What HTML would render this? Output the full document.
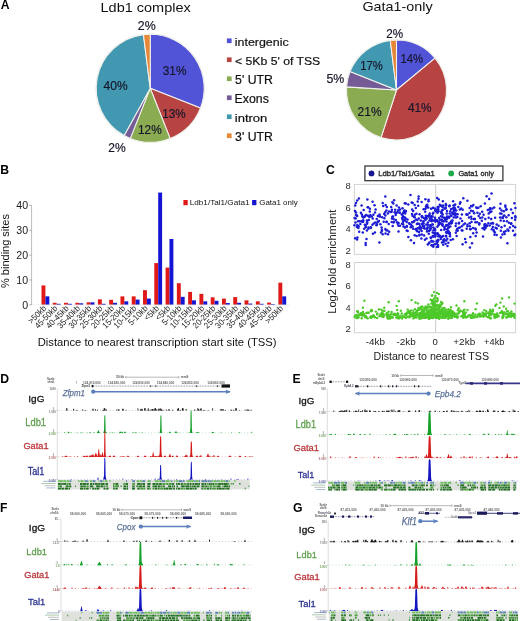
<!DOCTYPE html>
<html><head><meta charset="utf-8"><style>
html,body{margin:0;padding:0;background:#fff;}
body{width:520px;height:621px;overflow:hidden;}
svg{display:block;filter:blur(0.3px);}
svg text{font-family:"Liberation Sans", sans-serif;}
</style></head><body>
<svg width="520" height="621" viewBox="0 0 520 621">
<rect width="520" height="621" fill="#fff"/>
<text x="0.84" y="9.20" font-size="12.2" font-weight="bold" fill="#000">A</text>
<circle cx="150.2" cy="88.2" r="54.7" fill="#e9ebe4"/>
<path d="M150.20,88.20 L150.20,34.20 A54,54 0 0 1 200.41,108.08 Z" fill="#5254d8" stroke="#f2f2ee" stroke-width="1.05" stroke-linejoin="round"/>
<path d="M150.20,88.20 L200.41,108.08 A54,54 0 0 1 170.08,138.41 Z" fill="#b74443" stroke="#f2f2ee" stroke-width="1.05" stroke-linejoin="round"/>
<path d="M150.20,88.20 L170.08,138.41 A54,54 0 0 1 130.32,138.41 Z" fill="#8aab52" stroke="#f2f2ee" stroke-width="1.05" stroke-linejoin="round"/>
<path d="M150.20,88.20 L130.32,138.41 A54,54 0 0 1 124.19,135.52 Z" fill="#765c96" stroke="#f2f2ee" stroke-width="1.05" stroke-linejoin="round"/>
<path d="M150.20,88.20 L124.19,135.52 A54,54 0 0 1 143.43,34.63 Z" fill="#4298b0" stroke="#f2f2ee" stroke-width="1.05" stroke-linejoin="round"/>
<path d="M150.20,88.20 L143.43,34.63 A54,54 0 0 1 150.20,34.20 Z" fill="#e48838" stroke="#f2f2ee" stroke-width="1.05" stroke-linejoin="round"/>
<circle cx="396.5" cy="90.0" r="50.7" fill="#e9ebe4"/>
<path d="M396.50,90.00 L396.50,40.00 A50,50 0 0 1 435.03,58.13 Z" fill="#5254d8" stroke="#f2f2ee" stroke-width="1.05" stroke-linejoin="round"/>
<path d="M396.50,90.00 L435.03,58.13 A50,50 0 0 1 381.05,137.55 Z" fill="#b74443" stroke="#f2f2ee" stroke-width="1.05" stroke-linejoin="round"/>
<path d="M396.50,90.00 L381.05,137.55 A50,50 0 0 1 346.60,86.86 Z" fill="#8aab52" stroke="#f2f2ee" stroke-width="1.05" stroke-linejoin="round"/>
<path d="M396.50,90.00 L346.60,86.86 A50,50 0 0 1 350.01,71.59 Z" fill="#765c96" stroke="#f2f2ee" stroke-width="1.05" stroke-linejoin="round"/>
<path d="M396.50,90.00 L350.01,71.59 A50,50 0 0 1 390.23,40.39 Z" fill="#4298b0" stroke="#f2f2ee" stroke-width="1.05" stroke-linejoin="round"/>
<path d="M396.50,90.00 L390.23,40.39 A50,50 0 0 1 396.50,40.00 Z" fill="#e48838" stroke="#f2f2ee" stroke-width="1.05" stroke-linejoin="round"/>
<text x="100.54" y="11.90" font-size="13.38" fill="#111" textLength="90.22" lengthAdjust="spacingAndGlyphs">Ldb1 complex</text>
<text x="362.48" y="11.40" font-size="12.55" fill="#111" textLength="70.14" lengthAdjust="spacingAndGlyphs">Gata1-only</text>
<text x="137.78" y="29.50" font-size="11.86" fill="#16162a" stroke="#16162a" stroke-width="0.18" textLength="17.85" lengthAdjust="spacingAndGlyphs">2%</text>
<text x="162.73" y="75.20" font-size="11.86" fill="#16162a" stroke="#16162a" stroke-width="0.18" textLength="23.71" lengthAdjust="spacingAndGlyphs">31%</text>
<text x="103.56" y="89.80" font-size="12.00" fill="#16162a" stroke="#16162a" stroke-width="0.18" textLength="24.08" lengthAdjust="spacingAndGlyphs">40%</text>
<text x="162.33" y="118.30" font-size="11.86" fill="#16162a" stroke="#16162a" stroke-width="0.18" textLength="23.30" lengthAdjust="spacingAndGlyphs">13%</text>
<text x="138.01" y="133.60" font-size="11.86" fill="#16162a" stroke="#16162a" stroke-width="0.18" textLength="23.83" lengthAdjust="spacingAndGlyphs">12%</text>
<text x="108.30" y="151.50" font-size="11.86" fill="#16162a" stroke="#16162a" stroke-width="0.18" textLength="17.43" lengthAdjust="spacingAndGlyphs">2%</text>
<text x="386.32" y="37.50" font-size="11.86" fill="#16162a" stroke="#16162a" stroke-width="0.18" textLength="16.90" lengthAdjust="spacingAndGlyphs">2%</text>
<text x="400.55" y="63.10" font-size="11.94" fill="#16162a" stroke="#16162a" stroke-width="0.18" textLength="22.56" lengthAdjust="spacingAndGlyphs">14%</text>
<text x="360.35" y="70.30" font-size="11.94" fill="#16162a" stroke="#16162a" stroke-width="0.18" textLength="22.56" lengthAdjust="spacingAndGlyphs">17%</text>
<text x="326.41" y="83.20" font-size="11.94" fill="#16162a" stroke="#16162a" stroke-width="0.18" textLength="17.83" lengthAdjust="spacingAndGlyphs">5%</text>
<text x="357.50" y="116.10" font-size="11.86" fill="#16162a" stroke="#16162a" stroke-width="0.18" textLength="24.14" lengthAdjust="spacingAndGlyphs">21%</text>
<text x="407.96" y="111.50" font-size="11.94" fill="#16162a" stroke="#16162a" stroke-width="0.18" textLength="23.67" lengthAdjust="spacingAndGlyphs">41%</text>
<rect x="226.90" y="38.40" width="4.70" height="4.70" fill="#5254d8"/>
<text x="234.79" y="45.60" font-size="11.72" fill="#111" stroke="#111" stroke-width="0.2" textLength="53.83" lengthAdjust="spacingAndGlyphs">intergenic</text>
<rect x="226.90" y="57.40" width="4.70" height="4.70" fill="#b74443"/>
<text x="234.99" y="64.60" font-size="11.72" fill="#111" stroke="#111" stroke-width="0.2" textLength="85.29" lengthAdjust="spacingAndGlyphs">&lt; 5Kb 5' of TSS</text>
<rect x="226.90" y="76.40" width="4.70" height="4.70" fill="#8aab52"/>
<text x="235.11" y="83.60" font-size="12.32" fill="#111" stroke="#111" stroke-width="0.2" textLength="37.85" lengthAdjust="spacingAndGlyphs">5' UTR</text>
<rect x="226.90" y="95.40" width="4.70" height="4.70" fill="#765c96"/>
<text x="234.61" y="102.60" font-size="12.32" fill="#111" stroke="#111" stroke-width="0.2" textLength="34.31" lengthAdjust="spacingAndGlyphs">Exons</text>
<rect x="226.90" y="114.40" width="4.70" height="4.70" fill="#4298b0"/>
<text x="234.75" y="121.60" font-size="11.72" fill="#111" stroke="#111" stroke-width="0.2" textLength="32.62" lengthAdjust="spacingAndGlyphs">intron</text>
<rect x="226.90" y="133.40" width="4.70" height="4.70" fill="#e48838"/>
<text x="235.11" y="140.60" font-size="12.14" fill="#111" stroke="#111" stroke-width="0.2" textLength="37.85" lengthAdjust="spacingAndGlyphs">3' UTR</text>
<text x="0.17" y="173.65" font-size="12.2" font-weight="bold" fill="#000">B</text>
<line x1="31.60" y1="205.40" x2="31.60" y2="305.00" stroke="#bdbdbd" stroke-width="1.0"/>
<line x1="29.30" y1="304.80" x2="31.60" y2="304.80" stroke="#9a9a9a" stroke-width="0.8"/>
<text x="22.19" y="308.50" font-size="10.57" fill="#1a1a1a" textLength="5.90" lengthAdjust="spacingAndGlyphs">0</text>
<line x1="29.30" y1="279.97" x2="31.60" y2="279.97" stroke="#9a9a9a" stroke-width="0.8"/>
<text x="16.31" y="283.67" font-size="10.57" fill="#1a1a1a" textLength="11.79" lengthAdjust="spacingAndGlyphs">10</text>
<line x1="29.30" y1="255.14" x2="31.60" y2="255.14" stroke="#9a9a9a" stroke-width="0.8"/>
<text x="16.30" y="258.84" font-size="10.57" fill="#1a1a1a" textLength="11.79" lengthAdjust="spacingAndGlyphs">20</text>
<line x1="29.30" y1="230.31" x2="31.60" y2="230.31" stroke="#9a9a9a" stroke-width="0.8"/>
<text x="16.30" y="234.01" font-size="10.57" fill="#1a1a1a" textLength="11.79" lengthAdjust="spacingAndGlyphs">30</text>
<line x1="29.30" y1="205.48" x2="31.60" y2="205.48" stroke="#9a9a9a" stroke-width="0.8"/>
<text x="16.30" y="209.18" font-size="10.57" fill="#1a1a1a" textLength="11.79" lengthAdjust="spacingAndGlyphs">40</text>
<rect x="41.50" y="285.43" width="3.90" height="19.37" fill="#e01818"/>
<rect x="45.40" y="296.36" width="3.90" height="8.44" fill="#1414d4"/>
<text x="46.80" y="309.00" font-size="8.6" fill="#1a1a1a" text-anchor="end" textLength="21.47" lengthAdjust="spacingAndGlyphs" transform="rotate(-45 46.80 309.00)">&gt;50kb</text>
<rect x="52.78" y="302.81" width="3.90" height="1.99" fill="#e01818"/>
<rect x="56.68" y="303.81" width="3.90" height="0.99" fill="#1414d4"/>
<text x="58.08" y="309.00" font-size="8.6" fill="#1a1a1a" text-anchor="end" textLength="28.19" lengthAdjust="spacingAndGlyphs" transform="rotate(-45 58.08 309.00)">45-50kb</text>
<rect x="64.06" y="302.81" width="3.90" height="1.99" fill="#e01818"/>
<rect x="67.96" y="303.81" width="3.90" height="0.99" fill="#1414d4"/>
<text x="69.36" y="309.00" font-size="8.6" fill="#1a1a1a" text-anchor="end" textLength="28.19" lengthAdjust="spacingAndGlyphs" transform="rotate(-45 69.36 309.00)">40-45kb</text>
<rect x="75.34" y="302.81" width="3.90" height="1.99" fill="#e01818"/>
<rect x="79.24" y="303.31" width="3.90" height="1.49" fill="#1414d4"/>
<text x="80.64" y="309.00" font-size="8.6" fill="#1a1a1a" text-anchor="end" textLength="28.19" lengthAdjust="spacingAndGlyphs" transform="rotate(-45 80.64 309.00)">35-40kb</text>
<rect x="86.62" y="302.32" width="3.90" height="2.48" fill="#e01818"/>
<rect x="90.52" y="302.32" width="3.90" height="2.48" fill="#1414d4"/>
<text x="91.92" y="309.00" font-size="8.6" fill="#1a1a1a" text-anchor="end" textLength="28.19" lengthAdjust="spacingAndGlyphs" transform="rotate(-45 91.92 309.00)">30-35kb</text>
<rect x="97.90" y="299.34" width="3.90" height="5.46" fill="#e01818"/>
<rect x="101.80" y="303.81" width="3.90" height="0.99" fill="#1414d4"/>
<text x="103.20" y="309.00" font-size="8.6" fill="#1a1a1a" text-anchor="end" textLength="28.19" lengthAdjust="spacingAndGlyphs" transform="rotate(-45 103.20 309.00)">25-30kb</text>
<rect x="109.18" y="299.83" width="3.90" height="4.97" fill="#e01818"/>
<rect x="113.08" y="302.81" width="3.90" height="1.99" fill="#1414d4"/>
<text x="114.48" y="309.00" font-size="8.6" fill="#1a1a1a" text-anchor="end" textLength="28.19" lengthAdjust="spacingAndGlyphs" transform="rotate(-45 114.48 309.00)">20-25kb</text>
<rect x="120.46" y="296.36" width="3.90" height="8.44" fill="#e01818"/>
<rect x="124.36" y="301.32" width="3.90" height="3.48" fill="#1414d4"/>
<text x="125.76" y="309.00" font-size="8.6" fill="#1a1a1a" text-anchor="end" textLength="28.19" lengthAdjust="spacingAndGlyphs" transform="rotate(-45 125.76 309.00)">15-20kb</text>
<rect x="131.74" y="296.36" width="3.90" height="8.44" fill="#e01818"/>
<rect x="135.64" y="299.59" width="3.90" height="5.21" fill="#1414d4"/>
<text x="137.04" y="309.00" font-size="8.6" fill="#1a1a1a" text-anchor="end" textLength="28.19" lengthAdjust="spacingAndGlyphs" transform="rotate(-45 137.04 309.00)">10-15kb</text>
<rect x="143.02" y="290.15" width="3.90" height="14.65" fill="#e01818"/>
<rect x="146.92" y="298.59" width="3.90" height="6.21" fill="#1414d4"/>
<text x="148.32" y="309.00" font-size="8.6" fill="#1a1a1a" text-anchor="end" textLength="23.85" lengthAdjust="spacingAndGlyphs" transform="rotate(-45 148.32 309.00)">5-10kb</text>
<rect x="154.30" y="263.09" width="3.90" height="41.71" fill="#e01818"/>
<rect x="158.20" y="192.57" width="3.90" height="112.23" fill="#1414d4"/>
<text x="159.60" y="309.00" font-size="8.6" fill="#1a1a1a" text-anchor="end" textLength="17.13" lengthAdjust="spacingAndGlyphs" transform="rotate(-45 159.60 309.00)">&lt;5kb</text>
<rect x="165.58" y="267.56" width="3.90" height="37.25" fill="#e01818"/>
<rect x="169.48" y="239.00" width="3.90" height="65.80" fill="#1414d4"/>
<text x="170.88" y="309.00" font-size="8.6" fill="#1a1a1a" text-anchor="end" textLength="17.13" lengthAdjust="spacingAndGlyphs" transform="rotate(-45 170.88 309.00)">&lt;5kb</text>
<rect x="176.86" y="283.20" width="3.90" height="21.60" fill="#e01818"/>
<rect x="180.76" y="296.85" width="3.90" height="7.95" fill="#1414d4"/>
<text x="182.16" y="309.00" font-size="8.6" fill="#1a1a1a" text-anchor="end" textLength="23.85" lengthAdjust="spacingAndGlyphs" transform="rotate(-45 182.16 309.00)">5-10kb</text>
<rect x="188.14" y="291.89" width="3.90" height="12.91" fill="#e01818"/>
<rect x="192.04" y="300.33" width="3.90" height="4.47" fill="#1414d4"/>
<text x="193.44" y="309.00" font-size="8.6" fill="#1a1a1a" text-anchor="end" textLength="28.19" lengthAdjust="spacingAndGlyphs" transform="rotate(-45 193.44 309.00)">10-15kb</text>
<rect x="199.42" y="293.87" width="3.90" height="10.93" fill="#e01818"/>
<rect x="203.32" y="301.32" width="3.90" height="3.48" fill="#1414d4"/>
<text x="204.72" y="309.00" font-size="8.6" fill="#1a1a1a" text-anchor="end" textLength="28.19" lengthAdjust="spacingAndGlyphs" transform="rotate(-45 204.72 309.00)">15-20kb</text>
<rect x="210.70" y="297.35" width="3.90" height="7.45" fill="#e01818"/>
<rect x="214.60" y="300.83" width="3.90" height="3.97" fill="#1414d4"/>
<text x="216.00" y="309.00" font-size="8.6" fill="#1a1a1a" text-anchor="end" textLength="28.19" lengthAdjust="spacingAndGlyphs" transform="rotate(-45 216.00 309.00)">20-25kb</text>
<rect x="221.98" y="298.59" width="3.90" height="6.21" fill="#e01818"/>
<rect x="225.88" y="303.06" width="3.90" height="1.74" fill="#1414d4"/>
<text x="227.28" y="309.00" font-size="8.6" fill="#1a1a1a" text-anchor="end" textLength="28.19" lengthAdjust="spacingAndGlyphs" transform="rotate(-45 227.28 309.00)">25-30kb</text>
<rect x="233.26" y="297.10" width="3.90" height="7.70" fill="#e01818"/>
<rect x="237.16" y="302.81" width="3.90" height="1.99" fill="#1414d4"/>
<text x="238.56" y="309.00" font-size="8.6" fill="#1a1a1a" text-anchor="end" textLength="28.19" lengthAdjust="spacingAndGlyphs" transform="rotate(-45 238.56 309.00)">30-35kb</text>
<rect x="244.54" y="300.33" width="3.90" height="4.47" fill="#e01818"/>
<rect x="248.44" y="303.56" width="3.90" height="1.24" fill="#1414d4"/>
<text x="249.84" y="309.00" font-size="8.6" fill="#1a1a1a" text-anchor="end" textLength="28.19" lengthAdjust="spacingAndGlyphs" transform="rotate(-45 249.84 309.00)">35-40kb</text>
<rect x="255.82" y="301.32" width="3.90" height="3.48" fill="#e01818"/>
<rect x="259.72" y="303.81" width="3.90" height="0.99" fill="#1414d4"/>
<text x="261.12" y="309.00" font-size="8.6" fill="#1a1a1a" text-anchor="end" textLength="28.19" lengthAdjust="spacingAndGlyphs" transform="rotate(-45 261.12 309.00)">40-45kb</text>
<rect x="267.10" y="302.57" width="3.90" height="2.23" fill="#e01818"/>
<rect x="271.00" y="304.06" width="3.90" height="0.74" fill="#1414d4"/>
<text x="272.40" y="309.00" font-size="8.6" fill="#1a1a1a" text-anchor="end" textLength="28.19" lengthAdjust="spacingAndGlyphs" transform="rotate(-45 272.40 309.00)">45-50kb</text>
<rect x="278.38" y="282.70" width="3.90" height="22.10" fill="#e01818"/>
<rect x="282.28" y="296.36" width="3.90" height="8.44" fill="#1414d4"/>
<text x="283.68" y="309.00" font-size="8.6" fill="#1a1a1a" text-anchor="end" textLength="21.47" lengthAdjust="spacingAndGlyphs" transform="rotate(-45 283.68 309.00)">&gt;50kb</text>
<line x1="31.60" y1="304.90" x2="290.00" y2="304.90" stroke="#e0e0e0" stroke-width="0.5"/>
<rect x="183.40" y="200.00" width="4.30" height="5.20" fill="#e01818"/>
<text x="189.75" y="204.80" font-size="7.59" fill="#111" textLength="59.81" lengthAdjust="spacingAndGlyphs">Ldb1/Tal1/Gata1</text>
<rect x="252.10" y="200.00" width="4.30" height="5.20" fill="#1414d4"/>
<text x="259.20" y="204.80" font-size="7.59" fill="#111" textLength="38.51" lengthAdjust="spacingAndGlyphs">Gata1 only</text>
<text x="8.90" y="287.98" font-size="10.62" fill="#111" textLength="73.98" lengthAdjust="spacingAndGlyphs" transform="rotate(-90 8.90 287.98)">% binding sites</text>
<text x="37.70" y="345.70" font-size="10.76" fill="#111" textLength="238.78" lengthAdjust="spacingAndGlyphs">Distance to nearest transcription start site (TSS)</text>
<text x="326.01" y="173.65" font-size="12.2" font-weight="bold" fill="#000">C</text>
<rect x="364.9" y="166.0" width="138.0" height="14.7" fill="#fff" stroke="#333" stroke-width="1.25"/>
<circle cx="371.5" cy="173.4" r="2.9" fill="#161690"/>
<text x="378.18" y="176.20" font-size="7.86" fill="#222" stroke="#222" stroke-width="0.3" textLength="56.76" lengthAdjust="spacingAndGlyphs">Ldb1/Tal1/Gata1</text>
<circle cx="451.2" cy="173.4" r="2.9" fill="#1eaa48"/>
<text x="458.43" y="176.10" font-size="7.59" fill="#222" stroke="#222" stroke-width="0.3" textLength="35.38" lengthAdjust="spacingAndGlyphs">Gata1 only</text>
<rect x="354.4" y="184.4" width="161.20000000000005" height="70.0" fill="#fff" stroke="#d2d2d2" stroke-width="1"/>
<line x1="435.70" y1="184.40" x2="435.70" y2="254.40" stroke="#c4c4c4" stroke-width="0.9"/>
<text x="345.48" y="189.30" font-size="8.29" fill="#2a2a2a" textLength="5.21" lengthAdjust="spacingAndGlyphs">8</text>
<text x="345.43" y="210.70" font-size="8.29" fill="#2a2a2a" textLength="5.26" lengthAdjust="spacingAndGlyphs">6</text>
<text x="345.73" y="232.10" font-size="8.41" fill="#2a2a2a" textLength="4.85" lengthAdjust="spacingAndGlyphs">4</text>
<text x="345.42" y="253.50" font-size="8.29" fill="#2a2a2a" textLength="5.38" lengthAdjust="spacingAndGlyphs">2</text>
<rect x="354.4" y="262.5" width="161.20000000000005" height="70.19999999999999" fill="#fff" stroke="#d2d2d2" stroke-width="1"/>
<line x1="435.70" y1="262.50" x2="435.70" y2="332.70" stroke="#c4c4c4" stroke-width="0.9"/>
<text x="345.48" y="267.70" font-size="8.29" fill="#2a2a2a" textLength="5.21" lengthAdjust="spacingAndGlyphs">8</text>
<text x="345.43" y="289.23" font-size="8.29" fill="#2a2a2a" textLength="5.26" lengthAdjust="spacingAndGlyphs">6</text>
<text x="345.73" y="310.77" font-size="8.41" fill="#2a2a2a" textLength="4.85" lengthAdjust="spacingAndGlyphs">4</text>
<text x="345.42" y="332.30" font-size="8.29" fill="#2a2a2a" textLength="5.38" lengthAdjust="spacingAndGlyphs">2</text>
<g fill="#1c1cd4"><circle cx="444.6" cy="208.4" r="1.25"/><circle cx="449.1" cy="223.7" r="1.25"/><circle cx="416.9" cy="224.0" r="1.25"/><circle cx="368.8" cy="220.0" r="1.25"/><circle cx="466.4" cy="214.3" r="1.25"/><circle cx="469.8" cy="226.2" r="1.25"/><circle cx="453.7" cy="217.5" r="1.25"/><circle cx="363.2" cy="217.0" r="1.25"/><circle cx="435.8" cy="219.9" r="1.25"/><circle cx="425.2" cy="211.8" r="1.25"/><circle cx="434.8" cy="228.8" r="1.25"/><circle cx="427.9" cy="224.7" r="1.25"/><circle cx="404.8" cy="217.4" r="1.25"/><circle cx="446.5" cy="221.6" r="1.25"/><circle cx="416.4" cy="228.7" r="1.25"/><circle cx="491.4" cy="211.5" r="1.25"/><circle cx="430.0" cy="218.5" r="1.25"/><circle cx="418.2" cy="205.7" r="1.25"/><circle cx="397.4" cy="212.2" r="1.25"/><circle cx="418.6" cy="196.4" r="1.25"/><circle cx="372.7" cy="218.4" r="1.25"/><circle cx="441.7" cy="220.6" r="1.25"/><circle cx="426.3" cy="224.6" r="1.25"/><circle cx="434.8" cy="229.0" r="1.25"/><circle cx="372.4" cy="224.7" r="1.25"/><circle cx="438.0" cy="233.9" r="1.25"/><circle cx="403.0" cy="213.3" r="1.25"/><circle cx="492.6" cy="223.1" r="1.25"/><circle cx="369.8" cy="211.5" r="1.25"/><circle cx="435.3" cy="236.6" r="1.25"/><circle cx="401.7" cy="214.5" r="1.25"/><circle cx="393.0" cy="216.5" r="1.25"/><circle cx="414.0" cy="243.1" r="1.25"/><circle cx="447.0" cy="211.1" r="1.25"/><circle cx="383.2" cy="205.9" r="1.25"/><circle cx="394.1" cy="200.2" r="1.25"/><circle cx="461.8" cy="230.3" r="1.25"/><circle cx="422.1" cy="216.2" r="1.25"/><circle cx="392.3" cy="216.8" r="1.25"/><circle cx="395.3" cy="212.4" r="1.25"/><circle cx="382.0" cy="230.8" r="1.25"/><circle cx="364.7" cy="216.7" r="1.25"/><circle cx="453.5" cy="205.6" r="1.25"/><circle cx="502.8" cy="218.0" r="1.25"/><circle cx="436.9" cy="241.2" r="1.25"/><circle cx="441.3" cy="212.7" r="1.25"/><circle cx="374.9" cy="232.4" r="1.25"/><circle cx="460.4" cy="202.2" r="1.25"/><circle cx="448.6" cy="216.8" r="1.25"/><circle cx="438.3" cy="207.3" r="1.25"/><circle cx="356.9" cy="226.9" r="1.25"/><circle cx="432.0" cy="219.6" r="1.25"/><circle cx="365.7" cy="227.3" r="1.25"/><circle cx="473.4" cy="205.0" r="1.25"/><circle cx="482.6" cy="228.2" r="1.25"/><circle cx="410.7" cy="227.2" r="1.25"/><circle cx="421.4" cy="238.6" r="1.25"/><circle cx="494.0" cy="231.3" r="1.25"/><circle cx="448.3" cy="224.8" r="1.25"/><circle cx="366.5" cy="239.1" r="1.25"/><circle cx="472.0" cy="243.2" r="1.25"/><circle cx="473.1" cy="228.1" r="1.25"/><circle cx="367.1" cy="223.8" r="1.25"/><circle cx="358.3" cy="227.9" r="1.25"/><circle cx="430.6" cy="237.7" r="1.25"/><circle cx="453.5" cy="211.6" r="1.25"/><circle cx="430.7" cy="228.4" r="1.25"/><circle cx="454.6" cy="210.4" r="1.25"/><circle cx="425.4" cy="199.2" r="1.25"/><circle cx="406.7" cy="221.9" r="1.25"/><circle cx="484.7" cy="224.3" r="1.25"/><circle cx="496.8" cy="228.6" r="1.25"/><circle cx="375.6" cy="209.6" r="1.25"/><circle cx="489.7" cy="209.2" r="1.25"/><circle cx="398.5" cy="231.5" r="1.25"/><circle cx="425.4" cy="219.9" r="1.25"/><circle cx="419.6" cy="214.3" r="1.25"/><circle cx="404.8" cy="203.2" r="1.25"/><circle cx="365.6" cy="242.9" r="1.25"/><circle cx="438.3" cy="225.2" r="1.25"/><circle cx="446.4" cy="225.0" r="1.25"/><circle cx="457.6" cy="214.3" r="1.25"/><circle cx="446.7" cy="218.6" r="1.25"/><circle cx="427.0" cy="206.9" r="1.25"/><circle cx="456.0" cy="214.3" r="1.25"/><circle cx="484.9" cy="203.6" r="1.25"/><circle cx="430.4" cy="230.1" r="1.25"/><circle cx="436.9" cy="241.1" r="1.25"/><circle cx="439.3" cy="224.3" r="1.25"/><circle cx="438.2" cy="209.2" r="1.25"/><circle cx="476.6" cy="232.6" r="1.25"/><circle cx="367.7" cy="207.3" r="1.25"/><circle cx="471.1" cy="210.8" r="1.25"/><circle cx="501.6" cy="210.4" r="1.25"/><circle cx="446.1" cy="205.3" r="1.25"/><circle cx="429.0" cy="231.0" r="1.25"/><circle cx="386.8" cy="221.8" r="1.25"/><circle cx="470.3" cy="237.0" r="1.25"/><circle cx="465.8" cy="242.2" r="1.25"/><circle cx="440.9" cy="216.2" r="1.25"/><circle cx="492.8" cy="227.1" r="1.25"/><circle cx="366.9" cy="230.5" r="1.25"/><circle cx="432.8" cy="213.8" r="1.25"/><circle cx="437.4" cy="226.8" r="1.25"/><circle cx="381.6" cy="227.6" r="1.25"/><circle cx="455.8" cy="214.3" r="1.25"/><circle cx="490.2" cy="208.6" r="1.25"/><circle cx="507.4" cy="243.3" r="1.25"/><circle cx="437.1" cy="220.2" r="1.25"/><circle cx="472.1" cy="206.3" r="1.25"/><circle cx="438.6" cy="211.3" r="1.25"/><circle cx="415.5" cy="229.3" r="1.25"/><circle cx="500.1" cy="213.4" r="1.25"/><circle cx="438.8" cy="199.4" r="1.25"/><circle cx="386.2" cy="230.2" r="1.25"/><circle cx="358.0" cy="221.2" r="1.25"/><circle cx="437.5" cy="233.3" r="1.25"/><circle cx="433.4" cy="207.8" r="1.25"/><circle cx="364.2" cy="228.7" r="1.25"/><circle cx="503.8" cy="221.0" r="1.25"/><circle cx="431.8" cy="241.4" r="1.25"/><circle cx="500.1" cy="217.6" r="1.25"/><circle cx="405.1" cy="213.4" r="1.25"/><circle cx="374.5" cy="205.3" r="1.25"/><circle cx="357.2" cy="216.0" r="1.25"/><circle cx="405.9" cy="211.6" r="1.25"/><circle cx="454.4" cy="205.5" r="1.25"/><circle cx="448.8" cy="231.7" r="1.25"/><circle cx="434.9" cy="235.2" r="1.25"/><circle cx="420.8" cy="220.6" r="1.25"/><circle cx="379.5" cy="214.4" r="1.25"/><circle cx="439.7" cy="204.7" r="1.25"/><circle cx="453.0" cy="213.9" r="1.25"/><circle cx="485.4" cy="224.3" r="1.25"/><circle cx="404.9" cy="227.6" r="1.25"/><circle cx="463.3" cy="198.2" r="1.25"/><circle cx="435.3" cy="221.5" r="1.25"/><circle cx="447.5" cy="246.0" r="1.25"/><circle cx="422.1" cy="217.2" r="1.25"/><circle cx="465.0" cy="223.6" r="1.25"/><circle cx="441.7" cy="205.8" r="1.25"/><circle cx="511.1" cy="209.5" r="1.25"/><circle cx="435.3" cy="210.5" r="1.25"/><circle cx="384.2" cy="214.1" r="1.25"/><circle cx="438.3" cy="236.2" r="1.25"/><circle cx="377.3" cy="222.4" r="1.25"/><circle cx="442.9" cy="201.2" r="1.25"/><circle cx="504.4" cy="215.5" r="1.25"/><circle cx="428.7" cy="216.5" r="1.25"/><circle cx="406.7" cy="230.5" r="1.25"/><circle cx="451.3" cy="216.0" r="1.25"/><circle cx="427.8" cy="244.4" r="1.25"/><circle cx="414.7" cy="217.3" r="1.25"/><circle cx="385.2" cy="212.3" r="1.25"/><circle cx="449.3" cy="206.2" r="1.25"/><circle cx="493.6" cy="229.9" r="1.25"/><circle cx="419.3" cy="228.3" r="1.25"/><circle cx="484.5" cy="225.6" r="1.25"/><circle cx="446.0" cy="236.6" r="1.25"/><circle cx="419.5" cy="227.4" r="1.25"/><circle cx="496.7" cy="224.4" r="1.25"/><circle cx="419.5" cy="234.8" r="1.25"/><circle cx="364.9" cy="224.7" r="1.25"/><circle cx="448.2" cy="233.1" r="1.25"/><circle cx="391.2" cy="207.1" r="1.25"/><circle cx="461.9" cy="226.3" r="1.25"/><circle cx="440.2" cy="205.8" r="1.25"/><circle cx="513.0" cy="230.8" r="1.25"/><circle cx="419.3" cy="235.6" r="1.25"/><circle cx="433.7" cy="244.7" r="1.25"/><circle cx="369.5" cy="216.6" r="1.25"/><circle cx="443.4" cy="240.3" r="1.25"/><circle cx="445.9" cy="225.7" r="1.25"/><circle cx="457.3" cy="217.0" r="1.25"/><circle cx="477.1" cy="222.3" r="1.25"/><circle cx="442.7" cy="225.7" r="1.25"/><circle cx="381.0" cy="232.5" r="1.25"/><circle cx="436.1" cy="211.2" r="1.25"/><circle cx="450.8" cy="222.1" r="1.25"/><circle cx="400.0" cy="225.8" r="1.25"/><circle cx="470.1" cy="229.3" r="1.25"/><circle cx="355.7" cy="218.4" r="1.25"/><circle cx="439.5" cy="222.4" r="1.25"/><circle cx="475.3" cy="228.6" r="1.25"/><circle cx="467.5" cy="224.8" r="1.25"/><circle cx="447.3" cy="229.8" r="1.25"/><circle cx="511.9" cy="218.0" r="1.25"/><circle cx="471.1" cy="206.1" r="1.25"/><circle cx="512.8" cy="212.9" r="1.25"/><circle cx="419.0" cy="232.0" r="1.25"/><circle cx="425.3" cy="209.1" r="1.25"/><circle cx="440.8" cy="239.1" r="1.25"/><circle cx="396.1" cy="213.2" r="1.25"/><circle cx="421.8" cy="216.3" r="1.25"/><circle cx="508.5" cy="230.8" r="1.25"/><circle cx="392.3" cy="202.3" r="1.25"/><circle cx="455.2" cy="204.4" r="1.25"/><circle cx="397.7" cy="223.7" r="1.25"/><circle cx="456.5" cy="230.5" r="1.25"/><circle cx="384.4" cy="218.3" r="1.25"/><circle cx="445.4" cy="219.3" r="1.25"/><circle cx="454.9" cy="208.3" r="1.25"/><circle cx="445.6" cy="207.6" r="1.25"/><circle cx="456.2" cy="210.6" r="1.25"/><circle cx="431.4" cy="216.2" r="1.25"/><circle cx="490.0" cy="209.5" r="1.25"/><circle cx="453.3" cy="208.1" r="1.25"/><circle cx="478.6" cy="216.0" r="1.25"/><circle cx="443.2" cy="236.1" r="1.25"/><circle cx="459.9" cy="209.5" r="1.25"/><circle cx="474.9" cy="219.1" r="1.25"/><circle cx="423.1" cy="221.6" r="1.25"/><circle cx="366.2" cy="215.1" r="1.25"/><circle cx="421.5" cy="228.1" r="1.25"/><circle cx="402.1" cy="217.9" r="1.25"/><circle cx="430.4" cy="225.3" r="1.25"/><circle cx="471.5" cy="222.1" r="1.25"/><circle cx="399.5" cy="212.5" r="1.25"/><circle cx="413.1" cy="211.0" r="1.25"/><circle cx="431.2" cy="237.6" r="1.25"/><circle cx="506.5" cy="209.2" r="1.25"/><circle cx="403.1" cy="224.2" r="1.25"/><circle cx="418.5" cy="198.7" r="1.25"/><circle cx="429.3" cy="242.4" r="1.25"/><circle cx="412.6" cy="226.5" r="1.25"/><circle cx="443.6" cy="242.1" r="1.25"/><circle cx="489.6" cy="225.6" r="1.25"/><circle cx="382.2" cy="217.3" r="1.25"/><circle cx="357.1" cy="239.4" r="1.25"/><circle cx="442.0" cy="242.6" r="1.25"/><circle cx="484.4" cy="229.4" r="1.25"/><circle cx="413.1" cy="228.8" r="1.25"/><circle cx="454.6" cy="213.3" r="1.25"/><circle cx="367.2" cy="222.3" r="1.25"/><circle cx="459.1" cy="222.7" r="1.25"/><circle cx="437.9" cy="240.1" r="1.25"/><circle cx="417.7" cy="201.5" r="1.25"/><circle cx="511.1" cy="224.1" r="1.25"/><circle cx="470.8" cy="229.0" r="1.25"/><circle cx="502.4" cy="234.6" r="1.25"/><circle cx="492.4" cy="208.4" r="1.25"/><circle cx="489.2" cy="198.9" r="1.25"/><circle cx="438.7" cy="235.0" r="1.25"/><circle cx="484.1" cy="227.9" r="1.25"/><circle cx="442.2" cy="224.8" r="1.25"/><circle cx="425.7" cy="218.3" r="1.25"/><circle cx="363.1" cy="220.3" r="1.25"/><circle cx="479.8" cy="213.8" r="1.25"/><circle cx="449.2" cy="217.8" r="1.25"/><circle cx="501.5" cy="213.8" r="1.25"/><circle cx="437.0" cy="221.0" r="1.25"/><circle cx="450.3" cy="211.2" r="1.25"/><circle cx="438.0" cy="245.0" r="1.25"/><circle cx="404.2" cy="210.9" r="1.25"/><circle cx="486.5" cy="226.3" r="1.25"/><circle cx="502.3" cy="217.5" r="1.25"/><circle cx="442.6" cy="207.3" r="1.25"/><circle cx="433.3" cy="246.7" r="1.25"/><circle cx="483.9" cy="227.8" r="1.25"/><circle cx="398.2" cy="210.3" r="1.25"/><circle cx="460.5" cy="218.4" r="1.25"/><circle cx="414.0" cy="217.0" r="1.25"/><circle cx="469.6" cy="223.2" r="1.25"/><circle cx="430.8" cy="226.8" r="1.25"/><circle cx="437.5" cy="211.4" r="1.25"/><circle cx="515.1" cy="219.8" r="1.25"/><circle cx="452.0" cy="222.7" r="1.25"/><circle cx="491.2" cy="219.0" r="1.25"/><circle cx="366.9" cy="220.5" r="1.25"/><circle cx="456.6" cy="235.9" r="1.25"/><circle cx="449.0" cy="217.1" r="1.25"/><circle cx="402.9" cy="215.9" r="1.25"/><circle cx="368.3" cy="228.7" r="1.25"/><circle cx="387.4" cy="230.5" r="1.25"/><circle cx="431.2" cy="217.8" r="1.25"/><circle cx="365.8" cy="226.1" r="1.25"/><circle cx="429.5" cy="220.6" r="1.25"/><circle cx="370.7" cy="227.9" r="1.25"/><circle cx="428.6" cy="199.8" r="1.25"/><circle cx="355.5" cy="222.4" r="1.25"/><circle cx="469.0" cy="217.5" r="1.25"/><circle cx="355.2" cy="205.4" r="1.25"/><circle cx="483.6" cy="214.7" r="1.25"/><circle cx="414.7" cy="205.0" r="1.25"/><circle cx="402.0" cy="223.8" r="1.25"/><circle cx="395.2" cy="209.8" r="1.25"/><circle cx="434.2" cy="233.2" r="1.25"/><circle cx="445.1" cy="220.0" r="1.25"/><circle cx="368.5" cy="227.5" r="1.25"/><circle cx="452.2" cy="212.9" r="1.25"/><circle cx="382.7" cy="234.3" r="1.25"/><circle cx="368.1" cy="207.3" r="1.25"/><circle cx="437.7" cy="241.7" r="1.25"/><circle cx="441.3" cy="211.9" r="1.25"/><circle cx="458.8" cy="223.6" r="1.25"/><circle cx="487.1" cy="225.4" r="1.25"/><circle cx="356.0" cy="212.5" r="1.25"/><circle cx="467.4" cy="200.7" r="1.25"/><circle cx="452.5" cy="220.5" r="1.25"/><circle cx="429.7" cy="213.4" r="1.25"/><circle cx="370.8" cy="227.2" r="1.25"/><circle cx="487.8" cy="210.1" r="1.25"/><circle cx="379.2" cy="216.2" r="1.25"/><circle cx="410.9" cy="240.3" r="1.25"/><circle cx="376.5" cy="225.3" r="1.25"/><circle cx="469.9" cy="247.6" r="1.25"/><circle cx="385.6" cy="205.1" r="1.25"/><circle cx="429.3" cy="215.1" r="1.25"/><circle cx="466.9" cy="214.7" r="1.25"/><circle cx="504.7" cy="225.8" r="1.25"/><circle cx="447.0" cy="216.5" r="1.25"/><circle cx="441.9" cy="219.4" r="1.25"/><circle cx="444.7" cy="220.5" r="1.25"/><circle cx="486.6" cy="196.3" r="1.25"/><circle cx="373.4" cy="214.7" r="1.25"/><circle cx="392.7" cy="226.0" r="1.25"/><circle cx="488.7" cy="213.5" r="1.25"/><circle cx="451.0" cy="215.5" r="1.25"/><circle cx="506.4" cy="217.2" r="1.25"/><circle cx="403.5" cy="226.4" r="1.25"/><circle cx="449.8" cy="233.1" r="1.25"/><circle cx="356.1" cy="214.9" r="1.25"/><circle cx="449.8" cy="234.3" r="1.25"/><circle cx="446.9" cy="231.9" r="1.25"/><circle cx="407.5" cy="219.5" r="1.25"/><circle cx="359.6" cy="221.2" r="1.25"/><circle cx="451.2" cy="223.5" r="1.25"/><circle cx="420.4" cy="229.6" r="1.25"/><circle cx="475.8" cy="229.4" r="1.25"/><circle cx="515.4" cy="208.0" r="1.25"/><circle cx="424.1" cy="235.5" r="1.25"/><circle cx="500.8" cy="230.7" r="1.25"/><circle cx="500.7" cy="220.5" r="1.25"/><circle cx="362.4" cy="221.8" r="1.25"/><circle cx="450.7" cy="240.1" r="1.25"/><circle cx="403.1" cy="221.7" r="1.25"/><circle cx="432.8" cy="235.9" r="1.25"/><circle cx="361.9" cy="214.6" r="1.25"/><circle cx="439.1" cy="217.9" r="1.25"/><circle cx="391.9" cy="209.8" r="1.25"/><circle cx="465.1" cy="239.0" r="1.25"/><circle cx="494.5" cy="234.7" r="1.25"/><circle cx="441.9" cy="237.0" r="1.25"/><circle cx="500.5" cy="203.8" r="1.25"/><circle cx="427.9" cy="222.4" r="1.25"/><circle cx="363.7" cy="209.9" r="1.25"/><circle cx="486.2" cy="226.1" r="1.25"/><circle cx="360.9" cy="212.8" r="1.25"/><circle cx="444.8" cy="228.8" r="1.25"/><circle cx="505.5" cy="207.1" r="1.25"/><circle cx="433.5" cy="230.3" r="1.25"/><circle cx="385.3" cy="196.4" r="1.25"/><circle cx="411.1" cy="224.7" r="1.25"/><circle cx="515.5" cy="217.4" r="1.25"/><circle cx="429.8" cy="228.5" r="1.25"/><circle cx="361.6" cy="205.6" r="1.25"/><circle cx="500.0" cy="208.4" r="1.25"/><circle cx="469.6" cy="208.1" r="1.25"/><circle cx="425.9" cy="206.7" r="1.25"/><circle cx="437.5" cy="212.8" r="1.25"/><circle cx="385.4" cy="215.4" r="1.25"/><circle cx="482.2" cy="211.7" r="1.25"/><circle cx="461.2" cy="208.4" r="1.25"/><circle cx="429.0" cy="243.2" r="1.25"/><circle cx="462.1" cy="220.9" r="1.25"/><circle cx="454.4" cy="210.2" r="1.25"/><circle cx="439.9" cy="219.7" r="1.25"/><circle cx="426.8" cy="228.4" r="1.25"/><circle cx="436.6" cy="243.4" r="1.25"/><circle cx="393.5" cy="222.6" r="1.25"/><circle cx="442.7" cy="210.1" r="1.25"/><circle cx="358.9" cy="198.5" r="1.25"/><circle cx="475.7" cy="236.0" r="1.25"/><circle cx="382.7" cy="203.0" r="1.25"/><circle cx="458.5" cy="228.0" r="1.25"/><circle cx="437.6" cy="207.0" r="1.25"/><circle cx="491.1" cy="223.4" r="1.25"/><circle cx="381.8" cy="229.8" r="1.25"/><circle cx="380.4" cy="224.3" r="1.25"/><circle cx="479.3" cy="223.2" r="1.25"/><circle cx="482.3" cy="217.5" r="1.25"/><circle cx="444.1" cy="239.3" r="1.25"/><circle cx="359.2" cy="231.7" r="1.25"/><circle cx="495.6" cy="227.7" r="1.25"/><circle cx="437.1" cy="221.0" r="1.25"/><circle cx="424.2" cy="225.9" r="1.25"/><circle cx="365.3" cy="215.7" r="1.25"/><circle cx="446.1" cy="235.8" r="1.25"/><circle cx="432.1" cy="245.4" r="1.25"/><circle cx="360.3" cy="224.1" r="1.25"/><circle cx="396.6" cy="205.5" r="1.25"/><circle cx="367.9" cy="215.8" r="1.25"/><circle cx="431.5" cy="245.2" r="1.25"/><circle cx="488.7" cy="217.7" r="1.25"/><circle cx="412.8" cy="222.0" r="1.25"/><circle cx="439.4" cy="223.4" r="1.25"/><circle cx="477.4" cy="212.8" r="1.25"/><circle cx="474.7" cy="219.0" r="1.25"/><circle cx="437.2" cy="198.1" r="1.25"/><circle cx="426.8" cy="216.6" r="1.25"/><circle cx="473.0" cy="211.3" r="1.25"/><circle cx="435.4" cy="244.0" r="1.25"/><circle cx="505.3" cy="205.6" r="1.25"/><circle cx="408.3" cy="204.6" r="1.25"/><circle cx="433.4" cy="236.8" r="1.25"/><circle cx="446.6" cy="232.8" r="1.25"/><circle cx="449.6" cy="205.5" r="1.25"/><circle cx="428.8" cy="233.8" r="1.25"/><circle cx="480.7" cy="206.3" r="1.25"/><circle cx="430.7" cy="216.6" r="1.25"/><circle cx="380.1" cy="216.5" r="1.25"/><circle cx="403.7" cy="211.7" r="1.25"/><circle cx="515.2" cy="227.2" r="1.25"/><circle cx="411.6" cy="226.2" r="1.25"/><circle cx="412.5" cy="215.8" r="1.25"/><circle cx="356.5" cy="215.2" r="1.25"/><circle cx="503.8" cy="211.3" r="1.25"/><circle cx="397.2" cy="222.3" r="1.25"/><circle cx="412.0" cy="214.0" r="1.25"/><circle cx="471.2" cy="216.8" r="1.25"/><circle cx="416.0" cy="219.6" r="1.25"/><circle cx="444.3" cy="229.8" r="1.25"/><circle cx="438.0" cy="208.9" r="1.25"/><circle cx="438.1" cy="246.8" r="1.25"/><circle cx="432.8" cy="224.5" r="1.25"/><circle cx="422.5" cy="223.8" r="1.25"/><circle cx="395.9" cy="220.0" r="1.25"/><circle cx="461.9" cy="214.4" r="1.25"/><circle cx="469.5" cy="213.0" r="1.25"/><circle cx="416.4" cy="213.7" r="1.25"/><circle cx="409.6" cy="223.9" r="1.25"/><circle cx="438.5" cy="222.1" r="1.25"/><circle cx="445.6" cy="208.5" r="1.25"/><circle cx="462.6" cy="244.3" r="1.25"/><circle cx="388.7" cy="224.1" r="1.25"/><circle cx="494.8" cy="232.5" r="1.25"/><circle cx="433.4" cy="241.4" r="1.25"/><circle cx="363.2" cy="221.8" r="1.25"/><circle cx="406.9" cy="226.7" r="1.25"/><circle cx="435.8" cy="233.7" r="1.25"/><circle cx="444.3" cy="227.2" r="1.25"/><circle cx="427.1" cy="229.5" r="1.25"/><circle cx="447.3" cy="238.7" r="1.25"/><circle cx="467.4" cy="226.3" r="1.25"/><circle cx="425.8" cy="215.7" r="1.25"/><circle cx="431.9" cy="220.5" r="1.25"/><circle cx="448.8" cy="227.4" r="1.25"/><circle cx="436.9" cy="247.1" r="1.25"/><circle cx="498.6" cy="225.8" r="1.25"/><circle cx="383.7" cy="221.7" r="1.25"/><circle cx="453.6" cy="209.2" r="1.25"/><circle cx="506.9" cy="221.2" r="1.25"/><circle cx="455.6" cy="226.1" r="1.25"/><circle cx="398.4" cy="225.7" r="1.25"/><circle cx="496.7" cy="234.9" r="1.25"/><circle cx="455.3" cy="213.6" r="1.25"/><circle cx="412.1" cy="209.4" r="1.25"/><circle cx="377.9" cy="215.9" r="1.25"/><circle cx="391.6" cy="211.7" r="1.25"/><circle cx="422.8" cy="226.0" r="1.25"/><circle cx="424.9" cy="239.8" r="1.25"/><circle cx="444.8" cy="217.9" r="1.25"/><circle cx="511.2" cy="223.2" r="1.25"/><circle cx="404.5" cy="210.4" r="1.25"/><circle cx="466.7" cy="228.7" r="1.25"/><circle cx="379.4" cy="242.6" r="1.25"/><circle cx="433.3" cy="227.5" r="1.25"/><circle cx="475.4" cy="222.3" r="1.25"/><circle cx="392.0" cy="218.5" r="1.25"/><circle cx="447.4" cy="228.9" r="1.25"/><circle cx="435.0" cy="217.8" r="1.25"/><circle cx="371.8" cy="216.5" r="1.25"/><circle cx="479.2" cy="224.5" r="1.25"/><circle cx="495.1" cy="217.8" r="1.25"/><circle cx="435.2" cy="208.8" r="1.25"/><circle cx="417.3" cy="220.1" r="1.25"/><circle cx="406.7" cy="226.1" r="1.25"/><circle cx="477.1" cy="208.0" r="1.25"/><circle cx="421.9" cy="234.4" r="1.25"/><circle cx="454.9" cy="209.6" r="1.25"/><circle cx="414.7" cy="235.3" r="1.25"/><circle cx="443.3" cy="244.8" r="1.25"/><circle cx="408.4" cy="237.1" r="1.25"/><circle cx="375.2" cy="222.6" r="1.25"/><circle cx="418.0" cy="228.3" r="1.25"/><circle cx="514.4" cy="203.2" r="1.25"/><circle cx="441.9" cy="213.5" r="1.25"/><circle cx="515.2" cy="216.3" r="1.25"/><circle cx="434.1" cy="220.4" r="1.25"/><circle cx="432.1" cy="224.6" r="1.25"/><circle cx="490.0" cy="212.3" r="1.25"/><circle cx="417.2" cy="231.3" r="1.25"/><circle cx="416.8" cy="230.2" r="1.25"/><circle cx="442.3" cy="216.7" r="1.25"/><circle cx="428.5" cy="201.3" r="1.25"/><circle cx="446.3" cy="240.6" r="1.25"/><circle cx="434.4" cy="220.7" r="1.25"/><circle cx="376.8" cy="224.2" r="1.25"/><circle cx="431.4" cy="240.7" r="1.25"/><circle cx="395.7" cy="215.0" r="1.25"/><circle cx="403.8" cy="217.3" r="1.25"/><circle cx="441.9" cy="210.5" r="1.25"/><circle cx="386.4" cy="210.6" r="1.25"/><circle cx="484.8" cy="227.2" r="1.25"/><circle cx="362.8" cy="232.6" r="1.25"/><circle cx="398.6" cy="223.1" r="1.25"/><circle cx="494.2" cy="207.5" r="1.25"/><circle cx="471.5" cy="218.9" r="1.25"/><circle cx="443.6" cy="221.6" r="1.25"/><circle cx="446.8" cy="217.8" r="1.25"/><circle cx="403.9" cy="220.0" r="1.25"/><circle cx="435.4" cy="221.1" r="1.25"/><circle cx="485.3" cy="218.9" r="1.25"/><circle cx="473.2" cy="233.3" r="1.25"/><circle cx="478.4" cy="207.7" r="1.25"/><circle cx="369.9" cy="208.7" r="1.25"/><circle cx="394.2" cy="221.7" r="1.25"/><circle cx="357.3" cy="225.0" r="1.25"/><circle cx="413.6" cy="221.9" r="1.25"/><circle cx="485.5" cy="228.1" r="1.25"/><circle cx="398.9" cy="207.6" r="1.25"/><circle cx="405.8" cy="210.9" r="1.25"/><circle cx="387.9" cy="213.4" r="1.25"/><circle cx="442.4" cy="221.2" r="1.25"/><circle cx="428.1" cy="216.0" r="1.25"/><circle cx="355.0" cy="211.1" r="1.25"/><circle cx="419.1" cy="224.0" r="1.25"/><circle cx="386.8" cy="207.1" r="1.25"/><circle cx="405.7" cy="218.4" r="1.25"/><circle cx="423.5" cy="223.4" r="1.25"/><circle cx="389.2" cy="231.8" r="1.25"/><circle cx="447.0" cy="225.4" r="1.25"/><circle cx="405.9" cy="203.4" r="1.25"/><circle cx="410.5" cy="195.0" r="1.25"/><circle cx="427.0" cy="231.4" r="1.25"/><circle cx="388.0" cy="234.3" r="1.25"/><circle cx="455.8" cy="232.7" r="1.25"/><circle cx="445.9" cy="203.9" r="1.25"/><circle cx="427.2" cy="205.8" r="1.25"/><circle cx="421.7" cy="224.0" r="1.25"/><circle cx="446.7" cy="213.6" r="1.25"/><circle cx="358.7" cy="226.2" r="1.25"/><circle cx="450.3" cy="226.4" r="1.25"/><circle cx="404.4" cy="212.3" r="1.25"/><circle cx="514.5" cy="235.2" r="1.25"/><circle cx="451.1" cy="209.1" r="1.25"/><circle cx="435.1" cy="235.7" r="1.25"/><circle cx="506.1" cy="209.8" r="1.25"/><circle cx="515.2" cy="234.5" r="1.25"/><circle cx="450.0" cy="236.3" r="1.25"/><circle cx="438.5" cy="239.9" r="1.25"/><circle cx="385.4" cy="229.0" r="1.25"/><circle cx="458.3" cy="206.9" r="1.25"/><circle cx="433.4" cy="212.7" r="1.25"/><circle cx="440.1" cy="236.7" r="1.25"/><circle cx="500.9" cy="237.5" r="1.25"/><circle cx="378.2" cy="221.6" r="1.25"/><circle cx="440.2" cy="236.1" r="1.25"/><circle cx="372.6" cy="201.7" r="1.25"/><circle cx="415.8" cy="208.0" r="1.25"/><circle cx="452.9" cy="239.3" r="1.25"/><circle cx="385.5" cy="233.6" r="1.25"/><circle cx="423.6" cy="209.3" r="1.25"/><circle cx="456.0" cy="217.6" r="1.25"/><circle cx="451.6" cy="220.7" r="1.25"/><circle cx="427.7" cy="227.3" r="1.25"/><circle cx="421.6" cy="201.9" r="1.25"/><circle cx="411.7" cy="202.4" r="1.25"/><circle cx="456.0" cy="223.4" r="1.25"/><circle cx="412.1" cy="222.3" r="1.25"/><circle cx="448.3" cy="231.2" r="1.25"/><circle cx="420.0" cy="226.3" r="1.25"/><circle cx="435.9" cy="209.7" r="1.25"/><circle cx="391.7" cy="221.9" r="1.25"/><circle cx="399.8" cy="212.7" r="1.25"/><circle cx="463.6" cy="224.5" r="1.25"/><circle cx="505.5" cy="231.3" r="1.25"/><circle cx="426.5" cy="207.6" r="1.25"/><circle cx="426.1" cy="218.1" r="1.25"/><circle cx="508.9" cy="222.7" r="1.25"/><circle cx="393.3" cy="203.4" r="1.25"/><circle cx="375.0" cy="212.4" r="1.25"/><circle cx="409.1" cy="223.2" r="1.25"/><circle cx="491.9" cy="229.3" r="1.25"/><circle cx="426.6" cy="218.7" r="1.25"/><circle cx="414.4" cy="221.1" r="1.25"/><circle cx="462.4" cy="230.6" r="1.25"/><circle cx="357.2" cy="200.5" r="1.25"/><circle cx="429.8" cy="225.8" r="1.25"/><circle cx="462.7" cy="209.8" r="1.25"/><circle cx="488.4" cy="223.2" r="1.25"/><circle cx="467.6" cy="214.7" r="1.25"/><circle cx="418.8" cy="218.6" r="1.25"/><circle cx="389.0" cy="211.5" r="1.25"/><circle cx="376.7" cy="218.9" r="1.25"/><circle cx="474.2" cy="213.2" r="1.25"/><circle cx="454.9" cy="215.4" r="1.25"/><circle cx="394.7" cy="212.3" r="1.25"/><circle cx="372.9" cy="233.8" r="1.25"/><circle cx="356.0" cy="203.0" r="1.25"/><circle cx="357.4" cy="237.4" r="1.25"/><circle cx="440.7" cy="223.3" r="1.25"/><circle cx="402.6" cy="219.5" r="1.25"/><circle cx="373.7" cy="223.4" r="1.25"/><circle cx="432.7" cy="232.6" r="1.25"/><circle cx="393.6" cy="219.1" r="1.25"/><circle cx="362.3" cy="216.2" r="1.25"/><circle cx="428.2" cy="207.6" r="1.25"/><circle cx="370.4" cy="215.0" r="1.25"/><circle cx="438.9" cy="223.3" r="1.25"/><circle cx="453.1" cy="201.3" r="1.25"/><circle cx="355.2" cy="238.3" r="1.25"/><circle cx="444.6" cy="240.2" r="1.25"/><circle cx="378.9" cy="220.9" r="1.25"/><circle cx="435.0" cy="232.4" r="1.25"/><circle cx="491.5" cy="193.4" r="1.25"/><circle cx="430.9" cy="220.4" r="1.25"/><circle cx="448.3" cy="242.8" r="1.25"/><circle cx="459.9" cy="203.8" r="1.25"/><circle cx="507.5" cy="229.4" r="1.25"/><circle cx="417.7" cy="223.5" r="1.25"/><circle cx="473.8" cy="219.0" r="1.25"/><circle cx="431.1" cy="208.8" r="1.25"/><circle cx="423.5" cy="221.6" r="1.25"/><circle cx="363.5" cy="217.5" r="1.25"/><circle cx="442.6" cy="224.3" r="1.25"/><circle cx="441.2" cy="229.9" r="1.25"/><circle cx="391.0" cy="212.1" r="1.25"/><circle cx="432.8" cy="208.1" r="1.25"/><circle cx="354.6" cy="217.9" r="1.25"/><circle cx="509.9" cy="227.6" r="1.25"/><circle cx="402.5" cy="208.2" r="1.25"/><circle cx="449.4" cy="223.2" r="1.25"/><circle cx="476.2" cy="207.6" r="1.25"/><circle cx="444.1" cy="217.8" r="1.25"/><circle cx="483.0" cy="236.5" r="1.25"/><circle cx="400.0" cy="209.4" r="1.25"/><circle cx="367.4" cy="199.4" r="1.25"/><circle cx="405.1" cy="220.4" r="1.25"/><circle cx="481.8" cy="220.7" r="1.25"/><circle cx="361.3" cy="221.2" r="1.25"/><circle cx="443.3" cy="205.5" r="1.25"/><circle cx="427.2" cy="204.8" r="1.25"/><circle cx="354.4" cy="225.3" r="1.25"/><circle cx="421.6" cy="231.0" r="1.25"/><circle cx="365.7" cy="244.9" r="1.25"/><circle cx="425.2" cy="218.4" r="1.25"/><circle cx="424.6" cy="228.4" r="1.25"/><circle cx="426.4" cy="205.4" r="1.25"/><circle cx="454.4" cy="207.9" r="1.25"/><circle cx="442.7" cy="214.6" r="1.25"/><circle cx="508.7" cy="215.2" r="1.25"/><circle cx="503.6" cy="216.0" r="1.25"/><circle cx="490.1" cy="208.3" r="1.25"/><circle cx="446.2" cy="232.3" r="1.25"/><circle cx="423.8" cy="218.0" r="1.25"/><circle cx="504.6" cy="234.0" r="1.25"/><circle cx="480.2" cy="217.9" r="1.25"/><circle cx="435.2" cy="229.9" r="1.25"/><circle cx="386.4" cy="222.0" r="1.25"/><circle cx="449.7" cy="213.5" r="1.25"/><circle cx="416.7" cy="235.9" r="1.25"/><circle cx="448.5" cy="227.3" r="1.25"/><circle cx="513.1" cy="225.9" r="1.25"/><circle cx="445.7" cy="243.8" r="1.25"/><circle cx="447.1" cy="218.7" r="1.25"/><circle cx="414.9" cy="214.8" r="1.25"/><circle cx="423.9" cy="228.1" r="1.25"/><circle cx="501.5" cy="227.3" r="1.25"/><circle cx="432.7" cy="216.5" r="1.25"/><circle cx="457.7" cy="230.7" r="1.25"/><circle cx="459.8" cy="227.6" r="1.25"/><circle cx="407.7" cy="231.0" r="1.25"/><circle cx="457.2" cy="228.9" r="1.25"/><circle cx="369.4" cy="217.0" r="1.25"/><circle cx="426.5" cy="238.5" r="1.25"/><circle cx="431.6" cy="221.3" r="1.25"/><circle cx="503.9" cy="231.9" r="1.25"/><circle cx="412.7" cy="203.1" r="1.25"/><circle cx="493.1" cy="223.4" r="1.25"/></g>
<g fill="#4ec82a"><circle cx="396.6" cy="305.9" r="1.2"/><circle cx="432.6" cy="315.7" r="1.2"/><circle cx="397.8" cy="316.4" r="1.2"/><circle cx="495.7" cy="317.1" r="1.2"/><circle cx="452.7" cy="314.9" r="1.2"/><circle cx="460.9" cy="311.3" r="1.2"/><circle cx="443.0" cy="317.4" r="1.2"/><circle cx="412.5" cy="312.9" r="1.2"/><circle cx="413.8" cy="313.5" r="1.2"/><circle cx="445.6" cy="316.1" r="1.2"/><circle cx="371.4" cy="310.9" r="1.2"/><circle cx="439.1" cy="308.9" r="1.2"/><circle cx="431.9" cy="295.6" r="1.2"/><circle cx="437.6" cy="305.3" r="1.2"/><circle cx="432.0" cy="317.6" r="1.2"/><circle cx="513.5" cy="313.8" r="1.2"/><circle cx="438.3" cy="317.7" r="1.2"/><circle cx="424.6" cy="313.9" r="1.2"/><circle cx="433.1" cy="304.8" r="1.2"/><circle cx="432.6" cy="317.6" r="1.2"/><circle cx="511.8" cy="314.7" r="1.2"/><circle cx="426.0" cy="307.7" r="1.2"/><circle cx="508.1" cy="311.2" r="1.2"/><circle cx="356.7" cy="315.2" r="1.2"/><circle cx="453.2" cy="314.4" r="1.2"/><circle cx="449.7" cy="313.8" r="1.2"/><circle cx="358.6" cy="317.4" r="1.2"/><circle cx="357.4" cy="318.1" r="1.2"/><circle cx="438.1" cy="314.6" r="1.2"/><circle cx="489.1" cy="315.7" r="1.2"/><circle cx="453.8" cy="315.8" r="1.2"/><circle cx="439.1" cy="316.1" r="1.2"/><circle cx="391.6" cy="311.9" r="1.2"/><circle cx="436.6" cy="313.4" r="1.2"/><circle cx="481.0" cy="316.2" r="1.2"/><circle cx="395.8" cy="315.0" r="1.2"/><circle cx="383.5" cy="316.7" r="1.2"/><circle cx="432.4" cy="303.4" r="1.2"/><circle cx="366.3" cy="313.1" r="1.2"/><circle cx="418.4" cy="314.7" r="1.2"/><circle cx="413.8" cy="316.0" r="1.2"/><circle cx="416.5" cy="317.2" r="1.2"/><circle cx="408.5" cy="312.9" r="1.2"/><circle cx="419.6" cy="314.2" r="1.2"/><circle cx="355.7" cy="315.2" r="1.2"/><circle cx="424.8" cy="308.8" r="1.2"/><circle cx="441.1" cy="301.9" r="1.2"/><circle cx="409.1" cy="311.1" r="1.2"/><circle cx="507.4" cy="316.9" r="1.2"/><circle cx="497.1" cy="313.5" r="1.2"/><circle cx="414.1" cy="317.3" r="1.2"/><circle cx="365.1" cy="316.9" r="1.2"/><circle cx="456.8" cy="315.5" r="1.2"/><circle cx="444.6" cy="313.1" r="1.2"/><circle cx="477.6" cy="315.0" r="1.2"/><circle cx="444.3" cy="315.8" r="1.2"/><circle cx="428.0" cy="306.5" r="1.2"/><circle cx="379.6" cy="316.2" r="1.2"/><circle cx="452.3" cy="311.1" r="1.2"/><circle cx="428.3" cy="314.5" r="1.2"/><circle cx="384.5" cy="310.9" r="1.2"/><circle cx="435.8" cy="316.8" r="1.2"/><circle cx="423.7" cy="316.4" r="1.2"/><circle cx="387.9" cy="318.3" r="1.2"/><circle cx="434.7" cy="314.1" r="1.2"/><circle cx="444.3" cy="317.7" r="1.2"/><circle cx="435.8" cy="305.6" r="1.2"/><circle cx="419.6" cy="315.4" r="1.2"/><circle cx="437.5" cy="298.3" r="1.2"/><circle cx="421.3" cy="314.9" r="1.2"/><circle cx="441.8" cy="304.2" r="1.2"/><circle cx="497.0" cy="317.1" r="1.2"/><circle cx="400.5" cy="317.0" r="1.2"/><circle cx="430.7" cy="310.0" r="1.2"/><circle cx="443.4" cy="316.9" r="1.2"/><circle cx="410.0" cy="314.8" r="1.2"/><circle cx="437.2" cy="305.7" r="1.2"/><circle cx="431.9" cy="308.9" r="1.2"/><circle cx="428.7" cy="317.5" r="1.2"/><circle cx="457.9" cy="310.3" r="1.2"/><circle cx="367.2" cy="312.8" r="1.2"/><circle cx="483.4" cy="316.6" r="1.2"/><circle cx="422.8" cy="314.8" r="1.2"/><circle cx="432.0" cy="316.4" r="1.2"/><circle cx="409.2" cy="316.9" r="1.2"/><circle cx="484.3" cy="310.1" r="1.2"/><circle cx="483.3" cy="313.6" r="1.2"/><circle cx="382.1" cy="312.6" r="1.2"/><circle cx="436.9" cy="308.4" r="1.2"/><circle cx="433.7" cy="301.7" r="1.2"/><circle cx="501.8" cy="311.1" r="1.2"/><circle cx="432.2" cy="295.5" r="1.2"/><circle cx="404.0" cy="316.9" r="1.2"/><circle cx="513.8" cy="314.3" r="1.2"/><circle cx="363.0" cy="312.0" r="1.2"/><circle cx="495.7" cy="314.7" r="1.2"/><circle cx="433.5" cy="315.9" r="1.2"/><circle cx="430.2" cy="315.8" r="1.2"/><circle cx="390.7" cy="314.1" r="1.2"/><circle cx="437.4" cy="316.2" r="1.2"/><circle cx="424.7" cy="308.1" r="1.2"/><circle cx="421.3" cy="308.9" r="1.2"/><circle cx="400.8" cy="310.7" r="1.2"/><circle cx="479.5" cy="316.1" r="1.2"/><circle cx="432.9" cy="318.1" r="1.2"/><circle cx="430.5" cy="313.3" r="1.2"/><circle cx="427.7" cy="314.8" r="1.2"/><circle cx="430.9" cy="317.2" r="1.2"/><circle cx="408.2" cy="312.8" r="1.2"/><circle cx="419.7" cy="316.7" r="1.2"/><circle cx="373.3" cy="315.6" r="1.2"/><circle cx="443.8" cy="314.2" r="1.2"/><circle cx="394.4" cy="314.9" r="1.2"/><circle cx="384.3" cy="307.8" r="1.2"/><circle cx="397.8" cy="313.5" r="1.2"/><circle cx="430.3" cy="307.1" r="1.2"/><circle cx="468.4" cy="315.4" r="1.2"/><circle cx="407.6" cy="309.6" r="1.2"/><circle cx="439.2" cy="316.7" r="1.2"/><circle cx="430.8" cy="316.1" r="1.2"/><circle cx="446.8" cy="313.3" r="1.2"/><circle cx="464.4" cy="301.2" r="1.2"/><circle cx="423.7" cy="317.6" r="1.2"/><circle cx="356.2" cy="317.7" r="1.2"/><circle cx="370.7" cy="310.7" r="1.2"/><circle cx="449.2" cy="316.2" r="1.2"/><circle cx="432.2" cy="301.3" r="1.2"/><circle cx="420.3" cy="315.8" r="1.2"/><circle cx="442.3" cy="308.4" r="1.2"/><circle cx="426.5" cy="316.0" r="1.2"/><circle cx="404.8" cy="314.3" r="1.2"/><circle cx="436.6" cy="309.1" r="1.2"/><circle cx="427.5" cy="315.9" r="1.2"/><circle cx="481.4" cy="315.8" r="1.2"/><circle cx="401.7" cy="313.5" r="1.2"/><circle cx="462.3" cy="315.6" r="1.2"/><circle cx="422.8" cy="311.3" r="1.2"/><circle cx="513.0" cy="316.1" r="1.2"/><circle cx="418.5" cy="315.8" r="1.2"/><circle cx="389.4" cy="315.8" r="1.2"/><circle cx="444.4" cy="307.9" r="1.2"/><circle cx="417.0" cy="310.4" r="1.2"/><circle cx="449.6" cy="313.6" r="1.2"/><circle cx="447.7" cy="316.6" r="1.2"/><circle cx="442.1" cy="309.8" r="1.2"/><circle cx="406.3" cy="313.5" r="1.2"/><circle cx="424.6" cy="313.3" r="1.2"/><circle cx="434.1" cy="317.0" r="1.2"/><circle cx="461.4" cy="316.4" r="1.2"/><circle cx="377.1" cy="314.4" r="1.2"/><circle cx="514.8" cy="314.7" r="1.2"/><circle cx="435.1" cy="312.4" r="1.2"/><circle cx="465.8" cy="312.5" r="1.2"/><circle cx="430.5" cy="313.4" r="1.2"/><circle cx="357.4" cy="315.9" r="1.2"/><circle cx="426.4" cy="307.6" r="1.2"/><circle cx="455.8" cy="316.4" r="1.2"/><circle cx="451.8" cy="311.7" r="1.2"/><circle cx="445.0" cy="313.7" r="1.2"/><circle cx="358.0" cy="312.6" r="1.2"/><circle cx="429.9" cy="314.0" r="1.2"/><circle cx="389.0" cy="315.3" r="1.2"/><circle cx="485.7" cy="314.7" r="1.2"/><circle cx="389.8" cy="316.7" r="1.2"/><circle cx="418.4" cy="307.9" r="1.2"/><circle cx="423.9" cy="310.4" r="1.2"/><circle cx="463.7" cy="317.0" r="1.2"/><circle cx="388.6" cy="311.8" r="1.2"/><circle cx="439.2" cy="312.5" r="1.2"/><circle cx="434.2" cy="304.0" r="1.2"/><circle cx="431.5" cy="303.5" r="1.2"/><circle cx="448.4" cy="309.3" r="1.2"/><circle cx="451.2" cy="312.1" r="1.2"/><circle cx="451.9" cy="316.4" r="1.2"/><circle cx="437.1" cy="304.9" r="1.2"/><circle cx="405.9" cy="315.4" r="1.2"/><circle cx="411.4" cy="316.0" r="1.2"/><circle cx="434.7" cy="312.3" r="1.2"/><circle cx="397.2" cy="317.4" r="1.2"/><circle cx="436.8" cy="316.3" r="1.2"/><circle cx="454.8" cy="314.0" r="1.2"/><circle cx="420.7" cy="315.8" r="1.2"/><circle cx="439.6" cy="314.9" r="1.2"/><circle cx="389.9" cy="318.3" r="1.2"/><circle cx="436.9" cy="300.9" r="1.2"/><circle cx="399.9" cy="316.9" r="1.2"/><circle cx="464.8" cy="313.8" r="1.2"/><circle cx="418.2" cy="314.8" r="1.2"/><circle cx="502.7" cy="312.4" r="1.2"/><circle cx="448.5" cy="313.9" r="1.2"/><circle cx="432.3" cy="301.3" r="1.2"/><circle cx="514.7" cy="317.7" r="1.2"/><circle cx="441.4" cy="310.0" r="1.2"/><circle cx="443.7" cy="312.6" r="1.2"/><circle cx="424.4" cy="313.2" r="1.2"/><circle cx="381.7" cy="315.4" r="1.2"/><circle cx="388.8" cy="315.5" r="1.2"/><circle cx="421.0" cy="318.3" r="1.2"/><circle cx="427.5" cy="311.5" r="1.2"/><circle cx="451.7" cy="315.3" r="1.2"/><circle cx="444.4" cy="317.5" r="1.2"/><circle cx="443.2" cy="308.8" r="1.2"/><circle cx="476.9" cy="303.4" r="1.2"/><circle cx="435.7" cy="314.9" r="1.2"/><circle cx="509.4" cy="316.2" r="1.2"/><circle cx="383.5" cy="314.2" r="1.2"/><circle cx="360.6" cy="314.7" r="1.2"/><circle cx="394.5" cy="313.6" r="1.2"/><circle cx="511.1" cy="316.7" r="1.2"/><circle cx="463.3" cy="317.8" r="1.2"/><circle cx="437.5" cy="312.9" r="1.2"/><circle cx="467.5" cy="310.0" r="1.2"/><circle cx="415.8" cy="313.6" r="1.2"/><circle cx="423.9" cy="313.7" r="1.2"/><circle cx="435.4" cy="317.5" r="1.2"/><circle cx="413.9" cy="316.2" r="1.2"/><circle cx="502.4" cy="317.0" r="1.2"/><circle cx="478.1" cy="314.7" r="1.2"/><circle cx="434.1" cy="298.6" r="1.2"/><circle cx="430.4" cy="315.5" r="1.2"/><circle cx="490.9" cy="314.3" r="1.2"/><circle cx="471.1" cy="317.9" r="1.2"/><circle cx="436.5" cy="317.4" r="1.2"/><circle cx="415.5" cy="302.5" r="1.2"/><circle cx="502.6" cy="318.0" r="1.2"/><circle cx="437.5" cy="314.6" r="1.2"/><circle cx="439.7" cy="315.4" r="1.2"/><circle cx="450.0" cy="313.7" r="1.2"/><circle cx="443.3" cy="313.0" r="1.2"/><circle cx="430.7" cy="318.0" r="1.2"/><circle cx="446.5" cy="315.2" r="1.2"/><circle cx="446.1" cy="314.7" r="1.2"/><circle cx="506.5" cy="317.3" r="1.2"/><circle cx="414.0" cy="313.6" r="1.2"/><circle cx="425.3" cy="315.5" r="1.2"/><circle cx="434.9" cy="303.6" r="1.2"/><circle cx="383.7" cy="315.8" r="1.2"/><circle cx="371.8" cy="310.0" r="1.2"/><circle cx="412.4" cy="314.4" r="1.2"/><circle cx="447.4" cy="311.7" r="1.2"/><circle cx="460.2" cy="310.5" r="1.2"/><circle cx="445.3" cy="317.3" r="1.2"/><circle cx="415.4" cy="312.9" r="1.2"/><circle cx="428.2" cy="315.9" r="1.2"/><circle cx="493.0" cy="309.8" r="1.2"/><circle cx="448.5" cy="312.2" r="1.2"/><circle cx="439.2" cy="309.2" r="1.2"/><circle cx="428.9" cy="318.9" r="1.2"/><circle cx="444.8" cy="315.5" r="1.2"/><circle cx="457.3" cy="317.8" r="1.2"/><circle cx="435.0" cy="308.8" r="1.2"/><circle cx="492.9" cy="311.0" r="1.2"/><circle cx="427.2" cy="310.6" r="1.2"/><circle cx="465.1" cy="317.1" r="1.2"/><circle cx="386.5" cy="314.4" r="1.2"/><circle cx="440.6" cy="312.6" r="1.2"/><circle cx="433.1" cy="305.6" r="1.2"/><circle cx="362.9" cy="307.8" r="1.2"/><circle cx="464.8" cy="314.8" r="1.2"/><circle cx="420.5" cy="317.0" r="1.2"/><circle cx="357.6" cy="311.2" r="1.2"/><circle cx="429.2" cy="311.1" r="1.2"/><circle cx="409.5" cy="317.3" r="1.2"/><circle cx="497.4" cy="314.8" r="1.2"/><circle cx="463.7" cy="310.2" r="1.2"/><circle cx="456.5" cy="305.5" r="1.2"/><circle cx="433.7" cy="306.7" r="1.2"/><circle cx="436.6" cy="317.8" r="1.2"/><circle cx="464.5" cy="309.6" r="1.2"/><circle cx="422.2" cy="310.9" r="1.2"/><circle cx="503.3" cy="315.3" r="1.2"/><circle cx="411.6" cy="300.1" r="1.2"/><circle cx="438.5" cy="305.9" r="1.2"/><circle cx="441.8" cy="310.9" r="1.2"/><circle cx="425.8" cy="316.4" r="1.2"/><circle cx="388.2" cy="318.5" r="1.2"/><circle cx="375.0" cy="317.2" r="1.2"/><circle cx="363.9" cy="313.9" r="1.2"/><circle cx="452.0" cy="317.9" r="1.2"/><circle cx="444.2" cy="316.5" r="1.2"/><circle cx="371.2" cy="318.1" r="1.2"/><circle cx="500.1" cy="312.9" r="1.2"/><circle cx="424.9" cy="315.4" r="1.2"/><circle cx="387.4" cy="314.2" r="1.2"/><circle cx="507.9" cy="314.3" r="1.2"/><circle cx="500.5" cy="302.6" r="1.2"/><circle cx="427.3" cy="312.9" r="1.2"/><circle cx="494.3" cy="316.6" r="1.2"/><circle cx="443.8" cy="310.2" r="1.2"/><circle cx="450.8" cy="314.6" r="1.2"/><circle cx="471.9" cy="315.4" r="1.2"/><circle cx="444.9" cy="313.6" r="1.2"/><circle cx="412.8" cy="315.9" r="1.2"/><circle cx="452.0" cy="317.3" r="1.2"/><circle cx="453.3" cy="313.1" r="1.2"/><circle cx="511.3" cy="315.7" r="1.2"/><circle cx="453.0" cy="314.7" r="1.2"/><circle cx="428.6" cy="314.3" r="1.2"/><circle cx="483.7" cy="313.9" r="1.2"/><circle cx="458.1" cy="316.6" r="1.2"/><circle cx="426.6" cy="310.1" r="1.2"/><circle cx="402.7" cy="315.9" r="1.2"/><circle cx="419.7" cy="317.3" r="1.2"/><circle cx="417.0" cy="311.5" r="1.2"/><circle cx="442.3" cy="312.9" r="1.2"/><circle cx="427.7" cy="315.2" r="1.2"/><circle cx="398.8" cy="301.3" r="1.2"/><circle cx="406.6" cy="316.9" r="1.2"/><circle cx="438.8" cy="318.0" r="1.2"/><circle cx="450.9" cy="307.1" r="1.2"/><circle cx="420.3" cy="307.7" r="1.2"/><circle cx="454.6" cy="313.4" r="1.2"/><circle cx="424.4" cy="310.6" r="1.2"/><circle cx="430.2" cy="316.6" r="1.2"/><circle cx="378.9" cy="309.5" r="1.2"/><circle cx="509.2" cy="313.2" r="1.2"/><circle cx="480.1" cy="314.0" r="1.2"/><circle cx="420.8" cy="315.1" r="1.2"/><circle cx="446.2" cy="312.9" r="1.2"/><circle cx="433.1" cy="315.4" r="1.2"/><circle cx="449.8" cy="315.5" r="1.2"/><circle cx="429.2" cy="314.7" r="1.2"/><circle cx="407.5" cy="312.3" r="1.2"/><circle cx="458.6" cy="313.6" r="1.2"/><circle cx="438.0" cy="313.5" r="1.2"/><circle cx="449.7" cy="314.0" r="1.2"/><circle cx="386.6" cy="315.4" r="1.2"/><circle cx="370.8" cy="317.2" r="1.2"/><circle cx="448.2" cy="318.7" r="1.2"/><circle cx="415.3" cy="317.1" r="1.2"/><circle cx="382.5" cy="313.2" r="1.2"/><circle cx="387.4" cy="317.3" r="1.2"/><circle cx="432.1" cy="300.4" r="1.2"/><circle cx="430.6" cy="317.3" r="1.2"/><circle cx="424.3" cy="311.1" r="1.2"/><circle cx="427.8" cy="315.4" r="1.2"/><circle cx="465.0" cy="313.6" r="1.2"/><circle cx="377.1" cy="318.0" r="1.2"/><circle cx="420.6" cy="318.0" r="1.2"/><circle cx="411.2" cy="310.4" r="1.2"/><circle cx="446.8" cy="315.3" r="1.2"/><circle cx="432.6" cy="308.0" r="1.2"/><circle cx="415.6" cy="317.0" r="1.2"/><circle cx="440.4" cy="306.5" r="1.2"/><circle cx="431.7" cy="316.5" r="1.2"/><circle cx="415.5" cy="315.4" r="1.2"/><circle cx="473.4" cy="316.3" r="1.2"/><circle cx="415.5" cy="315.8" r="1.2"/><circle cx="503.2" cy="314.5" r="1.2"/><circle cx="381.3" cy="309.6" r="1.2"/><circle cx="373.2" cy="316.3" r="1.2"/><circle cx="464.3" cy="316.8" r="1.2"/><circle cx="436.5" cy="317.9" r="1.2"/><circle cx="438.3" cy="311.0" r="1.2"/><circle cx="450.3" cy="312.6" r="1.2"/><circle cx="433.7" cy="314.0" r="1.2"/><circle cx="424.8" cy="317.7" r="1.2"/><circle cx="442.4" cy="315.8" r="1.2"/><circle cx="451.4" cy="315.3" r="1.2"/><circle cx="415.0" cy="309.1" r="1.2"/><circle cx="436.6" cy="315.7" r="1.2"/><circle cx="432.7" cy="300.1" r="1.2"/><circle cx="435.1" cy="309.6" r="1.2"/><circle cx="357.4" cy="317.5" r="1.2"/><circle cx="433.8" cy="316.1" r="1.2"/><circle cx="482.5" cy="312.4" r="1.2"/><circle cx="463.2" cy="315.4" r="1.2"/><circle cx="439.0" cy="312.6" r="1.2"/><circle cx="435.1" cy="306.2" r="1.2"/><circle cx="361.5" cy="315.3" r="1.2"/><circle cx="380.3" cy="314.7" r="1.2"/><circle cx="433.1" cy="313.4" r="1.2"/><circle cx="354.6" cy="316.7" r="1.2"/><circle cx="480.0" cy="316.5" r="1.2"/><circle cx="472.5" cy="317.8" r="1.2"/><circle cx="358.9" cy="315.3" r="1.2"/><circle cx="419.5" cy="309.7" r="1.2"/><circle cx="373.7" cy="315.5" r="1.2"/><circle cx="371.3" cy="316.1" r="1.2"/><circle cx="424.3" cy="314.5" r="1.2"/><circle cx="501.2" cy="312.5" r="1.2"/><circle cx="419.4" cy="313.1" r="1.2"/><circle cx="438.8" cy="294.0" r="1.2"/><circle cx="439.7" cy="314.9" r="1.2"/><circle cx="490.3" cy="318.0" r="1.2"/><circle cx="435.4" cy="300.7" r="1.2"/><circle cx="396.3" cy="317.5" r="1.2"/><circle cx="470.1" cy="315.3" r="1.2"/><circle cx="436.4" cy="316.5" r="1.2"/><circle cx="406.3" cy="314.2" r="1.2"/><circle cx="387.9" cy="316.7" r="1.2"/><circle cx="504.1" cy="312.4" r="1.2"/><circle cx="445.7" cy="317.7" r="1.2"/><circle cx="489.9" cy="318.0" r="1.2"/><circle cx="432.9" cy="311.7" r="1.2"/><circle cx="463.4" cy="314.0" r="1.2"/><circle cx="432.2" cy="300.1" r="1.2"/><circle cx="484.1" cy="315.4" r="1.2"/><circle cx="464.3" cy="314.8" r="1.2"/><circle cx="431.7" cy="312.2" r="1.2"/><circle cx="436.0" cy="310.2" r="1.2"/><circle cx="502.1" cy="298.5" r="1.2"/><circle cx="472.6" cy="314.4" r="1.2"/><circle cx="442.6" cy="317.1" r="1.2"/><circle cx="362.3" cy="313.9" r="1.2"/><circle cx="452.2" cy="312.7" r="1.2"/><circle cx="514.6" cy="303.6" r="1.2"/><circle cx="494.0" cy="314.4" r="1.2"/><circle cx="442.4" cy="303.0" r="1.2"/><circle cx="492.3" cy="313.1" r="1.2"/><circle cx="499.5" cy="308.0" r="1.2"/><circle cx="421.3" cy="306.7" r="1.2"/><circle cx="398.2" cy="313.8" r="1.2"/><circle cx="430.3" cy="310.1" r="1.2"/><circle cx="484.0" cy="316.1" r="1.2"/><circle cx="438.4" cy="309.0" r="1.2"/><circle cx="444.2" cy="308.1" r="1.2"/><circle cx="435.7" cy="308.6" r="1.2"/><circle cx="396.8" cy="314.9" r="1.2"/><circle cx="430.5" cy="306.8" r="1.2"/><circle cx="450.3" cy="312.0" r="1.2"/><circle cx="454.8" cy="316.8" r="1.2"/><circle cx="490.2" cy="309.7" r="1.2"/><circle cx="420.7" cy="313.1" r="1.2"/><circle cx="428.5" cy="304.4" r="1.2"/><circle cx="397.2" cy="310.0" r="1.2"/><circle cx="430.7" cy="315.1" r="1.2"/><circle cx="427.3" cy="312.2" r="1.2"/><circle cx="422.5" cy="306.7" r="1.2"/><circle cx="503.5" cy="316.6" r="1.2"/><circle cx="414.1" cy="313.3" r="1.2"/><circle cx="456.8" cy="316.8" r="1.2"/><circle cx="439.3" cy="318.8" r="1.2"/><circle cx="450.6" cy="309.7" r="1.2"/><circle cx="434.3" cy="302.5" r="1.2"/><circle cx="409.9" cy="312.4" r="1.2"/><circle cx="430.7" cy="307.5" r="1.2"/><circle cx="407.1" cy="313.1" r="1.2"/><circle cx="439.1" cy="316.5" r="1.2"/><circle cx="410.4" cy="313.1" r="1.2"/><circle cx="463.4" cy="311.6" r="1.2"/><circle cx="449.4" cy="317.8" r="1.2"/><circle cx="435.1" cy="305.8" r="1.2"/><circle cx="509.0" cy="316.4" r="1.2"/><circle cx="436.5" cy="308.6" r="1.2"/><circle cx="413.4" cy="310.7" r="1.2"/><circle cx="440.1" cy="305.7" r="1.2"/><circle cx="361.7" cy="313.7" r="1.2"/><circle cx="489.1" cy="313.5" r="1.2"/><circle cx="437.0" cy="292.9" r="1.2"/><circle cx="503.8" cy="306.5" r="1.2"/><circle cx="364.4" cy="300.8" r="1.2"/><circle cx="443.9" cy="315.9" r="1.2"/><circle cx="453.8" cy="314.0" r="1.2"/><circle cx="362.6" cy="315.5" r="1.2"/><circle cx="440.0" cy="304.5" r="1.2"/><circle cx="419.4" cy="318.8" r="1.2"/><circle cx="440.8" cy="313.6" r="1.2"/><circle cx="389.9" cy="316.9" r="1.2"/><circle cx="447.1" cy="313.4" r="1.2"/><circle cx="430.9" cy="317.2" r="1.2"/><circle cx="424.0" cy="308.5" r="1.2"/><circle cx="496.9" cy="315.8" r="1.2"/><circle cx="430.9" cy="315.1" r="1.2"/><circle cx="408.7" cy="316.8" r="1.2"/><circle cx="439.9" cy="311.2" r="1.2"/><circle cx="420.6" cy="312.7" r="1.2"/><circle cx="444.8" cy="312.1" r="1.2"/><circle cx="488.1" cy="317.2" r="1.2"/><circle cx="446.0" cy="313.9" r="1.2"/><circle cx="446.2" cy="310.5" r="1.2"/><circle cx="502.0" cy="312.4" r="1.2"/><circle cx="388.6" cy="302.2" r="1.2"/><circle cx="514.0" cy="316.4" r="1.2"/><circle cx="511.2" cy="313.2" r="1.2"/><circle cx="397.7" cy="314.4" r="1.2"/><circle cx="508.5" cy="315.1" r="1.2"/><circle cx="364.1" cy="315.4" r="1.2"/><circle cx="486.6" cy="313.4" r="1.2"/><circle cx="425.3" cy="317.9" r="1.2"/><circle cx="419.9" cy="317.2" r="1.2"/><circle cx="422.4" cy="316.9" r="1.2"/><circle cx="429.5" cy="307.0" r="1.2"/><circle cx="494.6" cy="314.8" r="1.2"/><circle cx="437.6" cy="300.2" r="1.2"/><circle cx="458.7" cy="308.2" r="1.2"/><circle cx="490.9" cy="310.9" r="1.2"/><circle cx="448.5" cy="314.7" r="1.2"/><circle cx="387.1" cy="313.2" r="1.2"/><circle cx="495.3" cy="305.8" r="1.2"/><circle cx="439.0" cy="307.8" r="1.2"/><circle cx="475.1" cy="316.4" r="1.2"/><circle cx="435.4" cy="297.6" r="1.2"/><circle cx="498.7" cy="316.1" r="1.2"/><circle cx="395.3" cy="314.1" r="1.2"/><circle cx="426.3" cy="317.8" r="1.2"/><circle cx="392.8" cy="317.5" r="1.2"/><circle cx="435.1" cy="311.2" r="1.2"/><circle cx="488.4" cy="312.4" r="1.2"/><circle cx="505.7" cy="314.3" r="1.2"/><circle cx="426.0" cy="314.7" r="1.2"/><circle cx="393.7" cy="314.2" r="1.2"/><circle cx="390.1" cy="318.2" r="1.2"/><circle cx="491.3" cy="314.8" r="1.2"/><circle cx="443.5" cy="313.9" r="1.2"/><circle cx="391.9" cy="317.3" r="1.2"/><circle cx="507.6" cy="316.4" r="1.2"/><circle cx="427.4" cy="317.0" r="1.2"/><circle cx="436.1" cy="314.2" r="1.2"/><circle cx="443.7" cy="317.1" r="1.2"/><circle cx="381.5" cy="314.2" r="1.2"/><circle cx="431.7" cy="314.4" r="1.2"/><circle cx="465.6" cy="316.8" r="1.2"/><circle cx="512.1" cy="314.4" r="1.2"/><circle cx="400.4" cy="315.9" r="1.2"/><circle cx="470.5" cy="316.9" r="1.2"/><circle cx="434.1" cy="309.3" r="1.2"/><circle cx="367.6" cy="318.3" r="1.2"/><circle cx="453.7" cy="313.0" r="1.2"/><circle cx="451.8" cy="314.2" r="1.2"/><circle cx="444.6" cy="317.5" r="1.2"/><circle cx="423.1" cy="310.3" r="1.2"/><circle cx="424.4" cy="316.4" r="1.2"/><circle cx="382.3" cy="313.6" r="1.2"/><circle cx="434.1" cy="292.1" r="1.2"/><circle cx="426.5" cy="314.2" r="1.2"/><circle cx="427.5" cy="308.3" r="1.2"/><circle cx="444.3" cy="313.1" r="1.2"/><circle cx="443.5" cy="312.9" r="1.2"/><circle cx="449.3" cy="315.7" r="1.2"/><circle cx="494.7" cy="317.9" r="1.2"/><circle cx="400.3" cy="317.1" r="1.2"/><circle cx="422.2" cy="314.5" r="1.2"/><circle cx="430.5" cy="312.8" r="1.2"/><circle cx="430.6" cy="299.7" r="1.2"/><circle cx="408.0" cy="316.6" r="1.2"/><circle cx="464.8" cy="316.6" r="1.2"/><circle cx="443.0" cy="314.0" r="1.2"/><circle cx="438.6" cy="314.8" r="1.2"/><circle cx="474.4" cy="317.5" r="1.2"/><circle cx="426.2" cy="317.6" r="1.2"/><circle cx="398.3" cy="318.2" r="1.2"/><circle cx="490.8" cy="318.3" r="1.2"/><circle cx="444.0" cy="313.4" r="1.2"/><circle cx="459.0" cy="312.2" r="1.2"/><circle cx="463.1" cy="316.7" r="1.2"/><circle cx="371.4" cy="311.2" r="1.2"/><circle cx="438.0" cy="309.5" r="1.2"/><circle cx="398.0" cy="314.6" r="1.2"/><circle cx="439.9" cy="307.4" r="1.2"/><circle cx="447.0" cy="312.1" r="1.2"/><circle cx="475.7" cy="309.3" r="1.2"/><circle cx="427.6" cy="315.1" r="1.2"/><circle cx="431.7" cy="317.5" r="1.2"/><circle cx="430.8" cy="310.6" r="1.2"/><circle cx="433.3" cy="310.3" r="1.2"/><circle cx="453.7" cy="312.4" r="1.2"/><circle cx="454.7" cy="315.5" r="1.2"/><circle cx="489.9" cy="312.9" r="1.2"/><circle cx="370.3" cy="317.3" r="1.2"/><circle cx="426.5" cy="307.4" r="1.2"/><circle cx="486.2" cy="310.9" r="1.2"/><circle cx="433.6" cy="315.8" r="1.2"/><circle cx="503.5" cy="313.8" r="1.2"/><circle cx="411.5" cy="315.8" r="1.2"/><circle cx="431.5" cy="311.0" r="1.2"/><circle cx="377.4" cy="313.4" r="1.2"/><circle cx="393.8" cy="314.5" r="1.2"/><circle cx="422.7" cy="313.0" r="1.2"/><circle cx="426.4" cy="315.3" r="1.2"/><circle cx="431.6" cy="313.4" r="1.2"/><circle cx="372.7" cy="316.7" r="1.2"/><circle cx="435.3" cy="295.9" r="1.2"/><circle cx="413.4" cy="318.4" r="1.2"/><circle cx="360.9" cy="313.1" r="1.2"/><circle cx="438.3" cy="314.1" r="1.2"/><circle cx="483.8" cy="314.4" r="1.2"/><circle cx="416.2" cy="317.5" r="1.2"/><circle cx="420.1" cy="314.3" r="1.2"/><circle cx="445.3" cy="314.1" r="1.2"/><circle cx="440.0" cy="311.9" r="1.2"/><circle cx="479.2" cy="313.8" r="1.2"/><circle cx="432.6" cy="316.1" r="1.2"/><circle cx="393.9" cy="314.4" r="1.2"/><circle cx="423.3" cy="316.7" r="1.2"/><circle cx="497.7" cy="316.2" r="1.2"/><circle cx="423.3" cy="314.2" r="1.2"/><circle cx="485.2" cy="313.5" r="1.2"/><circle cx="426.2" cy="314.1" r="1.2"/><circle cx="421.5" cy="314.8" r="1.2"/><circle cx="443.8" cy="313.5" r="1.2"/><circle cx="375.8" cy="311.6" r="1.2"/><circle cx="399.0" cy="318.3" r="1.2"/><circle cx="435.5" cy="312.5" r="1.2"/><circle cx="463.1" cy="312.5" r="1.2"/><circle cx="429.9" cy="313.5" r="1.2"/><circle cx="486.5" cy="316.4" r="1.2"/><circle cx="434.7" cy="313.3" r="1.2"/><circle cx="422.0" cy="312.0" r="1.2"/><circle cx="506.0" cy="313.5" r="1.2"/><circle cx="382.7" cy="316.4" r="1.2"/><circle cx="509.0" cy="297.4" r="1.2"/><circle cx="386.9" cy="313.2" r="1.2"/><circle cx="443.2" cy="316.6" r="1.2"/><circle cx="410.8" cy="314.6" r="1.2"/><circle cx="427.7" cy="316.7" r="1.2"/><circle cx="416.9" cy="314.8" r="1.2"/><circle cx="452.5" cy="314.0" r="1.2"/><circle cx="410.1" cy="312.3" r="1.2"/><circle cx="464.7" cy="317.0" r="1.2"/><circle cx="432.0" cy="312.1" r="1.2"/><circle cx="429.5" cy="316.0" r="1.2"/><circle cx="368.7" cy="312.8" r="1.2"/><circle cx="423.1" cy="310.2" r="1.2"/><circle cx="490.4" cy="311.4" r="1.2"/><circle cx="450.0" cy="317.7" r="1.2"/><circle cx="443.9" cy="312.0" r="1.2"/><circle cx="435.0" cy="310.1" r="1.2"/><circle cx="490.5" cy="314.2" r="1.2"/><circle cx="391.7" cy="314.4" r="1.2"/><circle cx="426.6" cy="316.5" r="1.2"/><circle cx="410.2" cy="316.6" r="1.2"/><circle cx="506.6" cy="317.6" r="1.2"/><circle cx="434.1" cy="313.8" r="1.2"/><circle cx="430.5" cy="317.3" r="1.2"/><circle cx="432.5" cy="313.4" r="1.2"/><circle cx="441.5" cy="317.9" r="1.2"/><circle cx="476.8" cy="317.1" r="1.2"/><circle cx="366.4" cy="317.2" r="1.2"/><circle cx="437.7" cy="308.6" r="1.2"/><circle cx="422.0" cy="318.1" r="1.2"/><circle cx="416.9" cy="312.5" r="1.2"/><circle cx="441.3" cy="317.1" r="1.2"/><circle cx="506.2" cy="308.8" r="1.2"/><circle cx="451.4" cy="315.3" r="1.2"/><circle cx="425.6" cy="306.5" r="1.2"/><circle cx="435.9" cy="312.7" r="1.2"/><circle cx="438.2" cy="316.4" r="1.2"/><circle cx="422.2" cy="317.5" r="1.2"/><circle cx="457.0" cy="313.6" r="1.2"/><circle cx="441.3" cy="313.9" r="1.2"/><circle cx="452.9" cy="315.7" r="1.2"/><circle cx="429.4" cy="310.1" r="1.2"/><circle cx="423.2" cy="313.7" r="1.2"/><circle cx="435.6" cy="313.5" r="1.2"/><circle cx="380.5" cy="315.3" r="1.2"/><circle cx="473.0" cy="313.1" r="1.2"/><circle cx="417.9" cy="303.4" r="1.2"/><circle cx="418.0" cy="310.1" r="1.2"/><circle cx="466.1" cy="317.6" r="1.2"/><circle cx="453.6" cy="315.2" r="1.2"/><circle cx="382.6" cy="316.9" r="1.2"/><circle cx="359.7" cy="314.4" r="1.2"/><circle cx="382.8" cy="310.7" r="1.2"/><circle cx="428.3" cy="317.0" r="1.2"/><circle cx="428.6" cy="316.1" r="1.2"/><circle cx="424.8" cy="315.8" r="1.2"/><circle cx="422.4" cy="315.4" r="1.2"/><circle cx="429.3" cy="313.3" r="1.2"/><circle cx="421.8" cy="317.4" r="1.2"/><circle cx="475.2" cy="314.5" r="1.2"/><circle cx="382.0" cy="312.8" r="1.2"/><circle cx="365.7" cy="316.0" r="1.2"/><circle cx="446.0" cy="309.8" r="1.2"/><circle cx="390.9" cy="317.6" r="1.2"/><circle cx="467.6" cy="316.8" r="1.2"/><circle cx="437.6" cy="314.9" r="1.2"/><circle cx="437.7" cy="315.1" r="1.2"/><circle cx="477.6" cy="316.5" r="1.2"/><circle cx="511.4" cy="311.5" r="1.2"/><circle cx="434.1" cy="302.9" r="1.2"/><circle cx="488.8" cy="313.2" r="1.2"/><circle cx="428.6" cy="315.5" r="1.2"/><circle cx="449.1" cy="310.9" r="1.2"/><circle cx="496.4" cy="304.4" r="1.2"/><circle cx="509.7" cy="314.8" r="1.2"/><circle cx="380.9" cy="314.0" r="1.2"/><circle cx="433.2" cy="303.9" r="1.2"/><circle cx="405.7" cy="317.9" r="1.2"/><circle cx="489.6" cy="312.9" r="1.2"/><circle cx="445.3" cy="314.0" r="1.2"/><circle cx="438.2" cy="318.0" r="1.2"/><circle cx="361.7" cy="318.2" r="1.2"/><circle cx="441.7" cy="317.7" r="1.2"/><circle cx="403.0" cy="316.7" r="1.2"/><circle cx="413.2" cy="314.6" r="1.2"/><circle cx="428.1" cy="311.8" r="1.2"/><circle cx="434.7" cy="306.4" r="1.2"/><circle cx="483.6" cy="315.0" r="1.2"/><circle cx="482.5" cy="316.0" r="1.2"/><circle cx="374.4" cy="317.0" r="1.2"/><circle cx="416.5" cy="311.3" r="1.2"/><circle cx="408.9" cy="311.4" r="1.2"/><circle cx="402.0" cy="318.5" r="1.2"/><circle cx="479.6" cy="315.4" r="1.2"/><circle cx="427.4" cy="313.6" r="1.2"/><circle cx="357.4" cy="311.3" r="1.2"/><circle cx="366.3" cy="317.6" r="1.2"/><circle cx="506.8" cy="311.4" r="1.2"/><circle cx="437.1" cy="301.6" r="1.2"/></g>
<text x="365.75" y="345.30" font-size="8.97" fill="#222" textLength="19.24" lengthAdjust="spacingAndGlyphs">-4kb</text>
<text x="396.45" y="345.30" font-size="8.97" fill="#222" textLength="19.35" lengthAdjust="spacingAndGlyphs">-2kb</text>
<text x="432.52" y="345.30" font-size="9.29" fill="#222" textLength="5.33" lengthAdjust="spacingAndGlyphs">0</text>
<text x="453.30" y="345.30" font-size="8.97" fill="#222" textLength="21.91" lengthAdjust="spacingAndGlyphs">+2kb</text>
<text x="484.14" y="345.30" font-size="8.97" fill="#222" textLength="20.24" lengthAdjust="spacingAndGlyphs">+4kb</text>
<text x="373.55" y="359.80" font-size="10.48" fill="#222" textLength="115.54" lengthAdjust="spacingAndGlyphs">Distance to nearest TSS</text>
<text x="335.70" y="313.79" font-size="11.03" fill="#222" textLength="104.20" lengthAdjust="spacingAndGlyphs" transform="rotate(-90 335.70 313.79)">Log2 fold enrichment</text>
<text x="0.17" y="382.50" font-size="12.2" font-weight="bold" fill="#000">D</text>
<line x1="57.30" y1="388.50" x2="57.30" y2="480.10" stroke="#d4d4d4" stroke-width="0.8"/>
<text x="28.30" y="401.50" font-size="9.71" fill="#161616" stroke="#161616" stroke-width="0.3" textLength="16.12" lengthAdjust="spacingAndGlyphs">IgG</text>
<text x="25.25" y="425.80" font-size="10.07" fill="#62a050" stroke="#62a050" stroke-width="0.3" textLength="20.76" lengthAdjust="spacingAndGlyphs">Ldb1</text>
<text x="23.44" y="448.70" font-size="9.14" fill="#bd383e" stroke="#bd383e" stroke-width="0.3" textLength="25.07" lengthAdjust="spacingAndGlyphs">Gata1</text>
<text x="27.72" y="475.30" font-size="10.07" fill="#2c3391" stroke="#2c3391" stroke-width="0.3" textLength="16.69" lengthAdjust="spacingAndGlyphs">Tal1</text>
<text x="55.8" y="412.8" font-size="2.8" fill="#777" font-weight="bold" text-anchor="end">1.000</text>
<line x1="56.10" y1="410.40" x2="57.30" y2="410.40" stroke="#aaa" stroke-width="0.5"/>
<text x="54.3" y="409.6" font-size="2.6" fill="#888" font-weight="bold" text-anchor="end">0</text>
<text x="55.8" y="435.3" font-size="2.8" fill="#6a9a5a" font-weight="bold" text-anchor="end">0.000</text>
<line x1="56.10" y1="432.90" x2="57.30" y2="432.90" stroke="#aaa" stroke-width="0.5"/>
<text x="54.3" y="432.1" font-size="2.6" fill="#888" font-weight="bold" text-anchor="end">0</text>
<text x="55.8" y="459.2" font-size="2.8" fill="#b06060" font-weight="bold" text-anchor="end">2.000</text>
<line x1="56.10" y1="456.80" x2="57.30" y2="456.80" stroke="#aaa" stroke-width="0.5"/>
<text x="54.3" y="456.0" font-size="2.6" fill="#888" font-weight="bold" text-anchor="end">0</text>
<text x="55.8" y="481.8" font-size="2.8" fill="#6060a0" font-weight="bold" text-anchor="end">0.000</text>
<line x1="56.10" y1="479.40" x2="57.30" y2="479.40" stroke="#aaa" stroke-width="0.5"/>
<text x="55.8" y="390.0" font-size="2.8" fill="#777" font-weight="bold" text-anchor="end">1400</text>
<g fill="#1a1a1a"><rect x="66.1" y="408.2" width="1.3" height="2.4"/><rect x="73.1" y="408.8" width="1.0" height="1.8"/><rect x="76.2" y="409.9" width="1.3" height="0.7"/><rect x="82.2" y="409.4" width="1.0" height="1.2"/><rect x="84.6" y="410.0" width="1.3" height="0.6"/><rect x="92.3" y="408.7" width="1.3" height="1.9"/><rect x="94.9" y="409.2" width="1.0" height="1.4"/><rect x="97.0" y="409.7" width="1.0" height="0.9"/><rect x="102.3" y="409.9" width="1.6" height="0.7"/><rect x="103.7" y="408.2" width="1.6" height="2.4"/><rect x="105.5" y="409.4" width="1.3" height="1.2"/><rect x="116.5" y="409.4" width="0.8" height="1.2"/><rect x="117.8" y="409.3" width="1.6" height="1.3"/><rect x="122.1" y="408.8" width="1.6" height="1.8"/><rect x="125.7" y="409.8" width="0.8" height="0.8"/><rect x="137.5" y="408.2" width="0.8" height="2.4"/><rect x="139.9" y="409.1" width="1.0" height="1.5"/><rect x="141.2" y="408.8" width="1.3" height="1.8"/><rect x="142.2" y="409.6" width="0.8" height="1.0"/><rect x="144.1" y="408.2" width="1.6" height="2.4"/><rect x="146.6" y="409.9" width="0.8" height="0.7"/><rect x="147.7" y="408.3" width="1.0" height="2.3"/><rect x="148.5" y="409.9" width="0.8" height="0.7"/><rect x="149.8" y="409.6" width="1.0" height="1.0"/><rect x="151.5" y="409.0" width="1.6" height="1.6"/><rect x="153.1" y="409.5" width="1.3" height="1.1"/><rect x="154.4" y="408.2" width="1.6" height="2.4"/><rect x="156.1" y="409.4" width="1.3" height="1.2"/><rect x="158.2" y="408.7" width="1.6" height="1.9"/><rect x="160.1" y="408.5" width="1.3" height="2.1"/><rect x="160.8" y="409.7" width="1.6" height="0.9"/><rect x="162.5" y="409.8" width="1.0" height="0.8"/><rect x="165.9" y="409.3" width="0.8" height="1.3"/><rect x="168.2" y="409.3" width="1.6" height="1.3"/><rect x="172.1" y="409.7" width="1.0" height="0.9"/><rect x="177.0" y="409.1" width="0.8" height="1.5"/><rect x="177.7" y="408.2" width="1.3" height="2.4"/><rect x="179.5" y="409.9" width="1.3" height="0.7"/><rect x="181.9" y="408.2" width="1.3" height="2.4"/><rect x="182.7" y="408.3" width="0.8" height="2.3"/><rect x="185.6" y="409.0" width="1.0" height="1.6"/><rect x="194.0" y="409.6" width="1.3" height="1.0"/><rect x="197.3" y="408.2" width="1.0" height="2.4"/><rect x="198.1" y="409.2" width="1.3" height="1.4"/><rect x="200.2" y="408.5" width="1.6" height="2.1"/><rect x="203.3" y="409.9" width="1.6" height="0.7"/><rect x="207.6" y="410.0" width="1.0" height="0.6"/><rect x="212.3" y="408.2" width="0.8" height="2.4"/><rect x="220.3" y="409.1" width="1.6" height="1.5"/><rect x="222.2" y="409.2" width="1.6" height="1.4"/><rect x="224.8" y="409.9" width="1.0" height="0.7"/><rect x="230.4" y="409.7" width="1.6" height="0.9"/><rect x="232.8" y="409.8" width="1.3" height="0.8"/><rect x="235.2" y="408.2" width="1.6" height="2.4"/><rect x="239.1" y="410.0" width="0.8" height="0.6"/><rect x="244.7" y="409.6" width="0.8" height="1.0"/><rect x="246.3" y="409.6" width="1.6" height="1.0"/><rect x="247.8" y="409.6" width="1.6" height="1.0"/><rect x="250.7" y="409.8" width="1.0" height="0.8"/></g>
<line x1="58.3" y1="410.3" x2="252" y2="410.3" stroke="#1a1a1a" stroke-width="0.6" stroke-dasharray="1 2.2" opacity="0.45"/>
<g fill="#15a02a"><rect x="64.1" y="432.4" width="1.0" height="0.7"/><rect x="67.7" y="431.8" width="1.6" height="1.3"/><rect x="70.5" y="432.3" width="0.8" height="0.8"/><rect x="76.5" y="432.7" width="1.3" height="0.4"/><rect x="80.2" y="432.6" width="1.0" height="0.5"/><rect x="81.7" y="432.3" width="0.8" height="0.8"/><rect x="86.6" y="432.6" width="0.8" height="0.5"/><rect x="89.5" y="432.2" width="1.3" height="0.9"/><rect x="93.7" y="432.1" width="0.8" height="1.0"/><rect x="97.0" y="432.0" width="1.0" height="1.1"/><rect x="105.3" y="432.6" width="0.8" height="0.5"/><rect x="106.0" y="432.4" width="0.8" height="0.7"/><rect x="109.2" y="432.7" width="1.0" height="0.4"/><rect x="111.7" y="432.3" width="1.0" height="0.8"/><rect x="113.9" y="432.7" width="1.0" height="0.4"/><rect x="119.3" y="431.8" width="1.6" height="1.3"/><rect x="121.9" y="431.8" width="1.0" height="1.3"/><rect x="132.7" y="431.8" width="0.8" height="1.3"/><rect x="134.6" y="432.6" width="1.0" height="0.5"/><rect x="135.4" y="432.4" width="1.3" height="0.7"/><rect x="139.0" y="432.7" width="0.8" height="0.4"/><rect x="141.7" y="432.2" width="0.8" height="0.9"/><rect x="178.2" y="432.6" width="1.0" height="0.5"/><rect x="187.8" y="432.6" width="1.0" height="0.5"/><rect x="195.6" y="432.4" width="1.3" height="0.7"/><rect x="211.8" y="431.9" width="1.3" height="1.2"/><rect x="212.9" y="432.7" width="0.8" height="0.4"/><rect x="220.6" y="432.4" width="0.8" height="0.7"/><rect x="231.3" y="432.4" width="0.8" height="0.7"/><rect x="238.9" y="432.0" width="0.8" height="1.1"/><rect x="251.4" y="431.8" width="0.8" height="1.3"/></g>
<line x1="58.3" y1="432.8" x2="252" y2="432.8" stroke="#15a02a" stroke-width="0.6" stroke-dasharray="1 2.2" opacity="0.45"/>
<g fill="#d61a1a"><rect x="62.1" y="456.4" width="1.3" height="0.6"/><rect x="66.0" y="456.6" width="1.0" height="0.4"/><rect x="69.7" y="456.2" width="1.0" height="0.8"/><rect x="73.9" y="456.6" width="1.0" height="0.4"/><rect x="77.1" y="456.3" width="1.0" height="0.7"/><rect x="84.1" y="456.1" width="1.6" height="0.9"/><rect x="85.6" y="456.6" width="0.8" height="0.4"/><rect x="89.8" y="456.4" width="1.6" height="0.6"/><rect x="91.6" y="456.5" width="1.3" height="0.5"/><rect x="93.0" y="455.9" width="1.0" height="1.1"/><rect x="95.1" y="456.5" width="1.6" height="0.5"/><rect x="95.9" y="456.1" width="1.0" height="0.9"/><rect x="96.9" y="456.6" width="1.3" height="0.4"/><rect x="98.5" y="455.9" width="1.6" height="1.1"/><rect x="99.8" y="456.3" width="1.6" height="0.7"/><rect x="102.4" y="456.5" width="1.0" height="0.5"/><rect x="104.6" y="456.5" width="1.3" height="0.5"/><rect x="107.2" y="456.6" width="1.3" height="0.4"/><rect x="109.6" y="456.6" width="1.3" height="0.4"/><rect x="113.0" y="455.8" width="1.6" height="1.2"/><rect x="120.1" y="456.4" width="1.6" height="0.6"/><rect x="122.0" y="456.5" width="1.3" height="0.5"/><rect x="122.7" y="456.6" width="1.3" height="0.4"/><rect x="124.1" y="456.3" width="0.8" height="0.7"/><rect x="145.2" y="456.4" width="1.3" height="0.6"/><rect x="149.9" y="456.1" width="1.6" height="0.9"/><rect x="151.6" y="456.4" width="0.8" height="0.6"/><rect x="153.5" y="456.6" width="1.3" height="0.4"/><rect x="154.7" y="456.0" width="1.6" height="1.0"/><rect x="156.0" y="456.3" width="1.6" height="0.7"/><rect x="157.6" y="456.2" width="1.6" height="0.8"/><rect x="158.7" y="455.3" width="0.8" height="1.7"/><rect x="171.9" y="455.8" width="1.6" height="1.2"/><rect x="182.2" y="456.6" width="1.0" height="0.4"/><rect x="184.2" y="456.3" width="1.6" height="0.7"/><rect x="186.3" y="455.3" width="1.3" height="1.7"/><rect x="189.9" y="456.6" width="0.8" height="0.4"/><rect x="195.8" y="456.4" width="1.6" height="0.6"/><rect x="199.4" y="455.8" width="1.3" height="1.2"/><rect x="200.3" y="455.4" width="1.3" height="1.6"/><rect x="209.5" y="455.7" width="1.0" height="1.3"/><rect x="211.7" y="456.5" width="1.3" height="0.5"/><rect x="213.3" y="455.3" width="1.3" height="1.7"/><rect x="235.2" y="456.6" width="0.8" height="0.4"/><rect x="239.6" y="456.0" width="0.8" height="1.0"/><rect x="244.8" y="456.1" width="1.3" height="0.9"/><rect x="248.7" y="456.6" width="1.3" height="0.4"/><rect x="249.6" y="456.3" width="1.0" height="0.7"/><rect x="251.5" y="456.5" width="1.6" height="0.5"/></g>
<line x1="58.3" y1="456.7" x2="252" y2="456.7" stroke="#d61a1a" stroke-width="0.6" stroke-dasharray="1 2.2" opacity="0.45"/>
<g fill="#1414c0"><rect x="70.6" y="479.1" width="1.0" height="0.5"/><rect x="105.3" y="478.9" width="0.8" height="0.7"/><rect x="122.4" y="478.6" width="0.8" height="1.0"/><rect x="131.3" y="479.2" width="1.3" height="0.4"/><rect x="154.7" y="478.6" width="1.0" height="1.0"/><rect x="157.5" y="478.8" width="1.0" height="0.8"/><rect x="158.5" y="479.0" width="1.0" height="0.6"/><rect x="160.9" y="479.2" width="1.3" height="0.4"/><rect x="167.8" y="479.1" width="1.0" height="0.5"/><rect x="176.0" y="479.1" width="1.0" height="0.5"/><rect x="188.5" y="479.2" width="0.8" height="0.4"/><rect x="189.5" y="478.8" width="1.3" height="0.8"/><rect x="204.9" y="479.1" width="1.3" height="0.5"/><rect x="221.4" y="479.2" width="0.8" height="0.4"/><rect x="230.4" y="478.6" width="1.0" height="1.0"/><rect x="235.9" y="479.2" width="1.3" height="0.4"/><rect x="237.5" y="478.9" width="1.3" height="0.7"/><rect x="247.4" y="478.6" width="1.0" height="1.0"/></g>
<line x1="58.3" y1="479.3" x2="252" y2="479.3" stroke="#1414c0" stroke-width="0.6" stroke-dasharray="1 2.2" opacity="0.45"/>
<polygon points="97.00,433.10 97.75,431.45 98.30,430.10 98.80,430.40 99.25,431.75 100.00,433.10" fill="#15a02a"/>
<polygon points="119.50,433.10 120.25,432.28 120.80,431.60 121.30,431.75 121.75,432.43 122.50,433.10" fill="#15a02a"/>
<polygon points="123.50,433.10 124.25,432.28 124.80,431.60 125.30,431.75 125.75,432.43 126.50,433.10" fill="#15a02a"/>
<polygon points="168.50,433.10 169.25,432.28 169.80,431.60 170.30,431.75 170.75,432.43 171.50,433.10" fill="#15a02a"/>
<polygon points="174.50,433.10 175.25,432.00 175.80,431.10 176.30,431.30 176.75,432.20 177.50,433.10" fill="#15a02a"/>
<polygon points="196.50,433.10 197.25,432.44 197.80,431.90 198.30,432.02 198.75,432.56 199.50,433.10" fill="#15a02a"/>
<polygon points="211.50,433.10 212.25,432.44 212.80,431.90 213.30,432.02 213.75,432.56 214.50,433.10" fill="#15a02a"/>
<polygon points="97.50,457.00 98.15,452.32 98.60,448.50 99.10,449.35 99.45,453.18 100.10,457.00" fill="#d61a1a"/>
<polygon points="95.05,457.00 95.67,455.07 96.10,453.50 96.60,453.85 96.92,455.43 97.55,457.00" fill="#d61a1a"/>
<polygon points="99.75,457.00 100.38,455.35 100.80,454.00 101.30,454.30 101.62,455.65 102.25,457.00" fill="#d61a1a"/>
<polygon points="88.50,457.00 89.25,455.90 89.80,455.00 90.30,455.20 90.75,456.10 91.50,457.00" fill="#d61a1a"/>
<polygon points="91.50,457.00 92.25,455.35 92.80,454.00 93.30,454.30 93.75,455.65 94.50,457.00" fill="#d61a1a"/>
<polygon points="94.25,457.00 94.88,454.80 95.30,453.00 95.80,453.40 96.12,455.20 96.75,457.00" fill="#d61a1a"/>
<polygon points="101.60,457.00 102.10,454.25 102.40,452.00 102.90,452.50 103.10,454.75 103.60,457.00" fill="#d61a1a"/>
<polygon points="85.50,457.00 86.25,456.01 86.80,455.20 87.30,455.38 87.75,456.19 88.50,457.00" fill="#d61a1a"/>
<polygon points="82.50,457.00 83.25,456.18 83.80,455.50 84.30,455.65 84.75,456.32 85.50,457.00" fill="#d61a1a"/>
<polygon points="108.50,457.00 109.25,456.12 109.80,455.40 110.30,455.56 110.75,456.28 111.50,457.00" fill="#d61a1a"/>
<polygon points="112.50,457.00 113.25,456.18 113.80,455.50 114.30,455.65 114.75,456.32 115.50,457.00" fill="#d61a1a"/>
<polygon points="126.50,457.00 127.25,456.18 127.80,455.50 128.30,455.65 128.75,456.32 129.50,457.00" fill="#d61a1a"/>
<polygon points="143.50,457.00 144.25,456.12 144.80,455.40 145.30,455.56 145.75,456.28 146.50,457.00" fill="#d61a1a"/>
<polygon points="163.50,457.00 164.25,456.12 164.80,455.40 165.30,455.56 165.75,456.28 166.50,457.00" fill="#d61a1a"/>
<polygon points="175.50,457.00 176.25,456.01 176.80,455.20 177.30,455.38 177.75,456.19 178.50,457.00" fill="#d61a1a"/>
<polygon points="195.50,457.00 196.25,456.12 196.80,455.40 197.30,455.56 197.75,456.28 198.50,457.00" fill="#d61a1a"/>
<polygon points="228.50,457.00 229.25,456.12 229.80,455.40 230.30,455.56 230.75,456.28 231.50,457.00" fill="#d61a1a"/>
<polygon points="238.50,457.00 239.25,456.18 239.80,455.50 240.30,455.65 240.75,456.32 241.50,457.00" fill="#d61a1a"/>
<polygon points="152.00,457.00 152.60,454.25 153.00,452.00 153.50,452.50 153.80,454.75 154.40,457.00" fill="#d61a1a"/>
<polygon points="168.50,457.00 169.25,455.35 169.80,454.00 170.30,454.30 170.75,455.65 171.50,457.00" fill="#d61a1a"/>
<polygon points="184.50,457.00 185.25,455.62 185.80,454.50 186.30,454.75 186.75,455.88 187.50,457.00" fill="#d61a1a"/>
<polygon points="206.50,457.00 207.25,455.07 207.80,453.50 208.30,453.85 208.75,455.43 209.50,457.00" fill="#d61a1a"/>
<polygon points="64.00,457.00 65.00,456.18 65.80,455.50 66.30,455.65 67.00,456.32 68.00,457.00" fill="#d61a1a"/>
<polygon points="90.00,457.00 91.00,455.79 91.80,454.80 92.30,455.02 93.00,456.01 94.00,457.00" fill="#d61a1a"/>
<polygon points="136.50,457.00 137.25,456.18 137.80,455.50 138.30,455.65 138.75,456.32 139.50,457.00" fill="#d61a1a"/>
<polygon points="216.50,457.00 217.25,456.18 217.80,455.50 218.30,455.65 218.75,456.32 219.50,457.00" fill="#d61a1a"/>
<polygon points="97.00,479.60 97.50,478.39 97.80,477.40 98.30,477.62 98.50,478.61 99.00,479.60" fill="#1414c0"/>
<polygon points="103.20,433.10 103.68,432.03 104.03,429.52 104.17,422.36 104.31,416.63 104.48,415.20 105.15,415.20 105.33,416.99 105.47,423.25 105.61,429.88 105.92,432.21 106.40,433.10" fill="#15a02a"/>
<polygon points="159.30,433.10 159.78,432.03 160.13,429.52 160.27,422.36 160.41,416.63 160.59,415.20 161.25,415.20 161.43,416.99 161.56,423.25 161.71,429.88 162.02,432.21 162.50,433.10" fill="#15a02a"/>
<polygon points="189.50,433.10 189.98,431.73 190.33,428.54 190.47,419.42 190.61,412.12 190.78,410.30 191.45,410.30 191.62,412.58 191.76,420.56 191.91,429.00 192.22,431.96 192.70,433.10" fill="#15a02a"/>
<polygon points="103.30,457.00 103.75,455.44 104.08,451.80 104.22,441.40 104.34,433.08 104.51,431.00 105.12,431.00 105.29,433.60 105.42,442.70 105.55,452.32 105.85,455.70 106.30,457.00" fill="#d61a1a"/>
<polygon points="158.60,457.00 159.20,455.76 159.72,452.86 159.88,444.58 160.04,437.96 160.24,436.30 161.00,436.30 161.20,438.37 161.36,445.62 161.52,453.27 162.00,455.96 162.60,457.00" fill="#d61a1a"/>
<polygon points="189.30,457.00 189.90,456.08 190.42,453.92 190.58,447.76 190.74,442.83 190.94,441.60 191.70,441.60 191.90,443.14 192.06,448.53 192.22,454.23 192.70,456.23 193.30,457.00" fill="#d61a1a"/>
<polygon points="103.00,479.60 103.54,478.27 104.03,475.18 104.17,466.34 104.31,459.27 104.48,457.50 105.15,457.50 105.33,459.71 105.47,467.44 105.61,475.62 106.06,478.50 106.60,479.60" fill="#1414c0"/>
<polygon points="159.00,479.60 159.48,478.72 159.83,476.68 159.97,470.84 160.11,466.17 160.28,465.00 160.95,465.00 161.12,466.46 161.26,471.57 161.41,476.97 161.72,478.87 162.20,479.60" fill="#1414c0"/>
<polygon points="189.70,479.60 190.18,478.53 190.53,476.02 190.67,468.86 190.81,463.13 190.99,461.70 191.65,461.70 191.83,463.49 191.97,469.75 192.11,476.38 192.42,478.71 192.90,479.60" fill="#1414c0"/>
<rect x="57.9" y="479.9" width="191.79999999999998" height="9.5" fill="#dfe1dd"/>
<rect x="78.1" y="480.2" width="1.5" height="1.6" fill="#6cbc5c"/><rect x="98.1" y="480.2" width="0.7" height="1.6" fill="#6cbc5c"/><rect x="109.3" y="480.2" width="1.2" height="1.6" fill="#6cbc5c"/><rect x="154.5" y="480.2" width="1.3" height="1.6" fill="#6cbc5c"/><rect x="174.1" y="480.2" width="1.1" height="1.6" fill="#6cbc5c"/><rect x="189.6" y="480.2" width="1.1" height="1.6" fill="#6cbc5c"/><rect x="191.2" y="480.2" width="0.7" height="1.6" fill="#6cbc5c"/><rect x="234.1" y="480.2" width="1.5" height="1.6" fill="#6cbc5c"/><rect x="57.7" y="480.2" width="1.2" height="1.9" fill="#6cbc5c"/><rect x="59.2" y="480.2" width="3.6" height="1.9" fill="#6cbc5c"/><rect x="63.3" y="480.2" width="2.8" height="1.9" fill="#6cbc5c"/><rect x="66.7" y="480.2" width="2.4" height="1.9" fill="#6cbc5c"/><rect x="69.6" y="480.2" width="1.7" height="1.9" fill="#5a82b0"/><rect x="80.5" y="480.2" width="2.7" height="1.9" fill="#6cbc5c"/><rect x="83.5" y="480.2" width="1.1" height="1.9" fill="#6cbc5c"/><rect x="85.2" y="480.2" width="2.6" height="1.9" fill="#5a82b0"/><rect x="88.3" y="480.2" width="0.4" height="1.9" fill="#6cbc5c"/><rect x="90.0" y="480.2" width="2.3" height="1.9" fill="#6cbc5c"/><rect x="92.7" y="480.2" width="2.8" height="1.9" fill="#5a82b0"/><rect x="99.7" y="480.2" width="2.9" height="1.9" fill="#5a82b0"/><rect x="103.2" y="480.2" width="1.0" height="1.9" fill="#6cbc5c"/><rect x="104.8" y="480.2" width="2.6" height="1.9" fill="#6cbc5c"/><rect x="126.1" y="480.2" width="1.0" height="1.9" fill="#5a82b0"/><rect x="132.3" y="480.2" width="2.7" height="1.9" fill="#5a82b0"/><rect x="136.7" y="480.2" width="2.8" height="1.9" fill="#6cbc5c"/><rect x="140.2" y="480.2" width="2.0" height="1.9" fill="#6cbc5c"/><rect x="142.5" y="480.2" width="2.6" height="1.9" fill="#5a82b0"/><rect x="147.6" y="480.2" width="2.3" height="1.9" fill="#6cbc5c"/><rect x="150.4" y="480.2" width="0.6" height="1.9" fill="#5a82b0"/><rect x="155.5" y="480.2" width="3.1" height="1.9" fill="#6cbc5c"/><rect x="159.2" y="480.2" width="2.2" height="1.9" fill="#6cbc5c"/><rect x="161.6" y="480.2" width="3.4" height="1.9" fill="#5a82b0"/><rect x="165.5" y="480.2" width="3.5" height="1.9" fill="#6cbc5c"/><rect x="169.5" y="480.2" width="1.1" height="1.9" fill="#6cbc5c"/><rect x="171.3" y="480.2" width="1.1" height="1.9" fill="#5a82b0"/><rect x="174.5" y="480.2" width="0.5" height="1.9" fill="#6cbc5c"/><rect x="176.1" y="480.2" width="2.1" height="1.9" fill="#6cbc5c"/><rect x="178.7" y="480.2" width="3.3" height="1.9" fill="#5a82b0"/><rect x="182.5" y="480.2" width="2.1" height="1.9" fill="#5a82b0"/><rect x="186.5" y="480.2" width="1.3" height="1.9" fill="#6cbc5c"/><rect x="188.1" y="480.2" width="2.7" height="1.9" fill="#6cbc5c"/><rect x="191.5" y="480.2" width="2.6" height="1.9" fill="#6cbc5c"/><rect x="194.3" y="480.2" width="1.4" height="1.9" fill="#5a82b0"/><rect x="196.0" y="480.2" width="2.7" height="1.9" fill="#6cbc5c"/><rect x="199.0" y="480.2" width="1.0" height="1.9" fill="#5a82b0"/><rect x="201.5" y="480.2" width="2.4" height="1.9" fill="#5a82b0"/><rect x="204.1" y="480.2" width="3.2" height="1.9" fill="#5a82b0"/><rect x="207.8" y="480.2" width="1.9" height="1.9" fill="#5a82b0"/><rect x="210.1" y="480.2" width="1.5" height="1.9" fill="#5a82b0"/><rect x="211.9" y="480.2" width="1.6" height="1.9" fill="#6cbc5c"/><rect x="214.0" y="480.2" width="2.4" height="1.9" fill="#6cbc5c"/><rect x="216.6" y="480.2" width="1.1" height="1.9" fill="#5a82b0"/><rect x="218.0" y="480.2" width="2.0" height="1.9" fill="#6cbc5c"/><rect x="220.6" y="480.2" width="2.6" height="1.9" fill="#6cbc5c"/><rect x="223.4" y="480.2" width="2.0" height="1.9" fill="#6cbc5c"/><rect x="225.6" y="480.2" width="2.6" height="1.9" fill="#5a82b0"/><rect x="228.6" y="480.2" width="1.2" height="1.9" fill="#6cbc5c"/><rect x="58.4" y="483.0" width="1.1" height="1.6" fill="#3c8c3c"/><rect x="60.2" y="483.0" width="0.7" height="1.6" fill="#3c8c3c"/><rect x="97.5" y="483.0" width="1.2" height="1.6" fill="#3c8c3c"/><rect x="157.4" y="483.0" width="0.7" height="1.6" fill="#3c8c3c"/><rect x="220.1" y="483.0" width="1.3" height="1.6" fill="#3c8c3c"/><rect x="227.1" y="483.0" width="1.1" height="1.6" fill="#3c8c3c"/><rect x="230.8" y="483.0" width="1.0" height="1.6" fill="#3c8c3c"/><rect x="232.5" y="483.0" width="1.4" height="1.6" fill="#3c8c3c"/><rect x="239.1" y="483.0" width="1.5" height="1.6" fill="#3c8c3c"/><rect x="57.9" y="483.0" width="2.8" height="1.9" fill="#237023"/><rect x="61.2" y="483.0" width="1.6" height="1.9" fill="#237023"/><rect x="63.1" y="483.0" width="2.9" height="1.9" fill="#237023"/><rect x="66.3" y="483.0" width="2.4" height="1.9" fill="#4c9c3e"/><rect x="69.0" y="483.0" width="1.6" height="1.9" fill="#237023"/><rect x="80.0" y="483.0" width="2.5" height="1.9" fill="#237023"/><rect x="82.8" y="483.0" width="3.6" height="1.9" fill="#237023"/><rect x="86.6" y="483.0" width="2.1" height="1.9" fill="#237023"/><rect x="90.0" y="483.0" width="2.2" height="1.9" fill="#237023"/><rect x="92.7" y="483.0" width="1.7" height="1.9" fill="#237023"/><rect x="94.9" y="483.0" width="2.7" height="1.9" fill="#237023"/><rect x="98.3" y="483.0" width="2.2" height="1.9" fill="#237023"/><rect x="101.0" y="483.0" width="3.0" height="1.9" fill="#237023"/><rect x="104.4" y="483.0" width="1.1" height="1.9" fill="#237023"/><rect x="105.9" y="483.0" width="2.1" height="1.9" fill="#237023"/><rect x="113.0" y="483.0" width="1.8" height="1.9" fill="#4c9c3e"/><rect x="115.4" y="483.0" width="2.9" height="1.9" fill="#237023"/><rect x="123.3" y="483.0" width="2.0" height="1.9" fill="#4c9c3e"/><rect x="125.6" y="483.0" width="2.4" height="1.9" fill="#237023"/><rect x="132.3" y="483.0" width="2.7" height="1.9" fill="#4c9c3e"/><rect x="137.1" y="483.0" width="3.6" height="1.9" fill="#237023"/><rect x="141.2" y="483.0" width="1.4" height="1.9" fill="#237023"/><rect x="142.9" y="483.0" width="2.1" height="1.9" fill="#237023"/><rect x="147.4" y="483.0" width="3.2" height="1.9" fill="#237023"/><rect x="152.5" y="483.0" width="3.1" height="1.9" fill="#237023"/><rect x="156.1" y="483.0" width="2.4" height="1.9" fill="#237023"/><rect x="159.1" y="483.0" width="2.7" height="1.9" fill="#237023"/><rect x="162.4" y="483.0" width="3.1" height="1.9" fill="#4c9c3e"/><rect x="166.1" y="483.0" width="1.9" height="1.9" fill="#4c9c3e"/><rect x="168.4" y="483.0" width="3.4" height="1.9" fill="#4c9c3e"/><rect x="172.1" y="483.0" width="2.0" height="1.9" fill="#237023"/><rect x="176.1" y="483.0" width="1.2" height="1.9" fill="#237023"/><rect x="177.5" y="483.0" width="2.8" height="1.9" fill="#237023"/><rect x="181.0" y="483.0" width="1.9" height="1.9" fill="#237023"/><rect x="183.5" y="483.0" width="3.1" height="1.9" fill="#4c9c3e"/><rect x="187.2" y="483.0" width="2.2" height="1.9" fill="#237023"/><rect x="189.9" y="483.0" width="1.1" height="1.9" fill="#237023"/><rect x="191.4" y="483.0" width="1.2" height="1.9" fill="#237023"/><rect x="192.9" y="483.0" width="1.4" height="1.9" fill="#237023"/><rect x="194.8" y="483.0" width="3.1" height="1.9" fill="#237023"/><rect x="198.2" y="483.0" width="1.8" height="1.9" fill="#237023"/><rect x="201.4" y="483.0" width="2.5" height="1.9" fill="#237023"/><rect x="204.4" y="483.0" width="1.9" height="1.9" fill="#237023"/><rect x="206.9" y="483.0" width="1.8" height="1.9" fill="#4c9c3e"/><rect x="209.0" y="483.0" width="1.7" height="1.9" fill="#237023"/><rect x="211.0" y="483.0" width="1.7" height="1.9" fill="#237023"/><rect x="213.0" y="483.0" width="1.0" height="1.9" fill="#237023"/><rect x="214.4" y="483.0" width="3.3" height="1.9" fill="#4c9c3e"/><rect x="218.2" y="483.0" width="2.7" height="1.9" fill="#237023"/><rect x="221.3" y="483.0" width="2.4" height="1.9" fill="#237023"/><rect x="224.0" y="483.0" width="3.4" height="1.9" fill="#237023"/><rect x="228.1" y="483.0" width="1.2" height="1.9" fill="#4c9c3e"/><rect x="75.1" y="485.4" width="0.9" height="1.6" fill="#3c8c3c"/><rect x="96.1" y="485.4" width="1.5" height="1.6" fill="#3c8c3c"/><rect x="105.6" y="485.4" width="1.2" height="1.6" fill="#3c8c3c"/><rect x="115.6" y="485.4" width="1.5" height="1.6" fill="#3c8c3c"/><rect x="117.6" y="485.4" width="1.4" height="1.6" fill="#3c8c3c"/><rect x="120.5" y="485.4" width="1.2" height="1.6" fill="#3c8c3c"/><rect x="136.2" y="485.4" width="1.6" height="1.6" fill="#3c8c3c"/><rect x="183.6" y="485.4" width="0.8" height="1.6" fill="#3c8c3c"/><rect x="210.3" y="485.4" width="0.7" height="1.6" fill="#3c8c3c"/><rect x="222.4" y="485.4" width="0.8" height="1.6" fill="#3c8c3c"/><rect x="224.9" y="485.4" width="1.5" height="1.6" fill="#3c8c3c"/><rect x="248.5" y="485.4" width="0.9" height="1.6" fill="#3c8c3c"/><rect x="57.8" y="485.4" width="1.8" height="1.9" fill="#4c9c3e"/><rect x="59.9" y="485.4" width="1.9" height="1.9" fill="#237023"/><rect x="65.7" y="485.4" width="2.9" height="1.9" fill="#237023"/><rect x="69.2" y="485.4" width="2.1" height="1.9" fill="#237023"/><rect x="80.4" y="485.4" width="2.4" height="1.9" fill="#237023"/><rect x="83.3" y="485.4" width="2.4" height="1.9" fill="#237023"/><rect x="86.4" y="485.4" width="2.3" height="1.9" fill="#4c9c3e"/><rect x="89.8" y="485.4" width="3.5" height="1.9" fill="#237023"/><rect x="96.5" y="485.4" width="3.4" height="1.9" fill="#237023"/><rect x="100.4" y="485.4" width="2.8" height="1.9" fill="#237023"/><rect x="103.6" y="485.4" width="1.1" height="1.9" fill="#237023"/><rect x="107.0" y="485.4" width="1.0" height="1.9" fill="#4c9c3e"/><rect x="113.1" y="485.4" width="1.2" height="1.9" fill="#237023"/><rect x="114.6" y="485.4" width="1.2" height="1.9" fill="#4c9c3e"/><rect x="116.1" y="485.4" width="2.4" height="1.9" fill="#4c9c3e"/><rect x="123.5" y="485.4" width="2.6" height="1.9" fill="#237023"/><rect x="126.7" y="485.4" width="1.3" height="1.9" fill="#237023"/><rect x="132.2" y="485.4" width="1.6" height="1.9" fill="#237023"/><rect x="134.3" y="485.4" width="0.7" height="1.9" fill="#237023"/><rect x="137.0" y="485.4" width="1.7" height="1.9" fill="#4c9c3e"/><rect x="139.1" y="485.4" width="2.9" height="1.9" fill="#237023"/><rect x="142.6" y="485.4" width="2.5" height="1.9" fill="#237023"/><rect x="147.3" y="485.4" width="2.8" height="1.9" fill="#237023"/><rect x="152.5" y="485.4" width="1.4" height="1.9" fill="#237023"/><rect x="154.1" y="485.4" width="3.1" height="1.9" fill="#237023"/><rect x="157.8" y="485.4" width="2.8" height="1.9" fill="#237023"/><rect x="160.9" y="485.4" width="1.8" height="1.9" fill="#4c9c3e"/><rect x="163.1" y="485.4" width="1.7" height="1.9" fill="#237023"/><rect x="168.1" y="485.4" width="2.9" height="1.9" fill="#237023"/><rect x="171.7" y="485.4" width="1.7" height="1.9" fill="#237023"/><rect x="173.9" y="485.4" width="1.1" height="1.9" fill="#237023"/><rect x="176.5" y="485.4" width="1.5" height="1.9" fill="#237023"/><rect x="180.9" y="485.4" width="3.2" height="1.9" fill="#237023"/><rect x="184.5" y="485.4" width="1.1" height="1.9" fill="#237023"/><rect x="185.8" y="485.4" width="3.3" height="1.9" fill="#237023"/><rect x="189.6" y="485.4" width="1.4" height="1.9" fill="#237023"/><rect x="191.6" y="485.4" width="1.3" height="1.9" fill="#237023"/><rect x="193.3" y="485.4" width="2.6" height="1.9" fill="#237023"/><rect x="196.5" y="485.4" width="3.0" height="1.9" fill="#237023"/><rect x="201.4" y="485.4" width="2.7" height="1.9" fill="#237023"/><rect x="204.5" y="485.4" width="1.2" height="1.9" fill="#237023"/><rect x="205.9" y="485.4" width="1.6" height="1.9" fill="#237023"/><rect x="208.2" y="485.4" width="1.2" height="1.9" fill="#4c9c3e"/><rect x="209.7" y="485.4" width="2.2" height="1.9" fill="#4c9c3e"/><rect x="212.6" y="485.4" width="2.5" height="1.9" fill="#4c9c3e"/><rect x="215.4" y="485.4" width="1.3" height="1.9" fill="#4c9c3e"/><rect x="217.2" y="485.4" width="3.4" height="1.9" fill="#237023"/><rect x="223.6" y="485.4" width="2.2" height="1.9" fill="#237023"/><rect x="226.1" y="485.4" width="2.2" height="1.9" fill="#237023"/><rect x="228.7" y="485.4" width="1.3" height="1.9" fill="#237023"/><rect x="89.8" y="487.7" width="0.9" height="1.6" fill="#3c8c3c"/><rect x="107.7" y="487.7" width="1.0" height="1.6" fill="#3c8c3c"/><rect x="127.1" y="487.7" width="1.0" height="1.6" fill="#3c8c3c"/><rect x="132.3" y="487.7" width="1.6" height="1.6" fill="#3c8c3c"/><rect x="142.1" y="487.7" width="1.0" height="1.6" fill="#3c8c3c"/><rect x="155.3" y="487.7" width="1.1" height="1.6" fill="#3c8c3c"/><rect x="166.4" y="487.7" width="1.2" height="1.6" fill="#3c8c3c"/><rect x="195.2" y="487.7" width="1.1" height="1.6" fill="#3c8c3c"/><rect x="210.2" y="487.7" width="1.2" height="1.6" fill="#3c8c3c"/><rect x="217.6" y="487.7" width="1.0" height="1.6" fill="#3c8c3c"/><rect x="244.7" y="487.7" width="1.0" height="1.6" fill="#3c8c3c"/><rect x="57.9" y="487.7" width="3.0" height="1.9" fill="#237023"/><rect x="61.4" y="487.7" width="2.9" height="1.9" fill="#237023"/><rect x="64.9" y="487.7" width="3.1" height="1.9" fill="#237023"/><rect x="68.5" y="487.7" width="1.5" height="1.9" fill="#237023"/><rect x="80.0" y="487.7" width="3.2" height="1.9" fill="#237023"/><rect x="83.7" y="487.7" width="1.7" height="1.9" fill="#237023"/><rect x="85.9" y="487.7" width="2.8" height="1.9" fill="#237023"/><rect x="92.2" y="487.7" width="2.1" height="1.9" fill="#237023"/><rect x="94.7" y="487.7" width="1.7" height="1.9" fill="#237023"/><rect x="96.6" y="487.7" width="2.8" height="1.9" fill="#237023"/><rect x="103.5" y="487.7" width="2.0" height="1.9" fill="#237023"/><rect x="106.2" y="487.7" width="1.8" height="1.9" fill="#237023"/><rect x="113.1" y="487.7" width="1.6" height="1.9" fill="#237023"/><rect x="115.3" y="487.7" width="2.4" height="1.9" fill="#237023"/><rect x="123.3" y="487.7" width="3.3" height="1.9" fill="#237023"/><rect x="127.1" y="487.7" width="0.9" height="1.9" fill="#237023"/><rect x="132.2" y="487.7" width="2.8" height="1.9" fill="#237023"/><rect x="137.3" y="487.7" width="2.4" height="1.9" fill="#237023"/><rect x="140.3" y="487.7" width="3.4" height="1.9" fill="#4c9c3e"/><rect x="144.0" y="487.7" width="1.4" height="1.9" fill="#4c9c3e"/><rect x="147.2" y="487.7" width="2.3" height="1.9" fill="#237023"/><rect x="149.9" y="487.7" width="1.1" height="1.9" fill="#4c9c3e"/><rect x="152.4" y="487.7" width="2.0" height="1.9" fill="#4c9c3e"/><rect x="154.8" y="487.7" width="2.2" height="1.9" fill="#237023"/><rect x="157.6" y="487.7" width="2.0" height="1.9" fill="#237023"/><rect x="160.1" y="487.7" width="2.9" height="1.9" fill="#4c9c3e"/><rect x="163.5" y="487.7" width="1.5" height="1.9" fill="#237023"/><rect x="165.2" y="487.7" width="3.4" height="1.9" fill="#237023"/><rect x="169.0" y="487.7" width="3.4" height="1.9" fill="#237023"/><rect x="173.1" y="487.7" width="1.9" height="1.9" fill="#237023"/><rect x="176.1" y="487.7" width="1.2" height="1.9" fill="#237023"/><rect x="177.8" y="487.7" width="2.2" height="1.9" fill="#237023"/><rect x="180.3" y="487.7" width="3.2" height="1.9" fill="#4c9c3e"/><rect x="183.7" y="487.7" width="1.8" height="1.9" fill="#4c9c3e"/><rect x="186.0" y="487.7" width="3.6" height="1.9" fill="#237023"/><rect x="190.0" y="487.7" width="2.4" height="1.9" fill="#237023"/><rect x="192.6" y="487.7" width="1.8" height="1.9" fill="#237023"/><rect x="194.9" y="487.7" width="1.7" height="1.9" fill="#237023"/><rect x="201.3" y="487.7" width="1.5" height="1.9" fill="#237023"/><rect x="203.5" y="487.7" width="2.7" height="1.9" fill="#4c9c3e"/><rect x="206.7" y="487.7" width="2.7" height="1.9" fill="#237023"/><rect x="210.1" y="487.7" width="1.0" height="1.9" fill="#237023"/><rect x="211.8" y="487.7" width="3.3" height="1.9" fill="#4c9c3e"/><rect x="215.4" y="487.7" width="1.0" height="1.9" fill="#237023"/><rect x="217.0" y="487.7" width="1.2" height="1.9" fill="#237023"/><rect x="218.7" y="487.7" width="3.1" height="1.9" fill="#237023"/><rect x="222.1" y="487.7" width="2.6" height="1.9" fill="#237023"/><rect x="225.2" y="487.7" width="1.4" height="1.9" fill="#237023"/><rect x="226.9" y="487.7" width="2.6" height="1.9" fill="#237023"/>
<rect x="43.30" y="480.80" width="12.00" height="1.00" fill="#5a7fa0" opacity="0.55"/>
<rect x="41.30" y="483.00" width="14.00" height="1.00" fill="#6a9a6a" opacity="0.55"/>
<rect x="44.30" y="485.20" width="11.00" height="1.00" fill="#888" opacity="0.55"/>
<rect x="46.30" y="487.40" width="9.00" height="1.00" fill="#5a7fa0" opacity="0.55"/>
<text x="91.8" y="383.6" font-size="3.2" fill="#666" font-weight="bold" text-anchor="middle">124,810,000</text>
<text x="116.5" y="383.6" font-size="3.2" fill="#666" font-weight="bold" text-anchor="middle">124,820,000</text>
<text x="141.0" y="383.6" font-size="3.2" fill="#666" font-weight="bold" text-anchor="middle">124,830,000</text>
<text x="165.5" y="383.6" font-size="3.2" fill="#666" font-weight="bold" text-anchor="middle">124,840,000</text>
<text x="190.0" y="383.6" font-size="3.2" fill="#666" font-weight="bold" text-anchor="middle">124,850,000</text>
<text x="216.0" y="383.6" font-size="3.2" fill="#666" font-weight="bold" text-anchor="middle">124,860,000</text>
<line x1="125.80" y1="377.20" x2="178.80" y2="377.20" stroke="#888" stroke-width="0.6"/>
<line x1="125.80" y1="376.00" x2="125.80" y2="378.40" stroke="#888" stroke-width="0.6"/>
<line x1="178.80" y1="376.00" x2="178.80" y2="378.40" stroke="#888" stroke-width="0.6"/>
<text x="124.3" y="378.2" font-size="3.2" fill="#555" font-weight="bold" text-anchor="end">50 kb</text>
<text x="180.8" y="378.2" font-size="3.2" fill="#555" font-weight="bold">mm9</text>
<text x="54.5" y="379.5" font-size="2.9" fill="#555" font-weight="bold" text-anchor="end">Scale</text>
<text x="54.5" y="383.2" font-size="2.9" fill="#555" font-weight="bold" text-anchor="end">chr4:</text>
<line x1="93.00" y1="386.10" x2="221.00" y2="386.10" stroke="#333" stroke-width="0.6" stroke-dasharray="0.8 0.8"/>
<rect x="91.60" y="384.90" width="1.80" height="2.40" fill="#111"/>
<text x="90.0" y="387.0" font-size="2.8" fill="#333" font-weight="bold" text-anchor="end">Zfpm1</text>
<rect x="221.50" y="384.40" width="8.50" height="3.20" fill="#111"/>
<rect x="150.30" y="385.30" width="0.80" height="1.80" fill="#222"/>
<rect x="155.50" y="385.30" width="0.80" height="1.80" fill="#222"/>
<rect x="196.00" y="385.30" width="0.80" height="1.80" fill="#222"/>
<rect x="217.00" y="385.30" width="0.80" height="1.80" fill="#222"/>
<rect x="76.00" y="381.00" width="1.00" height="2.60" fill="#bbb"/>
<line x1="93.20" y1="391.70" x2="230.00" y2="391.70" stroke="#5a7fbc" stroke-width="1.5"/>
<circle cx="93.2" cy="391.7" r="2.1" fill="#5a7fbc"/>
<polygon points="230.8,391.7 225.5,389.5 226.7,391.7 225.5,393.9" fill="#5a7fbc"/>
<text x="62.66" y="396.00" font-size="8.83" fill="#5b6f96" font-style="italic" stroke="#5b6f96" stroke-width="0.25" textLength="22.20" lengthAdjust="spacingAndGlyphs">Zfpm1</text>
<text x="292.41" y="382.60" font-size="12.2" font-weight="bold" fill="#000">E</text>
<line x1="327.30" y1="388.50" x2="327.30" y2="481.70" stroke="#d4d4d4" stroke-width="0.8"/>
<text x="298.62" y="403.50" font-size="9.14" fill="#161616" stroke="#161616" stroke-width="0.3" textLength="15.78" lengthAdjust="spacingAndGlyphs">IgG</text>
<text x="295.56" y="428.20" font-size="10.21" fill="#62a050" stroke="#62a050" stroke-width="0.3" textLength="20.45" lengthAdjust="spacingAndGlyphs">Ldb1</text>
<text x="293.43" y="451.10" font-size="9.57" fill="#bd383e" stroke="#bd383e" stroke-width="0.3" textLength="25.48" lengthAdjust="spacingAndGlyphs">Gata1</text>
<text x="297.72" y="477.70" font-size="9.93" fill="#2c3391" stroke="#2c3391" stroke-width="0.3" textLength="16.69" lengthAdjust="spacingAndGlyphs">Tal1</text>
<text x="325.8" y="414.1" font-size="2.8" fill="#777" font-weight="bold" text-anchor="end">7.000</text>
<line x1="326.10" y1="411.70" x2="327.30" y2="411.70" stroke="#aaa" stroke-width="0.5"/>
<text x="324.3" y="410.9" font-size="2.6" fill="#888" font-weight="bold" text-anchor="end">0</text>
<text x="325.8" y="437.2" font-size="2.8" fill="#6a9a5a" font-weight="bold" text-anchor="end">0.000</text>
<line x1="326.10" y1="434.80" x2="327.30" y2="434.80" stroke="#aaa" stroke-width="0.5"/>
<text x="324.3" y="434.0" font-size="2.6" fill="#888" font-weight="bold" text-anchor="end">0</text>
<text x="325.8" y="460.3" font-size="2.8" fill="#b06060" font-weight="bold" text-anchor="end">5.000</text>
<line x1="326.10" y1="457.90" x2="327.30" y2="457.90" stroke="#aaa" stroke-width="0.5"/>
<text x="324.3" y="457.1" font-size="2.6" fill="#888" font-weight="bold" text-anchor="end">0</text>
<text x="325.8" y="483.4" font-size="2.8" fill="#6060a0" font-weight="bold" text-anchor="end">0.000</text>
<line x1="326.10" y1="481.00" x2="327.30" y2="481.00" stroke="#aaa" stroke-width="0.5"/>
<text x="325.8" y="390.0" font-size="2.8" fill="#777" font-weight="bold" text-anchor="end">500</text>
<g fill="#1a1a1a"><rect x="333.4" y="410.5" width="0.8" height="1.4"/><rect x="339.0" y="411.0" width="1.6" height="0.9"/><rect x="340.4" y="410.5" width="1.3" height="1.4"/><rect x="341.6" y="410.7" width="1.6" height="1.2"/><rect x="343.0" y="411.1" width="1.0" height="0.8"/><rect x="343.9" y="410.4" width="1.3" height="1.5"/><rect x="345.1" y="410.5" width="0.8" height="1.4"/><rect x="346.2" y="409.8" width="1.0" height="2.1"/><rect x="348.8" y="410.4" width="1.3" height="1.5"/><rect x="353.1" y="411.2" width="0.8" height="0.7"/><rect x="356.7" y="411.2" width="0.8" height="0.7"/><rect x="358.3" y="409.5" width="0.8" height="2.4"/><rect x="359.9" y="411.0" width="1.6" height="0.9"/><rect x="362.2" y="410.1" width="0.8" height="1.8"/><rect x="364.3" y="409.5" width="1.3" height="2.4"/><rect x="365.0" y="411.2" width="1.3" height="0.7"/><rect x="366.2" y="410.4" width="1.3" height="1.5"/><rect x="369.0" y="410.3" width="1.0" height="1.6"/><rect x="369.8" y="410.7" width="1.0" height="1.2"/><rect x="373.4" y="411.2" width="1.0" height="0.7"/><rect x="374.4" y="411.0" width="1.6" height="0.9"/><rect x="378.1" y="411.1" width="1.3" height="0.8"/><rect x="381.7" y="410.9" width="1.3" height="1.0"/><rect x="383.4" y="410.9" width="1.3" height="1.0"/><rect x="386.2" y="410.6" width="1.0" height="1.3"/><rect x="388.6" y="410.2" width="0.8" height="1.7"/><rect x="390.8" y="409.5" width="0.8" height="2.4"/><rect x="391.8" y="409.8" width="0.8" height="2.1"/><rect x="393.6" y="409.5" width="0.8" height="2.4"/><rect x="395.3" y="411.0" width="0.8" height="0.9"/><rect x="397.4" y="410.5" width="1.6" height="1.4"/><rect x="398.7" y="410.1" width="1.6" height="1.8"/><rect x="403.3" y="411.3" width="1.0" height="0.6"/><rect x="408.5" y="411.0" width="0.8" height="0.9"/><rect x="409.4" y="410.7" width="0.8" height="1.2"/><rect x="414.9" y="410.5" width="1.3" height="1.4"/><rect x="418.5" y="410.2" width="1.6" height="1.7"/><rect x="434.6" y="410.7" width="1.3" height="1.2"/><rect x="439.0" y="411.0" width="0.8" height="0.9"/><rect x="442.8" y="411.0" width="1.3" height="0.9"/><rect x="443.7" y="411.2" width="1.3" height="0.7"/><rect x="446.1" y="410.7" width="1.6" height="1.2"/><rect x="450.9" y="410.3" width="1.6" height="1.6"/><rect x="453.2" y="410.8" width="1.6" height="1.1"/><rect x="455.4" y="411.1" width="0.8" height="0.8"/><rect x="456.4" y="411.2" width="1.3" height="0.7"/><rect x="458.2" y="411.1" width="1.0" height="0.8"/><rect x="461.1" y="410.8" width="1.6" height="1.1"/><rect x="465.6" y="411.0" width="0.8" height="0.9"/><rect x="466.9" y="411.0" width="1.0" height="0.9"/><rect x="468.5" y="409.9" width="0.8" height="2.0"/><rect x="469.4" y="410.9" width="0.8" height="1.0"/><rect x="476.5" y="411.1" width="0.8" height="0.8"/><rect x="480.0" y="411.1" width="1.3" height="0.8"/><rect x="482.4" y="410.7" width="1.6" height="1.2"/><rect x="485.4" y="411.3" width="0.8" height="0.6"/><rect x="487.0" y="409.5" width="1.3" height="2.4"/><rect x="488.1" y="410.7" width="0.8" height="1.2"/><rect x="492.9" y="410.5" width="1.6" height="1.4"/><rect x="494.3" y="410.6" width="1.0" height="1.3"/><rect x="497.4" y="411.0" width="1.6" height="0.9"/><rect x="501.6" y="411.0" width="1.6" height="0.9"/><rect x="503.5" y="411.0" width="1.0" height="0.9"/><rect x="504.5" y="411.2" width="1.0" height="0.7"/><rect x="508.6" y="411.0" width="1.3" height="0.9"/><rect x="512.7" y="409.5" width="0.8" height="2.4"/><rect x="513.4" y="410.7" width="1.6" height="1.2"/><rect x="514.4" y="410.7" width="1.3" height="1.2"/><rect x="517.7" y="411.2" width="1.3" height="0.7"/></g>
<line x1="328.3" y1="411.6" x2="518.5" y2="411.6" stroke="#1a1a1a" stroke-width="0.6" stroke-dasharray="1 2.2" opacity="0.45"/>
<g fill="#15a02a"><rect x="329.3" y="434.0" width="1.3" height="1.0"/><rect x="330.8" y="433.8" width="1.0" height="1.2"/><rect x="334.8" y="433.8" width="1.0" height="1.2"/><rect x="347.7" y="433.9" width="1.6" height="1.1"/><rect x="349.2" y="434.6" width="1.0" height="0.4"/><rect x="350.0" y="434.0" width="0.8" height="1.0"/><rect x="353.1" y="433.7" width="1.6" height="1.3"/><rect x="359.4" y="434.0" width="1.6" height="1.0"/><rect x="360.1" y="434.1" width="1.0" height="0.9"/><rect x="364.2" y="434.0" width="1.3" height="1.0"/><rect x="369.4" y="433.7" width="1.0" height="1.3"/><rect x="385.0" y="434.6" width="1.6" height="0.4"/><rect x="389.1" y="434.5" width="1.3" height="0.5"/><rect x="393.0" y="434.6" width="1.6" height="0.4"/><rect x="393.8" y="434.1" width="1.6" height="0.9"/><rect x="394.6" y="433.7" width="1.0" height="1.3"/><rect x="404.0" y="434.0" width="0.8" height="1.0"/><rect x="410.6" y="434.4" width="1.0" height="0.6"/><rect x="414.1" y="434.2" width="1.3" height="0.8"/><rect x="417.2" y="433.7" width="1.0" height="1.3"/><rect x="424.1" y="434.3" width="0.8" height="0.7"/><rect x="444.3" y="434.1" width="1.3" height="0.9"/><rect x="448.8" y="434.6" width="1.6" height="0.4"/><rect x="455.9" y="434.6" width="1.6" height="0.4"/><rect x="464.0" y="434.5" width="1.3" height="0.5"/><rect x="487.8" y="433.7" width="1.6" height="1.3"/><rect x="495.2" y="434.0" width="1.0" height="1.0"/><rect x="498.2" y="434.4" width="1.6" height="0.6"/><rect x="500.9" y="434.4" width="1.3" height="0.6"/><rect x="505.9" y="434.2" width="1.6" height="0.8"/><rect x="508.7" y="434.2" width="0.8" height="0.8"/><rect x="511.1" y="434.4" width="0.8" height="0.6"/><rect x="512.4" y="433.8" width="1.6" height="1.2"/><rect x="514.0" y="434.5" width="1.6" height="0.5"/></g>
<line x1="328.3" y1="434.7" x2="518.5" y2="434.7" stroke="#15a02a" stroke-width="0.6" stroke-dasharray="1 2.2" opacity="0.45"/>
<g fill="#d61a1a"><rect x="330.2" y="456.4" width="1.0" height="1.7"/><rect x="335.2" y="457.7" width="1.0" height="0.4"/><rect x="342.2" y="457.6" width="0.8" height="0.5"/><rect x="349.3" y="456.4" width="1.3" height="1.7"/><rect x="355.0" y="457.1" width="1.6" height="1.0"/><rect x="361.8" y="457.5" width="0.8" height="0.6"/><rect x="373.7" y="456.5" width="1.0" height="1.6"/><rect x="378.0" y="456.9" width="1.0" height="1.2"/><rect x="379.9" y="457.6" width="0.8" height="0.5"/><rect x="396.3" y="457.4" width="0.8" height="0.7"/><rect x="397.6" y="457.1" width="1.6" height="1.0"/><rect x="399.5" y="457.7" width="1.0" height="0.4"/><rect x="400.8" y="457.6" width="1.3" height="0.5"/><rect x="402.3" y="457.7" width="0.8" height="0.4"/><rect x="405.4" y="456.4" width="1.0" height="1.7"/><rect x="408.3" y="457.6" width="1.6" height="0.5"/><rect x="410.0" y="457.1" width="1.6" height="1.0"/><rect x="411.5" y="457.6" width="1.3" height="0.5"/><rect x="415.5" y="456.4" width="1.3" height="1.7"/><rect x="418.0" y="457.4" width="0.8" height="0.7"/><rect x="424.4" y="456.4" width="0.8" height="1.7"/><rect x="431.3" y="456.7" width="1.3" height="1.4"/><rect x="432.4" y="457.7" width="1.6" height="0.4"/><rect x="436.6" y="457.5" width="0.8" height="0.6"/><rect x="439.0" y="457.7" width="1.6" height="0.4"/><rect x="440.3" y="457.3" width="1.0" height="0.8"/><rect x="443.6" y="457.5" width="0.8" height="0.6"/><rect x="448.4" y="457.6" width="1.3" height="0.5"/><rect x="460.0" y="457.6" width="1.0" height="0.5"/><rect x="461.1" y="457.5" width="0.8" height="0.6"/><rect x="463.4" y="456.4" width="1.3" height="1.7"/><rect x="465.7" y="457.6" width="1.6" height="0.5"/><rect x="471.7" y="456.4" width="1.0" height="1.7"/><rect x="476.0" y="457.6" width="1.0" height="0.5"/><rect x="479.8" y="457.5" width="1.6" height="0.6"/><rect x="488.1" y="456.7" width="0.8" height="1.4"/><rect x="493.4" y="457.6" width="1.0" height="0.5"/><rect x="495.6" y="457.5" width="1.0" height="0.6"/><rect x="501.6" y="457.2" width="1.3" height="0.9"/><rect x="505.2" y="457.3" width="1.3" height="0.8"/><rect x="509.0" y="457.0" width="1.3" height="1.1"/><rect x="510.5" y="457.0" width="0.8" height="1.1"/><rect x="513.9" y="456.8" width="1.0" height="1.3"/><rect x="515.3" y="457.4" width="1.3" height="0.7"/><rect x="516.0" y="456.4" width="1.3" height="1.7"/></g>
<line x1="328.3" y1="457.8" x2="518.5" y2="457.8" stroke="#d61a1a" stroke-width="0.6" stroke-dasharray="1 2.2" opacity="0.45"/>
<g fill="#1414c0"><rect x="337.7" y="480.8" width="1.6" height="0.4"/><rect x="358.2" y="480.7" width="1.3" height="0.5"/><rect x="375.3" y="480.6" width="0.8" height="0.6"/><rect x="378.9" y="480.2" width="1.6" height="1.0"/><rect x="384.3" y="480.5" width="1.0" height="0.7"/><rect x="387.5" y="480.4" width="1.0" height="0.8"/><rect x="391.4" y="480.2" width="1.6" height="1.0"/><rect x="410.5" y="480.4" width="0.8" height="0.8"/><rect x="415.0" y="480.6" width="1.0" height="0.6"/><rect x="419.0" y="480.3" width="1.6" height="0.9"/><rect x="428.2" y="480.2" width="1.6" height="1.0"/><rect x="459.4" y="480.2" width="1.0" height="1.0"/><rect x="469.6" y="480.8" width="0.8" height="0.4"/><rect x="489.2" y="480.6" width="1.0" height="0.6"/><rect x="511.9" y="480.6" width="1.3" height="0.6"/></g>
<line x1="328.3" y1="480.9" x2="518.5" y2="480.9" stroke="#1414c0" stroke-width="0.6" stroke-dasharray="1 2.2" opacity="0.45"/>
<polygon points="405.50,435.00 406.25,434.34 406.80,433.80 407.30,433.92 407.75,434.46 408.50,435.00" fill="#15a02a"/>
<polygon points="482.50,435.00 483.25,434.18 483.80,433.50 484.30,433.65 484.75,434.32 485.50,435.00" fill="#15a02a"/>
<polygon points="506.30,435.00 506.80,432.25 507.10,430.00 507.60,430.50 507.80,432.75 508.30,435.00" fill="#15a02a"/>
<polygon points="511.00,435.00 511.50,434.18 511.80,433.50 512.30,433.65 512.50,434.32 513.00,435.00" fill="#15a02a"/>
<polygon points="393.50,435.00 394.25,434.34 394.80,433.80 395.30,433.92 395.75,434.46 396.50,435.00" fill="#15a02a"/>
<polygon points="468.50,435.00 469.25,434.34 469.80,433.80 470.30,433.92 470.75,434.46 471.50,435.00" fill="#15a02a"/>
<polygon points="425.00,458.10 425.75,455.90 426.30,454.10 426.80,454.50 427.25,456.30 428.00,458.10" fill="#d61a1a"/>
<polygon points="447.00,458.10 447.75,455.90 448.30,454.10 448.80,454.50 449.25,456.30 450.00,458.10" fill="#d61a1a"/>
<polygon points="449.50,458.10 450.25,456.73 450.80,455.60 451.30,455.85 451.75,456.98 452.50,458.10" fill="#d61a1a"/>
<polygon points="468.50,458.10 469.25,457.11 469.80,456.30 470.30,456.48 470.75,457.29 471.50,458.10" fill="#d61a1a"/>
<polygon points="495.50,458.10 496.25,456.89 496.80,455.90 497.30,456.12 497.75,457.11 498.50,458.10" fill="#d61a1a"/>
<polygon points="506.05,458.10 506.68,455.62 507.10,453.60 507.60,454.05 507.93,456.08 508.55,458.10" fill="#d61a1a"/>
<polygon points="398.50,458.10 399.25,457.28 399.80,456.60 400.30,456.75 400.75,457.43 401.50,458.10" fill="#d61a1a"/>
<polygon points="411.50,458.10 412.25,457.28 412.80,456.60 413.30,456.75 413.75,457.43 414.50,458.10" fill="#d61a1a"/>
<polygon points="435.50,458.10 436.25,457.22 436.80,456.50 437.30,456.66 437.75,457.38 438.50,458.10" fill="#d61a1a"/>
<polygon points="486.50,458.10 487.25,457.22 487.80,456.50 488.30,456.66 488.75,457.38 489.50,458.10" fill="#d61a1a"/>
<polygon points="354.50,411.90 355.25,411.07 355.80,410.40 356.30,410.55 356.75,411.22 357.50,411.90" fill="#1a1a1a"/>
<polygon points="386.50,411.90 387.25,411.07 387.80,410.40 388.30,410.55 388.75,411.22 389.50,411.90" fill="#1a1a1a"/>
<polygon points="407.50,411.90 408.25,411.02 408.80,410.30 409.30,410.46 409.75,411.18 410.50,411.90" fill="#1a1a1a"/>
<polygon points="475.50,411.90 476.25,411.07 476.80,410.40 477.30,410.55 477.75,411.22 478.50,411.90" fill="#1a1a1a"/>
<polygon points="501.50,411.90 502.25,410.91 502.80,410.10 503.30,410.28 503.75,411.09 504.50,411.90" fill="#1a1a1a"/>
<polygon points="478.50,411.90 479.25,410.80 479.80,409.90 480.30,410.10 480.75,411.00 481.50,411.90" fill="#1a1a1a"/>
<polygon points="429.00,411.90 429.50,411.07 429.80,410.40 430.30,410.55 430.50,411.22 431.00,411.90" fill="#1a1a1a"/>
<polygon points="426.70,435.00 427.54,433.61 427.96,430.38 428.24,421.14 428.52,413.75 428.87,411.90 430.20,411.90 430.55,414.21 430.83,422.29 431.11,430.84 431.46,433.85 432.30,435.00" fill="#15a02a"/>
<polygon points="427.00,458.10 427.78,456.79 428.17,453.72 428.43,444.96 428.69,437.95 429.02,436.20 430.25,436.20 430.58,438.39 430.84,446.06 431.10,454.16 431.42,457.00 432.20,458.10" fill="#d61a1a"/>
<polygon points="427.00,481.20 427.78,479.88 428.17,476.80 428.43,468.00 428.69,460.96 429.02,459.20 430.25,459.20 430.58,461.40 430.84,469.10 431.10,477.24 431.42,480.10 432.20,481.20" fill="#1414c0"/>
<rect x="327.90000000000003" y="481.5" width="189.09999999999997" height="8.8" fill="#dfe1dd"/>
<rect x="339.9" y="481.8" width="0.6" height="1.6" fill="#6cbc5c"/><rect x="354.7" y="481.8" width="1.4" height="1.6" fill="#6cbc5c"/><rect x="431.4" y="481.8" width="1.2" height="1.6" fill="#6cbc5c"/><rect x="444.8" y="481.8" width="0.8" height="1.6" fill="#6cbc5c"/><rect x="455.4" y="481.8" width="1.5" height="1.6" fill="#6cbc5c"/><rect x="463.3" y="481.8" width="0.7" height="1.6" fill="#6cbc5c"/><rect x="490.5" y="481.8" width="1.3" height="1.6" fill="#6cbc5c"/><rect x="328.5" y="481.8" width="2.2" height="1.9" fill="#6cbc5c"/><rect x="331.1" y="481.8" width="2.2" height="1.9" fill="#6cbc5c"/><rect x="334.0" y="481.8" width="3.1" height="1.9" fill="#5a82b0"/><rect x="337.5" y="481.8" width="1.7" height="1.9" fill="#5a82b0"/><rect x="339.4" y="481.8" width="0.6" height="1.9" fill="#5a82b0"/><rect x="341.1" y="481.8" width="3.4" height="1.9" fill="#6cbc5c"/><rect x="344.9" y="481.8" width="2.1" height="1.9" fill="#5a82b0"/><rect x="355.5" y="481.8" width="2.1" height="1.9" fill="#6cbc5c"/><rect x="357.9" y="481.8" width="2.4" height="1.9" fill="#6cbc5c"/><rect x="364.3" y="481.8" width="1.0" height="1.9" fill="#6cbc5c"/><rect x="365.9" y="481.8" width="3.2" height="1.9" fill="#5a82b0"/><rect x="369.4" y="481.8" width="1.8" height="1.9" fill="#6cbc5c"/><rect x="371.5" y="481.8" width="2.3" height="1.9" fill="#6cbc5c"/><rect x="374.2" y="481.8" width="2.8" height="1.9" fill="#6cbc5c"/><rect x="379.5" y="481.8" width="1.4" height="1.9" fill="#6cbc5c"/><rect x="381.3" y="481.8" width="1.7" height="1.9" fill="#5a82b0"/><rect x="384.3" y="481.8" width="1.4" height="1.9" fill="#6cbc5c"/><rect x="390.1" y="481.8" width="2.6" height="1.9" fill="#5a82b0"/><rect x="393.3" y="481.8" width="1.8" height="1.9" fill="#5a82b0"/><rect x="395.7" y="481.8" width="1.8" height="1.9" fill="#6cbc5c"/><rect x="397.7" y="481.8" width="1.0" height="1.9" fill="#6cbc5c"/><rect x="399.2" y="481.8" width="0.8" height="1.9" fill="#6cbc5c"/><rect x="400.0" y="481.8" width="1.9" height="1.9" fill="#6cbc5c"/><rect x="402.6" y="481.8" width="2.9" height="1.9" fill="#5a82b0"/><rect x="408.3" y="481.8" width="1.4" height="1.9" fill="#5a82b0"/><rect x="410.3" y="481.8" width="2.7" height="1.9" fill="#5a82b0"/><rect x="413.3" y="481.8" width="1.6" height="1.9" fill="#5a82b0"/><rect x="415.3" y="481.8" width="1.7" height="1.9" fill="#6cbc5c"/><rect x="417.7" y="481.8" width="1.5" height="1.9" fill="#6cbc5c"/><rect x="419.7" y="481.8" width="1.2" height="1.9" fill="#6cbc5c"/><rect x="421.3" y="481.8" width="1.7" height="1.9" fill="#5a82b0"/><rect x="423.6" y="481.8" width="1.4" height="1.9" fill="#6cbc5c"/><rect x="426.5" y="481.8" width="1.5" height="1.9" fill="#5a82b0"/><rect x="430.3" y="481.8" width="1.5" height="1.9" fill="#5a82b0"/><rect x="432.5" y="481.8" width="1.5" height="1.9" fill="#5a82b0"/><rect x="440.5" y="481.8" width="3.0" height="1.9" fill="#6cbc5c"/><rect x="444.0" y="481.8" width="3.2" height="1.9" fill="#6cbc5c"/><rect x="447.9" y="481.8" width="3.4" height="1.9" fill="#6cbc5c"/><rect x="460.2" y="481.8" width="3.5" height="1.9" fill="#5a82b0"/><rect x="464.1" y="481.8" width="1.1" height="1.9" fill="#6cbc5c"/><rect x="465.5" y="481.8" width="1.1" height="1.9" fill="#6cbc5c"/><rect x="466.8" y="481.8" width="1.8" height="1.9" fill="#6cbc5c"/><rect x="468.9" y="481.8" width="2.0" height="1.9" fill="#6cbc5c"/><rect x="471.5" y="481.8" width="1.1" height="1.9" fill="#6cbc5c"/><rect x="473.3" y="481.8" width="2.8" height="1.9" fill="#5a82b0"/><rect x="476.7" y="481.8" width="1.3" height="1.9" fill="#6cbc5c"/><rect x="480.3" y="481.8" width="1.9" height="1.9" fill="#6cbc5c"/><rect x="482.8" y="481.8" width="1.0" height="1.9" fill="#6cbc5c"/><rect x="484.3" y="481.8" width="1.4" height="1.9" fill="#5a82b0"/><rect x="488.0" y="481.8" width="2.0" height="1.9" fill="#5a82b0"/><rect x="490.3" y="481.8" width="1.5" height="1.9" fill="#6cbc5c"/><rect x="494.4" y="481.8" width="1.3" height="1.9" fill="#6cbc5c"/><rect x="496.2" y="481.8" width="1.8" height="1.9" fill="#6cbc5c"/><rect x="498.2" y="481.8" width="1.0" height="1.9" fill="#5a82b0"/><rect x="499.7" y="481.8" width="1.8" height="1.9" fill="#5a82b0"/><rect x="502.2" y="481.8" width="1.2" height="1.9" fill="#6cbc5c"/><rect x="504.1" y="481.8" width="2.9" height="1.9" fill="#5a82b0"/><rect x="507.5" y="481.8" width="1.2" height="1.9" fill="#6cbc5c"/><rect x="509.0" y="481.8" width="1.0" height="1.9" fill="#6cbc5c"/><rect x="513.3" y="481.8" width="1.2" height="1.9" fill="#6cbc5c"/><rect x="514.7" y="481.8" width="1.3" height="1.9" fill="#5a82b0"/><rect x="342.7" y="484.4" width="0.8" height="1.6" fill="#3c8c3c"/><rect x="353.0" y="484.4" width="0.7" height="1.6" fill="#3c8c3c"/><rect x="364.2" y="484.4" width="1.2" height="1.6" fill="#3c8c3c"/><rect x="388.4" y="484.4" width="0.6" height="1.6" fill="#3c8c3c"/><rect x="395.0" y="484.4" width="1.0" height="1.6" fill="#3c8c3c"/><rect x="418.5" y="484.4" width="1.1" height="1.6" fill="#3c8c3c"/><rect x="434.8" y="484.4" width="0.6" height="1.6" fill="#3c8c3c"/><rect x="445.8" y="484.4" width="1.5" height="1.6" fill="#3c8c3c"/><rect x="457.5" y="484.4" width="1.2" height="1.6" fill="#3c8c3c"/><rect x="462.1" y="484.4" width="1.4" height="1.6" fill="#3c8c3c"/><rect x="502.5" y="484.4" width="1.3" height="1.6" fill="#3c8c3c"/><rect x="504.7" y="484.4" width="1.0" height="1.6" fill="#3c8c3c"/><rect x="332.0" y="484.4" width="3.1" height="1.9" fill="#4c9c3e"/><rect x="335.7" y="484.4" width="3.3" height="1.9" fill="#237023"/><rect x="339.2" y="484.4" width="0.8" height="1.9" fill="#237023"/><rect x="341.2" y="484.4" width="1.4" height="1.9" fill="#4c9c3e"/><rect x="342.9" y="484.4" width="3.5" height="1.9" fill="#237023"/><rect x="355.5" y="484.4" width="1.0" height="1.9" fill="#237023"/><rect x="357.0" y="484.4" width="1.0" height="1.9" fill="#237023"/><rect x="358.4" y="484.4" width="2.6" height="1.9" fill="#237023"/><rect x="361.3" y="484.4" width="1.9" height="1.9" fill="#237023"/><rect x="363.6" y="484.4" width="2.3" height="1.9" fill="#4c9c3e"/><rect x="366.3" y="484.4" width="3.5" height="1.9" fill="#4c9c3e"/><rect x="370.4" y="484.4" width="3.0" height="1.9" fill="#237023"/><rect x="374.0" y="484.4" width="1.7" height="1.9" fill="#237023"/><rect x="376.1" y="484.4" width="1.2" height="1.9" fill="#237023"/><rect x="377.7" y="484.4" width="2.8" height="1.9" fill="#237023"/><rect x="384.1" y="484.4" width="3.0" height="1.9" fill="#237023"/><rect x="387.5" y="484.4" width="3.4" height="1.9" fill="#237023"/><rect x="391.1" y="484.4" width="1.9" height="1.9" fill="#4c9c3e"/><rect x="393.6" y="484.4" width="3.4" height="1.9" fill="#237023"/><rect x="397.4" y="484.4" width="2.4" height="1.9" fill="#237023"/><rect x="400.0" y="484.4" width="2.8" height="1.9" fill="#4c9c3e"/><rect x="403.4" y="484.4" width="1.8" height="1.9" fill="#237023"/><rect x="405.4" y="484.4" width="0.6" height="1.9" fill="#4c9c3e"/><rect x="411.8" y="484.4" width="2.9" height="1.9" fill="#237023"/><rect x="415.3" y="484.4" width="2.3" height="1.9" fill="#237023"/><rect x="419.7" y="484.4" width="1.1" height="1.9" fill="#4c9c3e"/><rect x="421.1" y="484.4" width="2.8" height="1.9" fill="#237023"/><rect x="424.2" y="484.4" width="0.8" height="1.9" fill="#237023"/><rect x="426.1" y="484.4" width="1.7" height="1.9" fill="#237023"/><rect x="430.1" y="484.4" width="2.3" height="1.9" fill="#237023"/><rect x="432.9" y="484.4" width="1.1" height="1.9" fill="#4c9c3e"/><rect x="440.2" y="484.4" width="1.5" height="1.9" fill="#4c9c3e"/><rect x="442.0" y="484.4" width="1.7" height="1.9" fill="#4c9c3e"/><rect x="444.1" y="484.4" width="1.5" height="1.9" fill="#237023"/><rect x="445.9" y="484.4" width="3.0" height="1.9" fill="#237023"/><rect x="460.2" y="484.4" width="2.1" height="1.9" fill="#237023"/><rect x="462.5" y="484.4" width="1.7" height="1.9" fill="#237023"/><rect x="467.6" y="484.4" width="1.6" height="1.9" fill="#237023"/><rect x="469.9" y="484.4" width="1.3" height="1.9" fill="#237023"/><rect x="471.9" y="484.4" width="3.5" height="1.9" fill="#4c9c3e"/><rect x="480.6" y="484.4" width="2.5" height="1.9" fill="#4c9c3e"/><rect x="483.6" y="484.4" width="1.8" height="1.9" fill="#237023"/><rect x="488.2" y="484.4" width="2.8" height="1.9" fill="#237023"/><rect x="491.6" y="484.4" width="2.7" height="1.9" fill="#237023"/><rect x="494.7" y="484.4" width="3.1" height="1.9" fill="#237023"/><rect x="498.3" y="484.4" width="2.0" height="1.9" fill="#237023"/><rect x="500.7" y="484.4" width="2.3" height="1.9" fill="#4c9c3e"/><rect x="503.7" y="484.4" width="1.8" height="1.9" fill="#237023"/><rect x="506.0" y="484.4" width="3.0" height="1.9" fill="#4c9c3e"/><rect x="509.3" y="484.4" width="0.7" height="1.9" fill="#237023"/><rect x="513.5" y="484.4" width="1.4" height="1.9" fill="#237023"/><rect x="515.3" y="484.4" width="0.7" height="1.9" fill="#237023"/><rect x="376.3" y="486.6" width="1.0" height="1.6" fill="#3c8c3c"/><rect x="385.5" y="486.6" width="1.0" height="1.6" fill="#3c8c3c"/><rect x="462.6" y="486.6" width="1.6" height="1.6" fill="#3c8c3c"/><rect x="328.1" y="486.6" width="1.5" height="1.9" fill="#237023"/><rect x="330.3" y="486.6" width="2.1" height="1.9" fill="#237023"/><rect x="332.7" y="486.6" width="2.2" height="1.9" fill="#237023"/><rect x="335.2" y="486.6" width="1.4" height="1.9" fill="#4c9c3e"/><rect x="337.3" y="486.6" width="2.7" height="1.9" fill="#237023"/><rect x="341.1" y="486.6" width="2.0" height="1.9" fill="#4c9c3e"/><rect x="343.4" y="486.6" width="2.3" height="1.9" fill="#237023"/><rect x="346.3" y="486.6" width="0.7" height="1.9" fill="#4c9c3e"/><rect x="355.5" y="486.6" width="3.0" height="1.9" fill="#237023"/><rect x="358.8" y="486.6" width="3.4" height="1.9" fill="#4c9c3e"/><rect x="362.5" y="486.6" width="3.1" height="1.9" fill="#237023"/><rect x="365.9" y="486.6" width="2.9" height="1.9" fill="#4c9c3e"/><rect x="369.1" y="486.6" width="2.1" height="1.9" fill="#237023"/><rect x="371.4" y="486.6" width="1.3" height="1.9" fill="#237023"/><rect x="372.9" y="486.6" width="2.2" height="1.9" fill="#237023"/><rect x="375.6" y="486.6" width="2.7" height="1.9" fill="#4c9c3e"/><rect x="378.5" y="486.6" width="3.1" height="1.9" fill="#237023"/><rect x="382.1" y="486.6" width="0.9" height="1.9" fill="#4c9c3e"/><rect x="393.2" y="486.6" width="3.5" height="1.9" fill="#237023"/><rect x="397.1" y="486.6" width="2.4" height="1.9" fill="#237023"/><rect x="400.1" y="486.6" width="1.9" height="1.9" fill="#237023"/><rect x="402.6" y="486.6" width="2.5" height="1.9" fill="#237023"/><rect x="405.5" y="486.6" width="0.5" height="1.9" fill="#237023"/><rect x="408.3" y="486.6" width="2.1" height="1.9" fill="#237023"/><rect x="414.5" y="486.6" width="2.7" height="1.9" fill="#237023"/><rect x="417.8" y="486.6" width="1.2" height="1.9" fill="#237023"/><rect x="419.4" y="486.6" width="1.6" height="1.9" fill="#237023"/><rect x="421.5" y="486.6" width="1.8" height="1.9" fill="#4c9c3e"/><rect x="430.4" y="486.6" width="2.8" height="1.9" fill="#4c9c3e"/><rect x="440.6" y="486.6" width="1.4" height="1.9" fill="#4c9c3e"/><rect x="442.6" y="486.6" width="1.8" height="1.9" fill="#237023"/><rect x="444.9" y="486.6" width="1.1" height="1.9" fill="#237023"/><rect x="446.6" y="486.6" width="1.2" height="1.9" fill="#237023"/><rect x="448.2" y="486.6" width="2.8" height="1.9" fill="#237023"/><rect x="460.2" y="486.6" width="1.1" height="1.9" fill="#237023"/><rect x="461.6" y="486.6" width="1.3" height="1.9" fill="#237023"/><rect x="463.2" y="486.6" width="3.5" height="1.9" fill="#237023"/><rect x="471.0" y="486.6" width="1.7" height="1.9" fill="#237023"/><rect x="473.2" y="486.6" width="3.1" height="1.9" fill="#237023"/><rect x="477.0" y="486.6" width="1.0" height="1.9" fill="#237023"/><rect x="480.0" y="486.6" width="3.1" height="1.9" fill="#237023"/><rect x="483.7" y="486.6" width="2.3" height="1.9" fill="#237023"/><rect x="488.4" y="486.6" width="1.6" height="1.9" fill="#237023"/><rect x="490.6" y="486.6" width="3.3" height="1.9" fill="#237023"/><rect x="494.5" y="486.6" width="2.9" height="1.9" fill="#237023"/><rect x="498.0" y="486.6" width="1.4" height="1.9" fill="#237023"/><rect x="499.9" y="486.6" width="1.8" height="1.9" fill="#237023"/><rect x="502.3" y="486.6" width="2.3" height="1.9" fill="#237023"/><rect x="504.9" y="486.6" width="2.8" height="1.9" fill="#237023"/><rect x="508.0" y="486.6" width="2.0" height="1.9" fill="#237023"/><rect x="513.3" y="486.6" width="1.3" height="1.9" fill="#237023"/><rect x="515.2" y="486.6" width="0.8" height="1.9" fill="#237023"/><rect x="428.7" y="488.7" width="1.6" height="1.6" fill="#3c8c3c"/><rect x="437.2" y="488.7" width="0.7" height="1.6" fill="#3c8c3c"/><rect x="328.3" y="488.7" width="1.7" height="1.9" fill="#237023"/><rect x="330.3" y="488.7" width="1.7" height="1.9" fill="#237023"/><rect x="334.5" y="488.7" width="1.1" height="1.9" fill="#237023"/><rect x="336.1" y="488.7" width="2.1" height="1.9" fill="#237023"/><rect x="338.5" y="488.7" width="1.5" height="1.9" fill="#237023"/><rect x="341.4" y="488.7" width="1.2" height="1.9" fill="#4c9c3e"/><rect x="342.9" y="488.7" width="2.9" height="1.9" fill="#237023"/><rect x="346.1" y="488.7" width="0.9" height="1.9" fill="#4c9c3e"/><rect x="355.3" y="488.7" width="3.6" height="1.9" fill="#237023"/><rect x="359.3" y="488.7" width="1.2" height="1.9" fill="#237023"/><rect x="360.9" y="488.7" width="2.3" height="1.9" fill="#237023"/><rect x="363.5" y="488.7" width="1.2" height="1.9" fill="#4c9c3e"/><rect x="365.1" y="488.7" width="2.9" height="1.9" fill="#4c9c3e"/><rect x="368.5" y="488.7" width="2.8" height="1.9" fill="#237023"/><rect x="371.5" y="488.7" width="1.5" height="1.9" fill="#237023"/><rect x="373.4" y="488.7" width="3.4" height="1.9" fill="#237023"/><rect x="381.1" y="488.7" width="1.7" height="1.9" fill="#4c9c3e"/><rect x="384.2" y="488.7" width="2.7" height="1.9" fill="#237023"/><rect x="387.4" y="488.7" width="1.0" height="1.9" fill="#237023"/><rect x="388.6" y="488.7" width="2.1" height="1.9" fill="#4c9c3e"/><rect x="391.0" y="488.7" width="1.7" height="1.9" fill="#237023"/><rect x="393.1" y="488.7" width="2.5" height="1.9" fill="#237023"/><rect x="398.6" y="488.7" width="1.4" height="1.9" fill="#237023"/><rect x="400.3" y="488.7" width="3.4" height="1.9" fill="#237023"/><rect x="404.1" y="488.7" width="1.9" height="1.9" fill="#237023"/><rect x="408.4" y="488.7" width="2.5" height="1.9" fill="#237023"/><rect x="411.2" y="488.7" width="3.4" height="1.9" fill="#237023"/><rect x="414.8" y="488.7" width="1.6" height="1.9" fill="#237023"/><rect x="417.0" y="488.7" width="1.1" height="1.9" fill="#237023"/><rect x="418.6" y="488.7" width="3.0" height="1.9" fill="#237023"/><rect x="422.2" y="488.7" width="2.8" height="1.9" fill="#237023"/><rect x="426.0" y="488.7" width="2.0" height="1.9" fill="#237023"/><rect x="430.4" y="488.7" width="1.8" height="1.9" fill="#237023"/><rect x="432.9" y="488.7" width="1.1" height="1.9" fill="#237023"/><rect x="440.3" y="488.7" width="2.0" height="1.9" fill="#237023"/><rect x="442.9" y="488.7" width="2.8" height="1.9" fill="#237023"/><rect x="446.4" y="488.7" width="2.4" height="1.9" fill="#237023"/><rect x="449.2" y="488.7" width="2.7" height="1.9" fill="#237023"/><rect x="460.5" y="488.7" width="1.2" height="1.9" fill="#237023"/><rect x="462.2" y="488.7" width="1.4" height="1.9" fill="#237023"/><rect x="464.2" y="488.7" width="1.9" height="1.9" fill="#4c9c3e"/><rect x="466.5" y="488.7" width="2.0" height="1.9" fill="#4c9c3e"/><rect x="468.8" y="488.7" width="2.2" height="1.9" fill="#237023"/><rect x="471.3" y="488.7" width="2.7" height="1.9" fill="#4c9c3e"/><rect x="480.6" y="488.7" width="3.4" height="1.9" fill="#237023"/><rect x="484.5" y="488.7" width="1.5" height="1.9" fill="#237023"/><rect x="488.3" y="488.7" width="3.2" height="1.9" fill="#237023"/><rect x="492.2" y="488.7" width="2.9" height="1.9" fill="#237023"/><rect x="498.8" y="488.7" width="1.7" height="1.9" fill="#237023"/><rect x="501.1" y="488.7" width="1.7" height="1.9" fill="#237023"/><rect x="503.4" y="488.7" width="3.3" height="1.9" fill="#237023"/><rect x="507.2" y="488.7" width="2.8" height="1.9" fill="#237023"/><rect x="513.4" y="488.7" width="2.0" height="1.9" fill="#237023"/>
<rect x="313.30" y="482.40" width="12.00" height="1.00" fill="#5a7fa0" opacity="0.55"/>
<rect x="311.30" y="484.60" width="14.00" height="1.00" fill="#6a9a6a" opacity="0.55"/>
<rect x="314.30" y="486.80" width="11.00" height="1.00" fill="#888" opacity="0.55"/>
<rect x="316.30" y="489.00" width="9.00" height="1.00" fill="#5a7fa0" opacity="0.55"/>
<text x="368.0" y="380.6" font-size="3.2" fill="#666" font-weight="bold" text-anchor="middle">120,850,000</text>
<text x="408.0" y="380.6" font-size="3.2" fill="#666" font-weight="bold" text-anchor="middle">120,860,000</text>
<text x="450.0" y="380.6" font-size="3.2" fill="#666" font-weight="bold" text-anchor="middle">120,870,000</text>
<text x="490.0" y="380.6" font-size="3.2" fill="#666" font-weight="bold" text-anchor="middle">120,880,000</text>
<line x1="400.80" y1="375.50" x2="433.00" y2="375.50" stroke="#888" stroke-width="0.6"/>
<line x1="400.80" y1="374.30" x2="400.80" y2="376.70" stroke="#888" stroke-width="0.6"/>
<line x1="433.00" y1="374.30" x2="433.00" y2="376.70" stroke="#888" stroke-width="0.6"/>
<text x="399.3" y="376.5" font-size="3.2" fill="#555" font-weight="bold" text-anchor="end">10 kb</text>
<text x="435.0" y="376.5" font-size="3.2" fill="#555" font-weight="bold">mm9</text>
<text x="325.0" y="376.0" font-size="2.9" fill="#555" font-weight="bold" text-anchor="end">Scale</text>
<text x="325.0" y="379.8" font-size="2.9" fill="#555" font-weight="bold" text-anchor="end">chr2:</text>
<text x="325.0" y="383.6" font-size="2.9" fill="#555" font-weight="bold" text-anchor="end">mEpb4.2</text>
<line x1="330.00" y1="381.80" x2="348.00" y2="381.80" stroke="#333" stroke-width="0.6" stroke-dasharray="0.8 0.8"/>
<rect x="329.50" y="380.60" width="2.20" height="2.40" fill="#111"/>
<rect x="346.00" y="380.60" width="2.20" height="2.40" fill="#111"/>
<line x1="355.00" y1="386.30" x2="432.00" y2="386.30" stroke="#334" stroke-width="0.6" stroke-dasharray="0.8 0.8"/>
<rect x="355.00" y="385.20" width="3.50" height="2.20" fill="#223"/>
<rect x="367.00" y="385.30" width="1.20" height="2.00" fill="#223"/>
<rect x="380.00" y="385.30" width="1.20" height="2.00" fill="#223"/>
<rect x="388.00" y="385.30" width="1.20" height="2.00" fill="#223"/>
<rect x="392.00" y="385.30" width="1.20" height="2.00" fill="#223"/>
<rect x="396.00" y="385.30" width="1.20" height="2.00" fill="#223"/>
<rect x="414.00" y="385.30" width="1.20" height="2.00" fill="#223"/>
<rect x="418.00" y="385.30" width="1.20" height="2.00" fill="#223"/>
<text x="353.5" y="387.2" font-size="2.8" fill="#445" font-weight="bold" text-anchor="end">Epb4.2</text>
<line x1="465.50" y1="383.40" x2="520.00" y2="383.40" stroke="#35358a" stroke-width="1.7"/>
<rect x="470.00" y="382.10" width="3.00" height="2.60" fill="#2a2a7a"/>
<rect x="484.00" y="382.10" width="3.00" height="2.60" fill="#2a2a7a"/>
<rect x="500.00" y="382.10" width="3.00" height="2.60" fill="#2a2a7a"/>
<text x="466.0" y="384.4" font-size="2.8" fill="#555" font-weight="bold" text-anchor="end">Tgm5</text>
<line x1="428.50" y1="393.60" x2="355.50" y2="393.60" stroke="#5a7fbc" stroke-width="1.5"/>
<circle cx="428.5" cy="393.6" r="2.1" fill="#5a7fbc"/>
<polygon points="354.7,393.6 360.0,391.4 358.8,393.6 360.0,395.8" fill="#5a7fbc"/>
<text x="434.75" y="397.00" font-size="9.93" fill="#5b6f96" font-style="italic" stroke="#5b6f96" stroke-width="0.25" textLength="26.17" lengthAdjust="spacingAndGlyphs">Epb4.2</text>
<text x="0.01" y="511.65" font-size="12.2" font-weight="bold" fill="#000">F</text>
<line x1="61.00" y1="518.00" x2="61.00" y2="611.70" stroke="#d4d4d4" stroke-width="0.8"/>
<text x="28.89" y="530.80" font-size="9.86" fill="#161616" stroke="#161616" stroke-width="0.3" textLength="16.23" lengthAdjust="spacingAndGlyphs">IgG</text>
<text x="26.36" y="555.00" font-size="9.52" fill="#62a050" stroke="#62a050" stroke-width="0.3" textLength="20.55" lengthAdjust="spacingAndGlyphs">Ldb1</text>
<text x="24.24" y="577.90" font-size="9.14" fill="#bd383e" stroke="#bd383e" stroke-width="0.3" textLength="25.07" lengthAdjust="spacingAndGlyphs">Gata1</text>
<text x="28.01" y="604.50" font-size="9.93" fill="#2c3391" stroke="#2c3391" stroke-width="0.3" textLength="17.21" lengthAdjust="spacingAndGlyphs">Tal1</text>
<text x="59.5" y="543.9" font-size="2.8" fill="#777" font-weight="bold" text-anchor="end">1.517</text>
<line x1="59.80" y1="541.50" x2="61.00" y2="541.50" stroke="#aaa" stroke-width="0.5"/>
<text x="58.0" y="540.7" font-size="2.6" fill="#888" font-weight="bold" text-anchor="end">0</text>
<text x="59.5" y="567.4" font-size="2.8" fill="#6a9a5a" font-weight="bold" text-anchor="end">1.5</text>
<line x1="59.80" y1="565.00" x2="61.00" y2="565.00" stroke="#aaa" stroke-width="0.5"/>
<text x="58.0" y="564.2" font-size="2.6" fill="#888" font-weight="bold" text-anchor="end">0</text>
<text x="59.5" y="590.9" font-size="2.8" fill="#b06060" font-weight="bold" text-anchor="end">1.444</text>
<line x1="59.80" y1="588.50" x2="61.00" y2="588.50" stroke="#aaa" stroke-width="0.5"/>
<text x="58.0" y="587.7" font-size="2.6" fill="#888" font-weight="bold" text-anchor="end">0</text>
<text x="59.5" y="613.4" font-size="2.8" fill="#6060a0" font-weight="bold" text-anchor="end">0</text>
<line x1="59.80" y1="611.00" x2="61.00" y2="611.00" stroke="#aaa" stroke-width="0.5"/>
<text x="59.5" y="519.5" font-size="2.8" fill="#777" font-weight="bold" text-anchor="end">85 -</text>
<g fill="#1a1a1a"><rect x="64.2" y="540.3" width="1.0" height="1.4"/><rect x="66.6" y="540.7" width="1.0" height="1.0"/><rect x="72.4" y="541.0" width="1.6" height="0.7"/><rect x="76.4" y="541.1" width="1.3" height="0.6"/><rect x="82.5" y="540.6" width="1.3" height="1.1"/><rect x="86.4" y="539.3" width="1.3" height="2.4"/><rect x="136.0" y="540.7" width="1.6" height="1.0"/><rect x="139.0" y="540.9" width="1.3" height="0.8"/><rect x="145.5" y="540.6" width="1.6" height="1.1"/><rect x="151.1" y="541.0" width="1.0" height="0.7"/><rect x="168.7" y="539.8" width="1.3" height="1.9"/><rect x="181.5" y="540.3" width="1.3" height="1.4"/><rect x="188.8" y="540.3" width="1.3" height="1.4"/><rect x="209.0" y="539.6" width="1.0" height="2.1"/><rect x="233.7" y="541.1" width="1.6" height="0.6"/></g>
<line x1="62.0" y1="541.4" x2="252" y2="541.4" stroke="#1a1a1a" stroke-width="0.6" stroke-dasharray="1 2.2" opacity="0.45"/>
<g fill="#15a02a"><rect x="63.0" y="564.8" width="1.6" height="0.4"/><rect x="63.9" y="563.9" width="1.0" height="1.3"/><rect x="65.8" y="563.9" width="0.8" height="1.3"/><rect x="67.7" y="564.4" width="1.6" height="0.8"/><rect x="71.0" y="564.0" width="1.6" height="1.2"/><rect x="77.0" y="564.7" width="1.0" height="0.5"/><rect x="80.4" y="564.1" width="1.6" height="1.1"/><rect x="86.3" y="564.6" width="1.3" height="0.6"/><rect x="97.5" y="564.8" width="1.3" height="0.4"/><rect x="99.3" y="564.6" width="1.3" height="0.6"/><rect x="107.2" y="563.9" width="0.8" height="1.3"/><rect x="111.5" y="564.3" width="1.3" height="0.9"/><rect x="124.8" y="564.4" width="1.6" height="0.8"/><rect x="125.8" y="564.8" width="0.8" height="0.4"/><rect x="155.2" y="564.5" width="1.3" height="0.7"/><rect x="166.1" y="564.7" width="1.6" height="0.5"/><rect x="171.5" y="564.8" width="1.6" height="0.4"/><rect x="180.4" y="564.3" width="1.3" height="0.9"/><rect x="184.5" y="563.9" width="1.6" height="1.3"/><rect x="196.5" y="563.9" width="1.3" height="1.3"/><rect x="197.7" y="564.4" width="1.3" height="0.8"/><rect x="201.2" y="564.8" width="1.3" height="0.4"/><rect x="206.0" y="564.5" width="1.6" height="0.7"/><rect x="214.1" y="563.9" width="0.8" height="1.3"/><rect x="229.8" y="563.9" width="1.3" height="1.3"/><rect x="243.6" y="564.1" width="0.8" height="1.1"/></g>
<line x1="62.0" y1="564.9" x2="252" y2="564.9" stroke="#15a02a" stroke-width="0.6" stroke-dasharray="1 2.2" opacity="0.45"/>
<g fill="#d61a1a"><rect x="63.0" y="588.2" width="1.3" height="0.5"/><rect x="64.9" y="588.3" width="0.8" height="0.4"/><rect x="71.5" y="587.6" width="1.0" height="1.1"/><rect x="75.1" y="588.2" width="1.0" height="0.5"/><rect x="82.4" y="588.0" width="1.6" height="0.7"/><rect x="88.7" y="588.1" width="1.0" height="0.6"/><rect x="93.8" y="588.2" width="1.0" height="0.5"/><rect x="95.6" y="588.3" width="1.3" height="0.4"/><rect x="97.8" y="588.3" width="0.8" height="0.4"/><rect x="104.9" y="588.1" width="1.3" height="0.6"/><rect x="110.5" y="588.3" width="0.8" height="0.4"/><rect x="111.4" y="587.3" width="1.0" height="1.4"/><rect x="117.3" y="588.1" width="1.0" height="0.6"/><rect x="123.8" y="587.7" width="1.3" height="1.0"/><rect x="128.5" y="587.2" width="1.0" height="1.5"/><rect x="131.7" y="588.1" width="1.0" height="0.6"/><rect x="137.0" y="587.2" width="1.0" height="1.5"/><rect x="141.3" y="587.9" width="1.0" height="0.8"/><rect x="142.9" y="588.2" width="0.8" height="0.5"/><rect x="145.2" y="588.1" width="1.3" height="0.6"/><rect x="150.7" y="588.3" width="1.0" height="0.4"/><rect x="154.8" y="588.2" width="1.0" height="0.5"/><rect x="165.5" y="588.1" width="1.6" height="0.6"/><rect x="169.6" y="587.7" width="1.0" height="1.0"/><rect x="171.9" y="587.0" width="0.8" height="1.7"/><rect x="173.1" y="588.1" width="1.6" height="0.6"/><rect x="178.4" y="587.7" width="1.0" height="1.0"/><rect x="188.6" y="587.9" width="1.3" height="0.8"/><rect x="189.7" y="587.2" width="1.6" height="1.5"/><rect x="198.8" y="587.8" width="0.8" height="0.9"/><rect x="208.0" y="588.1" width="1.6" height="0.6"/><rect x="210.4" y="587.8" width="1.6" height="0.9"/><rect x="217.4" y="588.0" width="1.6" height="0.7"/><rect x="220.6" y="588.3" width="1.0" height="0.4"/><rect x="224.1" y="587.5" width="1.3" height="1.2"/><rect x="230.1" y="588.2" width="1.6" height="0.5"/><rect x="234.5" y="588.0" width="0.8" height="0.7"/><rect x="247.6" y="588.1" width="0.8" height="0.6"/></g>
<line x1="62.0" y1="588.4" x2="252" y2="588.4" stroke="#d61a1a" stroke-width="0.6" stroke-dasharray="1 2.2" opacity="0.45"/>
<g fill="#1414c0"><rect x="85.2" y="610.2" width="1.3" height="1.0"/><rect x="102.6" y="610.6" width="1.3" height="0.6"/><rect x="109.8" y="610.5" width="1.6" height="0.7"/><rect x="150.9" y="610.2" width="0.8" height="1.0"/><rect x="166.0" y="610.2" width="1.0" height="1.0"/><rect x="188.3" y="610.8" width="1.0" height="0.4"/><rect x="209.0" y="610.3" width="1.0" height="0.9"/><rect x="241.3" y="610.8" width="1.6" height="0.4"/></g>
<line x1="62.0" y1="610.9" x2="252" y2="610.9" stroke="#1414c0" stroke-width="0.6" stroke-dasharray="1 2.2" opacity="0.45"/>
<polygon points="79.90,565.20 80.70,562.73 81.30,560.70 81.80,561.15 82.30,563.18 83.10,565.20" fill="#15a02a"/>
<polygon points="97.25,565.20 98.38,563.28 99.30,561.70 99.80,562.05 100.62,563.62 101.75,565.20" fill="#15a02a"/>
<polygon points="172.90,565.20 173.55,562.18 174.00,559.70 174.50,560.25 174.85,562.73 175.50,565.20" fill="#15a02a"/>
<polygon points="216.50,565.20 217.25,564.54 217.80,564.00 218.30,564.12 218.75,564.66 219.50,565.20" fill="#15a02a"/>
<polygon points="230.50,565.20 231.25,564.54 231.80,564.00 232.30,564.12 232.75,564.66 233.50,565.20" fill="#15a02a"/>
<polygon points="139.50,565.20 140.50,563.55 141.30,562.20 141.80,562.50 142.50,563.85 143.50,565.20" fill="#15a02a"/>
<polygon points="63.50,588.70 64.25,587.88 64.80,587.20 65.30,587.35 65.75,588.03 66.50,588.70" fill="#d61a1a"/>
<polygon points="98.00,588.70 99.00,587.60 99.80,586.70 100.30,586.90 101.00,587.80 102.00,588.70" fill="#d61a1a"/>
<polygon points="134.50,588.70 135.25,587.33 135.80,586.20 136.30,586.45 136.75,587.58 137.50,588.70" fill="#d61a1a"/>
<polygon points="143.50,588.70 144.25,587.88 144.80,587.20 145.30,587.35 145.75,588.03 146.50,588.70" fill="#d61a1a"/>
<polygon points="150.50,588.70 151.25,587.88 151.80,587.20 152.30,587.35 152.75,588.03 153.50,588.70" fill="#d61a1a"/>
<polygon points="242.50,588.70 243.25,588.04 243.80,587.50 244.30,587.62 244.75,588.16 245.50,588.70" fill="#d61a1a"/>
<polygon points="97.50,588.70 98.50,587.05 99.30,585.70 99.80,586.00 100.50,587.35 101.50,588.70" fill="#d61a1a"/>
<polygon points="172.50,588.70 173.25,587.60 173.80,586.70 174.30,586.90 174.75,587.80 175.50,588.70" fill="#d61a1a"/>
<polygon points="84.50,588.70 85.25,587.88 85.80,587.20 86.30,587.35 86.75,588.03 87.50,588.70" fill="#d61a1a"/>
<polygon points="223.50,588.70 224.25,587.82 224.80,587.10 225.30,587.26 225.75,587.98 226.50,588.70" fill="#d61a1a"/>
<polygon points="236.50,588.70 237.25,587.82 237.80,587.10 238.30,587.26 238.75,587.98 239.50,588.70" fill="#d61a1a"/>
<polygon points="80.25,611.20 80.88,608.45 81.30,606.20 81.80,606.70 82.12,608.95 82.75,611.20" fill="#1414c0"/>
<polygon points="96.50,611.20 97.25,609.99 97.80,609.00 98.30,609.22 98.75,610.21 99.50,611.20" fill="#1414c0"/>
<polygon points="136.50,611.20 137.25,609.55 137.80,608.20 138.30,608.50 138.75,609.85 139.50,611.20" fill="#1414c0"/>
<polygon points="107.00,541.70 107.50,540.49 107.80,539.50 108.30,539.72 108.50,540.71 109.00,541.70" fill="#1a1a1a"/>
<polygon points="123.00,541.70 123.50,540.82 123.80,540.10 124.30,540.26 124.50,540.98 125.00,541.70" fill="#1a1a1a"/>
<polygon points="133.00,541.70 133.50,541.04 133.80,540.50 134.30,540.62 134.50,541.16 135.00,541.70" fill="#1a1a1a"/>
<polygon points="176.00,541.70 176.50,540.71 176.80,539.90 177.30,540.08 177.50,540.89 178.00,541.70" fill="#1a1a1a"/>
<polygon points="194.00,541.70 194.50,540.49 194.80,539.50 195.30,539.72 195.50,540.71 196.00,541.70" fill="#1a1a1a"/>
<polygon points="244.00,541.70 244.50,540.60 244.80,539.70 245.30,539.90 245.50,540.80 246.00,541.70" fill="#1a1a1a"/>
<polygon points="159.00,541.70 159.50,540.88 159.80,540.20 160.30,540.35 160.50,541.03 161.00,541.70" fill="#1a1a1a"/>
<polygon points="74.00,541.70 74.50,540.88 74.80,540.20 75.30,540.35 75.50,541.03 76.00,541.70" fill="#1a1a1a"/>
<polygon points="138.20,565.20 138.86,563.81 139.19,560.56 139.41,551.28 139.63,543.86 139.91,542.00 140.95,542.00 141.22,544.32 141.44,552.44 141.66,561.02 141.94,564.04 142.60,565.20" fill="#15a02a"/>
<polygon points="138.00,588.70 138.72,587.31 139.08,584.08 139.32,574.84 139.56,567.45 139.86,565.60 141.00,565.60 141.30,567.91 141.54,576.00 141.78,584.54 142.08,587.55 142.80,588.70" fill="#d61a1a"/>
<polygon points="137.80,611.20 138.58,609.86 139.08,606.72 139.32,597.76 139.56,590.59 139.86,588.80 141.00,588.80 141.30,591.04 141.54,598.88 141.78,607.17 142.22,610.08 143.00,611.20" fill="#1414c0"/>
<rect x="61.6" y="611.5" width="189.4" height="9.8" fill="#dfe1dd"/>
<rect x="81.2" y="611.8" width="1.1" height="1.6" fill="#6cbc5c"/><rect x="91.6" y="611.8" width="1.4" height="1.6" fill="#6cbc5c"/><rect x="108.0" y="611.8" width="1.3" height="1.6" fill="#6cbc5c"/><rect x="121.5" y="611.8" width="1.1" height="1.6" fill="#6cbc5c"/><rect x="160.9" y="611.8" width="1.1" height="1.6" fill="#6cbc5c"/><rect x="166.6" y="611.8" width="1.6" height="1.6" fill="#6cbc5c"/><rect x="186.4" y="611.8" width="0.9" height="1.6" fill="#6cbc5c"/><rect x="202.8" y="611.8" width="1.1" height="1.6" fill="#6cbc5c"/><rect x="225.7" y="611.8" width="0.8" height="1.6" fill="#6cbc5c"/><rect x="96.5" y="611.8" width="3.3" height="1.9" fill="#5a82b0"/><rect x="100.1" y="611.8" width="1.8" height="1.9" fill="#5a82b0"/><rect x="102.5" y="611.8" width="1.6" height="1.9" fill="#6cbc5c"/><rect x="104.5" y="611.8" width="3.5" height="1.9" fill="#6cbc5c"/><rect x="108.4" y="611.8" width="0.4" height="1.9" fill="#6cbc5c"/><rect x="116.6" y="611.8" width="3.1" height="1.9" fill="#6cbc5c"/><rect x="120.0" y="611.8" width="1.3" height="1.9" fill="#5a82b0"/><rect x="125.3" y="611.8" width="3.4" height="1.9" fill="#5a82b0"/><rect x="129.2" y="611.8" width="3.4" height="1.9" fill="#6cbc5c"/><rect x="133.2" y="611.8" width="0.8" height="1.9" fill="#6cbc5c"/><rect x="134.3" y="611.8" width="3.4" height="1.9" fill="#6cbc5c"/><rect x="138.2" y="611.8" width="1.6" height="1.9" fill="#6cbc5c"/><rect x="140.5" y="611.8" width="3.3" height="1.9" fill="#5a82b0"/><rect x="144.3" y="611.8" width="2.5" height="1.9" fill="#6cbc5c"/><rect x="147.4" y="611.8" width="2.8" height="1.9" fill="#6cbc5c"/><rect x="150.4" y="611.8" width="1.6" height="1.9" fill="#6cbc5c"/><rect x="152.4" y="611.8" width="1.4" height="1.9" fill="#6cbc5c"/><rect x="154.5" y="611.8" width="1.4" height="1.9" fill="#6cbc5c"/><rect x="156.4" y="611.8" width="3.3" height="1.9" fill="#6cbc5c"/><rect x="159.9" y="611.8" width="2.3" height="1.9" fill="#5a82b0"/><rect x="162.7" y="611.8" width="3.4" height="1.9" fill="#5a82b0"/><rect x="166.4" y="611.8" width="1.2" height="1.9" fill="#6cbc5c"/><rect x="168.2" y="611.8" width="1.5" height="1.9" fill="#5a82b0"/><rect x="170.3" y="611.8" width="1.5" height="1.9" fill="#6cbc5c"/><rect x="172.5" y="611.8" width="1.7" height="1.9" fill="#6cbc5c"/><rect x="174.4" y="611.8" width="2.4" height="1.9" fill="#6cbc5c"/><rect x="177.4" y="611.8" width="2.7" height="1.9" fill="#5a82b0"/><rect x="180.6" y="611.8" width="3.0" height="1.9" fill="#6cbc5c"/><rect x="184.1" y="611.8" width="2.4" height="1.9" fill="#6cbc5c"/><rect x="187.1" y="611.8" width="2.9" height="1.9" fill="#5a82b0"/><rect x="190.7" y="611.8" width="2.5" height="1.9" fill="#6cbc5c"/><rect x="193.8" y="611.8" width="3.0" height="1.9" fill="#6cbc5c"/><rect x="197.1" y="611.8" width="2.7" height="1.9" fill="#6cbc5c"/><rect x="206.1" y="611.8" width="3.4" height="1.9" fill="#5a82b0"/><rect x="210.1" y="611.8" width="1.5" height="1.9" fill="#5a82b0"/><rect x="215.3" y="611.8" width="2.9" height="1.9" fill="#5a82b0"/><rect x="218.7" y="611.8" width="1.7" height="1.9" fill="#6cbc5c"/><rect x="221.0" y="611.8" width="1.0" height="1.9" fill="#6cbc5c"/><rect x="225.1" y="611.8" width="2.4" height="1.9" fill="#6cbc5c"/><rect x="227.8" y="611.8" width="1.2" height="1.9" fill="#5a82b0"/><rect x="232.1" y="611.8" width="1.8" height="1.9" fill="#5a82b0"/><rect x="234.6" y="611.8" width="1.4" height="1.9" fill="#5a82b0"/><rect x="236.7" y="611.8" width="1.1" height="1.9" fill="#5a82b0"/><rect x="238.4" y="611.8" width="2.1" height="1.9" fill="#5a82b0"/><rect x="240.9" y="611.8" width="2.9" height="1.9" fill="#6cbc5c"/><rect x="244.2" y="611.8" width="1.4" height="1.9" fill="#6cbc5c"/><rect x="246.3" y="611.8" width="3.1" height="1.9" fill="#5a82b0"/><rect x="67.3" y="614.7" width="0.9" height="1.6" fill="#3c8c3c"/><rect x="131.3" y="614.7" width="1.3" height="1.6" fill="#3c8c3c"/><rect x="137.5" y="614.7" width="1.5" height="1.6" fill="#3c8c3c"/><rect x="164.0" y="614.7" width="1.3" height="1.6" fill="#3c8c3c"/><rect x="208.9" y="614.7" width="1.2" height="1.6" fill="#3c8c3c"/><rect x="237.5" y="614.7" width="0.8" height="1.6" fill="#3c8c3c"/><rect x="246.1" y="614.7" width="1.4" height="1.6" fill="#3c8c3c"/><rect x="98.7" y="614.7" width="2.8" height="1.9" fill="#4c9c3e"/><rect x="101.7" y="614.7" width="2.6" height="1.9" fill="#4c9c3e"/><rect x="104.8" y="614.7" width="2.5" height="1.9" fill="#4c9c3e"/><rect x="107.5" y="614.7" width="1.3" height="1.9" fill="#237023"/><rect x="116.5" y="614.7" width="3.2" height="1.9" fill="#237023"/><rect x="120.3" y="614.7" width="1.0" height="1.9" fill="#4c9c3e"/><rect x="123.1" y="614.7" width="1.0" height="1.9" fill="#237023"/><rect x="124.9" y="614.7" width="3.1" height="1.9" fill="#237023"/><rect x="128.6" y="614.7" width="2.1" height="1.9" fill="#237023"/><rect x="131.4" y="614.7" width="2.0" height="1.9" fill="#4c9c3e"/><rect x="134.2" y="614.7" width="2.2" height="1.9" fill="#237023"/><rect x="136.9" y="614.7" width="2.3" height="1.9" fill="#237023"/><rect x="139.5" y="614.7" width="3.1" height="1.9" fill="#237023"/><rect x="142.8" y="614.7" width="2.0" height="1.9" fill="#237023"/><rect x="145.4" y="614.7" width="2.8" height="1.9" fill="#237023"/><rect x="148.7" y="614.7" width="2.4" height="1.9" fill="#4c9c3e"/><rect x="151.4" y="614.7" width="0.6" height="1.9" fill="#237023"/><rect x="152.1" y="614.7" width="2.3" height="1.9" fill="#237023"/><rect x="154.6" y="614.7" width="1.2" height="1.9" fill="#237023"/><rect x="156.4" y="614.7" width="1.2" height="1.9" fill="#4c9c3e"/><rect x="158.1" y="614.7" width="1.4" height="1.9" fill="#4c9c3e"/><rect x="159.9" y="614.7" width="2.9" height="1.9" fill="#237023"/><rect x="166.0" y="614.7" width="1.1" height="1.9" fill="#237023"/><rect x="167.7" y="614.7" width="2.4" height="1.9" fill="#237023"/><rect x="170.4" y="614.7" width="3.5" height="1.9" fill="#237023"/><rect x="174.1" y="614.7" width="1.7" height="1.9" fill="#237023"/><rect x="176.1" y="614.7" width="2.8" height="1.9" fill="#237023"/><rect x="179.2" y="614.7" width="3.4" height="1.9" fill="#237023"/><rect x="183.2" y="614.7" width="1.6" height="1.9" fill="#237023"/><rect x="185.3" y="614.7" width="2.4" height="1.9" fill="#237023"/><rect x="188.5" y="614.7" width="1.9" height="1.9" fill="#237023"/><rect x="193.7" y="614.7" width="1.6" height="1.9" fill="#4c9c3e"/><rect x="195.9" y="614.7" width="3.6" height="1.9" fill="#237023"/><rect x="206.1" y="614.7" width="2.0" height="1.9" fill="#237023"/><rect x="208.5" y="614.7" width="1.8" height="1.9" fill="#4c9c3e"/><rect x="210.8" y="614.7" width="1.2" height="1.9" fill="#237023"/><rect x="215.3" y="614.7" width="1.3" height="1.9" fill="#4c9c3e"/><rect x="221.1" y="614.7" width="0.9" height="1.9" fill="#4c9c3e"/><rect x="225.3" y="614.7" width="1.0" height="1.9" fill="#4c9c3e"/><rect x="226.9" y="614.7" width="1.1" height="1.9" fill="#4c9c3e"/><rect x="228.7" y="614.7" width="1.3" height="1.9" fill="#237023"/><rect x="232.0" y="614.7" width="2.3" height="1.9" fill="#237023"/><rect x="234.8" y="614.7" width="1.2" height="1.9" fill="#237023"/><rect x="236.8" y="614.7" width="2.0" height="1.9" fill="#237023"/><rect x="239.5" y="614.7" width="2.8" height="1.9" fill="#4c9c3e"/><rect x="242.9" y="614.7" width="2.8" height="1.9" fill="#4c9c3e"/><rect x="246.0" y="614.7" width="1.7" height="1.9" fill="#237023"/><rect x="247.9" y="614.7" width="1.5" height="1.9" fill="#237023"/><rect x="250.1" y="614.7" width="0.4" height="1.9" fill="#237023"/><rect x="79.6" y="617.2" width="1.1" height="1.6" fill="#3c8c3c"/><rect x="89.3" y="617.2" width="0.8" height="1.6" fill="#3c8c3c"/><rect x="90.9" y="617.2" width="1.3" height="1.6" fill="#3c8c3c"/><rect x="140.4" y="617.2" width="1.1" height="1.6" fill="#3c8c3c"/><rect x="147.6" y="617.2" width="1.4" height="1.6" fill="#3c8c3c"/><rect x="158.8" y="617.2" width="0.8" height="1.6" fill="#3c8c3c"/><rect x="162.9" y="617.2" width="1.3" height="1.6" fill="#3c8c3c"/><rect x="226.6" y="617.2" width="1.5" height="1.6" fill="#3c8c3c"/><rect x="230.6" y="617.2" width="0.7" height="1.6" fill="#3c8c3c"/><rect x="99.7" y="617.2" width="1.8" height="1.9" fill="#4c9c3e"/><rect x="101.9" y="617.2" width="1.5" height="1.9" fill="#4c9c3e"/><rect x="103.6" y="617.2" width="1.2" height="1.9" fill="#237023"/><rect x="105.5" y="617.2" width="1.1" height="1.9" fill="#237023"/><rect x="107.1" y="617.2" width="1.7" height="1.9" fill="#237023"/><rect x="116.8" y="617.2" width="1.5" height="1.9" fill="#237023"/><rect x="118.6" y="617.2" width="2.4" height="1.9" fill="#237023"/><rect x="126.1" y="617.2" width="2.7" height="1.9" fill="#4c9c3e"/><rect x="129.2" y="617.2" width="3.4" height="1.9" fill="#4c9c3e"/><rect x="133.3" y="617.2" width="0.7" height="1.9" fill="#237023"/><rect x="134.3" y="617.2" width="1.1" height="1.9" fill="#237023"/><rect x="136.0" y="617.2" width="2.5" height="1.9" fill="#237023"/><rect x="139.2" y="617.2" width="1.6" height="1.9" fill="#237023"/><rect x="141.4" y="617.2" width="2.0" height="1.9" fill="#237023"/><rect x="145.9" y="617.2" width="1.7" height="1.9" fill="#4c9c3e"/><rect x="148.0" y="617.2" width="1.8" height="1.9" fill="#237023"/><rect x="150.1" y="617.2" width="1.9" height="1.9" fill="#237023"/><rect x="152.2" y="617.2" width="2.2" height="1.9" fill="#237023"/><rect x="159.4" y="617.2" width="2.1" height="1.9" fill="#237023"/><rect x="162.0" y="617.2" width="2.9" height="1.9" fill="#237023"/><rect x="165.4" y="617.2" width="2.8" height="1.9" fill="#237023"/><rect x="168.7" y="617.2" width="2.3" height="1.9" fill="#237023"/><rect x="171.6" y="617.2" width="3.4" height="1.9" fill="#237023"/><rect x="175.7" y="617.2" width="2.3" height="1.9" fill="#4c9c3e"/><rect x="181.1" y="617.2" width="2.1" height="1.9" fill="#237023"/><rect x="183.7" y="617.2" width="1.2" height="1.9" fill="#237023"/><rect x="185.3" y="617.2" width="2.6" height="1.9" fill="#237023"/><rect x="188.2" y="617.2" width="1.8" height="1.9" fill="#237023"/><rect x="190.2" y="617.2" width="1.7" height="1.9" fill="#237023"/><rect x="192.7" y="617.2" width="2.5" height="1.9" fill="#4c9c3e"/><rect x="195.5" y="617.2" width="1.1" height="1.9" fill="#237023"/><rect x="197.1" y="617.2" width="2.9" height="1.9" fill="#237023"/><rect x="206.2" y="617.2" width="2.9" height="1.9" fill="#4c9c3e"/><rect x="209.6" y="617.2" width="1.2" height="1.9" fill="#237023"/><rect x="211.2" y="617.2" width="0.8" height="1.9" fill="#237023"/><rect x="215.3" y="617.2" width="2.2" height="1.9" fill="#237023"/><rect x="217.8" y="617.2" width="2.5" height="1.9" fill="#237023"/><rect x="220.6" y="617.2" width="1.4" height="1.9" fill="#4c9c3e"/><rect x="225.1" y="617.2" width="3.5" height="1.9" fill="#237023"/><rect x="229.0" y="617.2" width="1.0" height="1.9" fill="#237023"/><rect x="232.4" y="617.2" width="2.3" height="1.9" fill="#237023"/><rect x="235.3" y="617.2" width="0.7" height="1.9" fill="#237023"/><rect x="236.6" y="617.2" width="1.1" height="1.9" fill="#237023"/><rect x="238.4" y="617.2" width="2.3" height="1.9" fill="#4c9c3e"/><rect x="241.0" y="617.2" width="2.6" height="1.9" fill="#237023"/><rect x="243.9" y="617.2" width="1.3" height="1.9" fill="#237023"/><rect x="245.6" y="617.2" width="1.9" height="1.9" fill="#237023"/><rect x="248.1" y="617.2" width="2.4" height="1.9" fill="#237023"/><rect x="75.8" y="619.5" width="0.6" height="1.6" fill="#3c8c3c"/><rect x="119.3" y="619.5" width="0.9" height="1.6" fill="#3c8c3c"/><rect x="127.6" y="619.5" width="1.0" height="1.6" fill="#3c8c3c"/><rect x="132.6" y="619.5" width="1.1" height="1.6" fill="#3c8c3c"/><rect x="174.1" y="619.5" width="0.7" height="1.6" fill="#3c8c3c"/><rect x="203.2" y="619.5" width="1.4" height="1.6" fill="#3c8c3c"/><rect x="231.4" y="619.5" width="1.0" height="1.6" fill="#3c8c3c"/><rect x="235.3" y="619.5" width="1.5" height="1.6" fill="#3c8c3c"/><rect x="249.1" y="619.5" width="1.5" height="1.6" fill="#3c8c3c"/><rect x="96.5" y="619.5" width="2.8" height="1.9" fill="#4c9c3e"/><rect x="99.6" y="619.5" width="2.7" height="1.9" fill="#237023"/><rect x="102.8" y="619.5" width="2.7" height="1.9" fill="#4c9c3e"/><rect x="105.7" y="619.5" width="1.8" height="1.9" fill="#237023"/><rect x="107.9" y="619.5" width="0.9" height="1.9" fill="#237023"/><rect x="117.0" y="619.5" width="2.3" height="1.9" fill="#237023"/><rect x="119.6" y="619.5" width="1.7" height="1.9" fill="#237023"/><rect x="123.1" y="619.5" width="2.4" height="1.9" fill="#237023"/><rect x="126.0" y="619.5" width="3.3" height="1.9" fill="#4c9c3e"/><rect x="129.5" y="619.5" width="2.2" height="1.9" fill="#237023"/><rect x="132.4" y="619.5" width="1.6" height="1.9" fill="#237023"/><rect x="136.9" y="619.5" width="1.2" height="1.9" fill="#237023"/><rect x="138.5" y="619.5" width="1.7" height="1.9" fill="#237023"/><rect x="140.7" y="619.5" width="1.6" height="1.9" fill="#4c9c3e"/><rect x="142.9" y="619.5" width="3.2" height="1.9" fill="#237023"/><rect x="146.6" y="619.5" width="3.2" height="1.9" fill="#237023"/><rect x="150.5" y="619.5" width="1.5" height="1.9" fill="#237023"/><rect x="152.3" y="619.5" width="2.2" height="1.9" fill="#4c9c3e"/><rect x="155.1" y="619.5" width="2.8" height="1.9" fill="#4c9c3e"/><rect x="158.5" y="619.5" width="2.8" height="1.9" fill="#237023"/><rect x="162.0" y="619.5" width="1.9" height="1.9" fill="#237023"/><rect x="164.5" y="619.5" width="3.1" height="1.9" fill="#237023"/><rect x="168.0" y="619.5" width="1.4" height="1.9" fill="#237023"/><rect x="169.9" y="619.5" width="2.7" height="1.9" fill="#237023"/><rect x="172.9" y="619.5" width="2.5" height="1.9" fill="#237023"/><rect x="175.9" y="619.5" width="3.0" height="1.9" fill="#237023"/><rect x="183.2" y="619.5" width="2.3" height="1.9" fill="#4c9c3e"/><rect x="186.1" y="619.5" width="2.7" height="1.9" fill="#4c9c3e"/><rect x="189.3" y="619.5" width="1.3" height="1.9" fill="#237023"/><rect x="191.3" y="619.5" width="2.6" height="1.9" fill="#237023"/><rect x="194.2" y="619.5" width="2.9" height="1.9" fill="#237023"/><rect x="197.6" y="619.5" width="1.1" height="1.9" fill="#237023"/><rect x="199.1" y="619.5" width="0.9" height="1.9" fill="#237023"/><rect x="206.6" y="619.5" width="3.5" height="1.9" fill="#237023"/><rect x="210.5" y="619.5" width="1.5" height="1.9" fill="#237023"/><rect x="215.5" y="619.5" width="3.5" height="1.9" fill="#237023"/><rect x="219.7" y="619.5" width="2.3" height="1.9" fill="#237023"/><rect x="225.3" y="619.5" width="2.5" height="1.9" fill="#237023"/><rect x="228.1" y="619.5" width="1.9" height="1.9" fill="#4c9c3e"/><rect x="232.2" y="619.5" width="2.8" height="1.9" fill="#237023"/><rect x="235.3" y="619.5" width="0.7" height="1.9" fill="#237023"/><rect x="237.1" y="619.5" width="2.5" height="1.9" fill="#237023"/><rect x="239.8" y="619.5" width="2.8" height="1.9" fill="#237023"/><rect x="243.1" y="619.5" width="1.1" height="1.9" fill="#237023"/><rect x="244.6" y="619.5" width="1.9" height="1.9" fill="#237023"/>
<rect x="47.00" y="612.40" width="12.00" height="1.00" fill="#5a7fa0" opacity="0.55"/>
<rect x="45.00" y="614.60" width="14.00" height="1.00" fill="#6a9a6a" opacity="0.55"/>
<rect x="48.00" y="616.80" width="11.00" height="1.00" fill="#888" opacity="0.55"/>
<rect x="50.00" y="619.00" width="9.00" height="1.00" fill="#5a7fa0" opacity="0.55"/>
<text x="78.0" y="515.3" font-size="3.2" fill="#666" font-weight="bold" text-anchor="middle">58,660,000</text>
<text x="104.0" y="515.3" font-size="3.2" fill="#666" font-weight="bold" text-anchor="middle">58,665,000</text>
<text x="127.0" y="515.3" font-size="3.2" fill="#666" font-weight="bold" text-anchor="middle">58,670,000</text>
<text x="152.5" y="515.3" font-size="3.2" fill="#666" font-weight="bold" text-anchor="middle">58,675,000</text>
<text x="178.0" y="515.3" font-size="3.2" fill="#666" font-weight="bold" text-anchor="middle">58,680,000</text>
<text x="203.0" y="515.3" font-size="3.2" fill="#666" font-weight="bold" text-anchor="middle">58,685,000</text>
<text x="228.5" y="515.3" font-size="3.2" fill="#666" font-weight="bold" text-anchor="middle">58,690,000</text>
<line x1="122.00" y1="509.80" x2="181.50" y2="509.80" stroke="#888" stroke-width="0.6"/>
<line x1="122.00" y1="508.60" x2="122.00" y2="511.00" stroke="#888" stroke-width="0.6"/>
<line x1="181.50" y1="508.60" x2="181.50" y2="511.00" stroke="#888" stroke-width="0.6"/>
<text x="120.5" y="510.8" font-size="3.2" fill="#555" font-weight="bold" text-anchor="end">10 kb</text>
<text x="183.5" y="510.8" font-size="3.2" fill="#555" font-weight="bold">mm9</text>
<text x="59.0" y="510.0" font-size="2.9" fill="#555" font-weight="bold" text-anchor="end">Scale</text>
<text x="59.0" y="514.0" font-size="2.9" fill="#555" font-weight="bold" text-anchor="end">chr16:</text>
<line x1="130.00" y1="517.80" x2="192.00" y2="517.80" stroke="#333" stroke-width="0.6" stroke-dasharray="0.8 0.8"/>
<text x="138.0" y="519.0" font-size="2.8" fill="#333" font-weight="bold" text-anchor="end">Cpox</text>
<rect x="139.50" y="516.40" width="2.80" height="2.80" fill="#111"/>
<rect x="152.00" y="516.90" width="1.20" height="1.80" fill="#223"/>
<rect x="157.00" y="516.90" width="1.20" height="1.80" fill="#223"/>
<rect x="162.00" y="516.90" width="1.20" height="1.80" fill="#223"/>
<rect x="166.00" y="516.90" width="1.20" height="1.80" fill="#223"/>
<rect x="176.00" y="516.90" width="1.20" height="1.80" fill="#223"/>
<rect x="183.00" y="516.50" width="9.00" height="2.50" fill="#1a1a6a"/>
<line x1="140.80" y1="526.60" x2="190.50" y2="526.60" stroke="#5a7fbc" stroke-width="1.5"/>
<circle cx="140.8" cy="526.6" r="2.1" fill="#5a7fbc"/>
<polygon points="191.3,526.6 186.0,524.4 187.2,526.6 186.0,528.8" fill="#5a7fbc"/>
<text x="116.86" y="529.70" font-size="9.86" fill="#5b6f96" font-style="italic" stroke="#5b6f96" stroke-width="0.25" textLength="18.49" lengthAdjust="spacingAndGlyphs">Cpox</text>
<text x="293.11" y="511.60" font-size="12.2" font-weight="bold" fill="#000">G</text>
<line x1="328.20" y1="521.00" x2="328.20" y2="611.40" stroke="#d4d4d4" stroke-width="0.8"/>
<text x="298.89" y="533.10" font-size="9.29" fill="#161616" stroke="#161616" stroke-width="0.3" textLength="16.23" lengthAdjust="spacingAndGlyphs">IgG</text>
<text x="296.36" y="557.70" font-size="9.52" fill="#62a050" stroke="#62a050" stroke-width="0.3" textLength="20.55" lengthAdjust="spacingAndGlyphs">Ldb1</text>
<text x="294.23" y="580.30" font-size="9.14" fill="#bd383e" stroke="#bd383e" stroke-width="0.3" textLength="25.38" lengthAdjust="spacingAndGlyphs">Gata1</text>
<text x="298.51" y="606.90" font-size="9.93" fill="#2c3391" stroke="#2c3391" stroke-width="0.3" textLength="17.21" lengthAdjust="spacingAndGlyphs">Tal1</text>
<text x="326.7" y="544.4" font-size="2.8" fill="#777" font-weight="bold" text-anchor="end">7.000</text>
<line x1="327.00" y1="542.00" x2="328.20" y2="542.00" stroke="#aaa" stroke-width="0.5"/>
<text x="325.2" y="541.2" font-size="2.6" fill="#888" font-weight="bold" text-anchor="end">0</text>
<text x="326.7" y="567.6" font-size="2.8" fill="#6a9a5a" font-weight="bold" text-anchor="end">0.000</text>
<line x1="327.00" y1="565.20" x2="328.20" y2="565.20" stroke="#aaa" stroke-width="0.5"/>
<text x="325.2" y="564.4" font-size="2.6" fill="#888" font-weight="bold" text-anchor="end">0</text>
<text x="326.7" y="590.8" font-size="2.8" fill="#b06060" font-weight="bold" text-anchor="end">5.000</text>
<line x1="327.00" y1="588.40" x2="328.20" y2="588.40" stroke="#aaa" stroke-width="0.5"/>
<text x="325.2" y="587.6" font-size="2.6" fill="#888" font-weight="bold" text-anchor="end">0</text>
<text x="326.7" y="613.1" font-size="2.8" fill="#6060a0" font-weight="bold" text-anchor="end">0.000</text>
<line x1="327.00" y1="610.70" x2="328.20" y2="610.70" stroke="#aaa" stroke-width="0.5"/>
<text x="326.7" y="522.5" font-size="2.8" fill="#777" font-weight="bold" text-anchor="end">800</text>
<g fill="#1a1a1a"><rect x="332.4" y="541.3" width="1.0" height="0.9"/><rect x="341.3" y="540.9" width="0.8" height="1.3"/><rect x="347.4" y="540.2" width="1.3" height="2.0"/><rect x="348.5" y="541.5" width="1.3" height="0.7"/><rect x="352.4" y="540.9" width="1.6" height="1.3"/><rect x="353.8" y="540.9" width="0.8" height="1.3"/><rect x="357.1" y="539.8" width="1.3" height="2.4"/><rect x="363.3" y="539.8" width="1.0" height="2.4"/><rect x="365.1" y="539.8" width="1.6" height="2.4"/><rect x="367.0" y="541.1" width="1.0" height="1.1"/><rect x="371.3" y="541.5" width="1.3" height="0.7"/><rect x="373.1" y="541.3" width="1.0" height="0.9"/><rect x="373.9" y="540.3" width="1.0" height="1.9"/><rect x="378.9" y="540.8" width="1.6" height="1.4"/><rect x="381.3" y="541.5" width="1.0" height="0.7"/><rect x="387.1" y="540.1" width="1.3" height="2.1"/><rect x="392.3" y="539.8" width="1.3" height="2.4"/><rect x="400.4" y="540.1" width="1.3" height="2.1"/><rect x="406.0" y="541.6" width="0.8" height="0.6"/><rect x="418.1" y="541.1" width="1.3" height="1.1"/><rect x="419.9" y="541.2" width="0.8" height="1.0"/><rect x="423.2" y="541.5" width="1.3" height="0.7"/><rect x="428.4" y="541.5" width="1.6" height="0.7"/><rect x="430.3" y="541.5" width="1.6" height="0.7"/><rect x="431.9" y="541.5" width="1.3" height="0.7"/><rect x="435.9" y="541.5" width="0.8" height="0.7"/><rect x="441.5" y="540.8" width="1.6" height="1.4"/><rect x="442.6" y="541.3" width="1.6" height="0.9"/><rect x="445.7" y="541.5" width="0.8" height="0.7"/><rect x="455.8" y="541.6" width="0.8" height="0.6"/><rect x="464.9" y="540.7" width="0.8" height="1.5"/><rect x="467.1" y="540.5" width="1.3" height="1.7"/><rect x="469.1" y="540.6" width="1.3" height="1.6"/><rect x="471.3" y="540.5" width="1.6" height="1.7"/><rect x="479.2" y="540.3" width="1.6" height="1.9"/><rect x="487.7" y="540.9" width="0.8" height="1.3"/><rect x="490.9" y="540.8" width="1.0" height="1.4"/><rect x="492.5" y="541.3" width="0.8" height="0.9"/><rect x="497.6" y="539.8" width="1.0" height="2.4"/><rect x="511.6" y="540.0" width="1.6" height="2.2"/></g>
<line x1="329.2" y1="541.9" x2="518.5" y2="541.9" stroke="#1a1a1a" stroke-width="0.6" stroke-dasharray="1 2.2" opacity="0.45"/>
<g fill="#15a02a"><rect x="345.4" y="564.2" width="0.8" height="1.2"/><rect x="348.8" y="564.8" width="1.6" height="0.6"/><rect x="362.8" y="564.7" width="1.6" height="0.7"/><rect x="368.6" y="565.0" width="0.8" height="0.4"/><rect x="375.1" y="564.6" width="0.8" height="0.8"/><rect x="394.9" y="564.9" width="1.0" height="0.5"/><rect x="400.4" y="564.1" width="1.0" height="1.3"/><rect x="406.5" y="564.6" width="1.0" height="0.8"/><rect x="447.4" y="564.3" width="1.0" height="1.1"/><rect x="468.0" y="564.8" width="1.3" height="0.6"/><rect x="471.0" y="564.8" width="1.3" height="0.6"/><rect x="472.2" y="565.0" width="1.6" height="0.4"/><rect x="505.3" y="564.5" width="1.0" height="0.9"/><rect x="511.9" y="564.5" width="0.8" height="0.9"/></g>
<line x1="329.2" y1="565.1" x2="518.5" y2="565.1" stroke="#15a02a" stroke-width="0.6" stroke-dasharray="1 2.2" opacity="0.45"/>
<g fill="#d61a1a"><rect x="330.9" y="588.1" width="0.8" height="0.5"/><rect x="334.4" y="587.9" width="0.8" height="0.7"/><rect x="339.4" y="587.1" width="1.0" height="1.5"/><rect x="343.5" y="588.2" width="1.3" height="0.4"/><rect x="355.4" y="588.1" width="0.8" height="0.5"/><rect x="361.0" y="588.0" width="1.3" height="0.6"/><rect x="365.3" y="587.9" width="1.3" height="0.7"/><rect x="372.6" y="588.0" width="1.3" height="0.6"/><rect x="379.3" y="587.5" width="1.3" height="1.1"/><rect x="385.3" y="587.9" width="0.8" height="0.7"/><rect x="387.5" y="588.2" width="1.6" height="0.4"/><rect x="398.5" y="588.2" width="0.8" height="0.4"/><rect x="405.2" y="587.7" width="1.0" height="0.9"/><rect x="409.3" y="588.0" width="0.8" height="0.6"/><rect x="413.7" y="587.8" width="0.8" height="0.8"/><rect x="417.4" y="587.9" width="1.0" height="0.7"/><rect x="419.9" y="587.8" width="1.0" height="0.8"/><rect x="427.0" y="588.2" width="1.0" height="0.4"/><rect x="428.7" y="587.6" width="0.8" height="1.0"/><rect x="432.0" y="588.1" width="1.6" height="0.5"/><rect x="433.1" y="586.9" width="1.6" height="1.7"/><rect x="435.6" y="587.7" width="1.3" height="0.9"/><rect x="441.3" y="588.0" width="1.3" height="0.6"/><rect x="443.4" y="588.1" width="1.6" height="0.5"/><rect x="444.3" y="587.9" width="0.8" height="0.7"/><rect x="447.4" y="586.9" width="0.8" height="1.7"/><rect x="451.9" y="587.9" width="1.0" height="0.7"/><rect x="455.0" y="588.0" width="1.6" height="0.6"/><rect x="461.0" y="588.2" width="0.8" height="0.4"/><rect x="463.0" y="587.8" width="1.0" height="0.8"/><rect x="465.9" y="588.2" width="1.0" height="0.4"/><rect x="469.7" y="587.7" width="1.3" height="0.9"/><rect x="472.0" y="587.6" width="1.0" height="1.0"/><rect x="473.2" y="587.7" width="1.6" height="0.9"/><rect x="478.5" y="588.1" width="1.3" height="0.5"/><rect x="482.0" y="587.3" width="1.3" height="1.3"/><rect x="485.5" y="587.3" width="1.3" height="1.3"/><rect x="487.8" y="587.1" width="1.3" height="1.5"/><rect x="488.7" y="587.8" width="1.3" height="0.8"/><rect x="489.9" y="588.0" width="1.3" height="0.6"/><rect x="491.5" y="586.9" width="0.8" height="1.7"/><rect x="493.5" y="587.4" width="1.3" height="1.2"/><rect x="499.1" y="588.2" width="1.3" height="0.4"/><rect x="500.8" y="588.2" width="1.3" height="0.4"/><rect x="504.5" y="588.0" width="1.0" height="0.6"/><rect x="512.6" y="588.2" width="1.0" height="0.4"/><rect x="514.8" y="587.5" width="1.3" height="1.1"/></g>
<line x1="329.2" y1="588.3" x2="518.5" y2="588.3" stroke="#d61a1a" stroke-width="0.6" stroke-dasharray="1 2.2" opacity="0.45"/>
<g fill="#1414c0"><rect x="330.2" y="609.9" width="1.0" height="1.0"/><rect x="334.4" y="610.0" width="0.8" height="0.9"/><rect x="341.3" y="610.5" width="0.8" height="0.4"/><rect x="342.7" y="610.2" width="1.6" height="0.7"/><rect x="347.0" y="610.1" width="1.0" height="0.8"/><rect x="376.5" y="610.5" width="0.8" height="0.4"/><rect x="395.6" y="610.5" width="1.0" height="0.4"/><rect x="402.9" y="610.1" width="1.0" height="0.8"/><rect x="412.7" y="610.5" width="0.8" height="0.4"/><rect x="416.2" y="609.9" width="0.8" height="1.0"/><rect x="450.9" y="609.9" width="1.0" height="1.0"/><rect x="490.0" y="610.1" width="1.6" height="0.8"/><rect x="494.0" y="609.9" width="1.6" height="1.0"/></g>
<line x1="329.2" y1="610.6" x2="518.5" y2="610.6" stroke="#1414c0" stroke-width="0.6" stroke-dasharray="1 2.2" opacity="0.45"/>
<polygon points="332.50,542.20 333.25,541.21 333.80,540.40 334.30,540.58 334.75,541.39 335.50,542.20" fill="#1a1a1a"/>
<polygon points="343.50,542.20 344.25,541.38 344.80,540.70 345.30,540.85 345.75,541.53 346.50,542.20" fill="#1a1a1a"/>
<polygon points="354.50,542.20 355.25,541.10 355.80,540.20 356.30,540.40 356.75,541.30 357.50,542.20" fill="#1a1a1a"/>
<polygon points="370.00,542.20 371.00,540.44 371.80,539.00 372.30,539.32 373.00,540.76 374.00,542.20" fill="#1a1a1a"/>
<polygon points="374.00,542.20 374.75,540.77 375.30,539.60 375.80,539.86 376.25,541.03 377.00,542.20" fill="#1a1a1a"/>
<polygon points="384.50,542.20 385.25,541.38 385.80,540.70 386.30,540.85 386.75,541.53 387.50,542.20" fill="#1a1a1a"/>
<polygon points="394.50,542.20 395.25,541.10 395.80,540.20 396.30,540.40 396.75,541.30 397.50,542.20" fill="#1a1a1a"/>
<polygon points="410.50,542.20 411.25,540.83 411.80,539.70 412.30,539.95 412.75,541.08 413.50,542.20" fill="#1a1a1a"/>
<polygon points="417.50,542.20 418.25,541.38 418.80,540.70 419.30,540.85 419.75,541.53 420.50,542.20" fill="#1a1a1a"/>
<polygon points="457.00,542.20 458.00,540.55 458.80,539.20 459.30,539.50 460.00,540.85 461.00,542.20" fill="#1a1a1a"/>
<polygon points="461.00,542.20 461.75,540.66 462.30,539.40 462.80,539.68 463.25,540.94 464.00,542.20" fill="#1a1a1a"/>
<polygon points="465.50,542.20 466.25,541.38 466.80,540.70 467.30,540.85 467.75,541.53 468.50,542.20" fill="#1a1a1a"/>
<polygon points="476.00,542.20 477.00,540.83 477.80,539.70 478.30,539.95 479.00,541.08 480.00,542.20" fill="#1a1a1a"/>
<polygon points="480.00,542.20 481.00,541.10 481.80,540.20 482.30,540.40 483.00,541.30 484.00,542.20" fill="#1a1a1a"/>
<polygon points="486.50,542.20 487.25,541.38 487.80,540.70 488.30,540.85 488.75,541.53 489.50,542.20" fill="#1a1a1a"/>
<polygon points="510.50,542.20 511.25,541.10 511.80,540.20 512.30,540.40 512.75,541.30 513.50,542.20" fill="#1a1a1a"/>
<polygon points="330.00,542.20 330.50,541.32 330.80,540.60 331.30,540.76 331.50,541.48 332.00,542.20" fill="#1a1a1a"/>
<polygon points="440.00,542.20 440.50,541.38 440.80,540.70 441.30,540.85 441.50,541.53 442.00,542.20" fill="#1a1a1a"/>
<polygon points="499.00,542.20 499.50,541.38 499.80,540.70 500.30,540.85 500.50,541.53 501.00,542.20" fill="#1a1a1a"/>
<polygon points="418.50,565.40 419.25,564.30 419.80,563.40 420.30,563.60 420.75,564.50 421.50,565.40" fill="#15a02a"/>
<polygon points="410.50,565.40 411.25,564.57 411.80,563.90 412.30,564.05 412.75,564.73 413.50,565.40" fill="#15a02a"/>
<polygon points="448.50,565.40 449.25,564.74 449.80,564.20 450.30,564.32 450.75,564.86 451.50,565.40" fill="#15a02a"/>
<polygon points="462.50,565.40 463.25,564.74 463.80,564.20 464.30,564.32 464.75,564.86 465.50,565.40" fill="#15a02a"/>
<polygon points="348.50,588.60 349.25,587.77 349.80,587.10 350.30,587.25 350.75,587.93 351.50,588.60" fill="#d61a1a"/>
<polygon points="370.50,588.60 371.25,587.61 371.80,586.80 372.30,586.98 372.75,587.79 373.50,588.60" fill="#d61a1a"/>
<polygon points="397.50,588.60 398.25,587.50 398.80,586.60 399.30,586.80 399.75,587.70 400.50,588.60" fill="#d61a1a"/>
<polygon points="408.50,588.60 409.25,586.95 409.80,585.60 410.30,585.90 410.75,587.25 411.50,588.60" fill="#d61a1a"/>
<polygon points="412.00,588.60 412.50,587.39 412.80,586.40 413.30,586.62 413.50,587.61 414.00,588.60" fill="#d61a1a"/>
<polygon points="420.50,588.60 421.25,586.68 421.80,585.10 422.30,585.45 422.75,587.02 423.50,588.60" fill="#d61a1a"/>
<polygon points="424.00,588.60 424.50,587.23 424.80,586.10 425.30,586.35 425.50,587.48 426.00,588.60" fill="#d61a1a"/>
<polygon points="426.50,588.60 427.25,587.50 427.80,586.60 428.30,586.80 428.75,587.70 429.50,588.60" fill="#d61a1a"/>
<polygon points="441.50,588.60 442.25,587.50 442.80,586.60 443.30,586.80 443.75,587.70 444.50,588.60" fill="#d61a1a"/>
<polygon points="456.50,588.60 457.25,587.39 457.80,586.40 458.30,586.62 458.75,587.61 459.50,588.60" fill="#d61a1a"/>
<polygon points="460.50,588.60 461.25,587.23 461.80,586.10 462.30,586.35 462.75,587.48 463.50,588.60" fill="#d61a1a"/>
<polygon points="464.50,588.60 465.25,587.23 465.80,586.10 466.30,586.35 466.75,587.48 467.50,588.60" fill="#d61a1a"/>
<polygon points="480.50,588.60 481.25,587.39 481.80,586.40 482.30,586.62 482.75,587.61 483.50,588.60" fill="#d61a1a"/>
<polygon points="486.50,588.60 487.25,587.39 487.80,586.40 488.30,586.62 488.75,587.61 489.50,588.60" fill="#d61a1a"/>
<polygon points="494.50,588.60 495.25,587.72 495.80,587.00 496.30,587.16 496.75,587.88 497.50,588.60" fill="#d61a1a"/>
<polygon points="506.50,588.60 507.25,587.50 507.80,586.60 508.30,586.80 508.75,587.70 509.50,588.60" fill="#d61a1a"/>
<polygon points="338.50,588.60 339.25,587.72 339.80,587.00 340.30,587.16 340.75,587.88 341.50,588.60" fill="#d61a1a"/>
<polygon points="360.50,588.60 361.25,587.61 361.80,586.80 362.30,586.98 362.75,587.79 363.50,588.60" fill="#d61a1a"/>
<polygon points="383.50,588.60 384.25,587.72 384.80,587.00 385.30,587.16 385.75,587.88 386.50,588.60" fill="#d61a1a"/>
<polygon points="390.50,588.60 391.25,587.61 391.80,586.80 392.30,586.98 392.75,587.79 393.50,588.60" fill="#d61a1a"/>
<polygon points="409.50,610.90 410.75,609.91 411.80,609.10 412.30,609.28 413.25,610.09 414.50,610.90" fill="#1414c0"/>
<polygon points="342.50,610.90 343.25,610.24 343.80,609.70 344.30,609.82 344.75,610.36 345.50,610.90" fill="#1414c0"/>
<polygon points="380.50,610.90 381.25,610.24 381.80,609.70 382.30,609.82 382.75,610.36 383.50,610.90" fill="#1414c0"/>
<polygon points="440.50,610.90 441.25,610.24 441.80,609.70 442.30,609.82 442.75,610.36 443.50,610.90" fill="#1414c0"/>
<polygon points="494.50,610.90 495.25,610.24 495.80,609.70 496.30,609.82 496.75,610.36 497.50,610.90" fill="#1414c0"/>
<polygon points="413.80,565.40 414.52,564.00 414.99,560.72 415.21,551.36 415.43,543.87 415.70,542.00 416.75,542.00 417.02,544.34 417.25,552.53 417.46,561.19 417.88,564.23 418.60,565.40" fill="#15a02a"/>
<polygon points="413.60,588.60 414.38,587.22 414.88,584.00 415.12,574.80 415.36,567.44 415.66,565.60 416.80,565.60 417.10,567.90 417.34,575.95 417.58,584.46 418.02,587.45 418.80,588.60" fill="#d61a1a"/>
<polygon points="413.60,610.90 414.38,609.57 414.88,606.48 415.12,597.64 415.36,590.57 415.66,588.80 416.80,588.80 417.10,591.01 417.34,598.75 417.58,606.92 418.02,609.79 418.80,610.90" fill="#1414c0"/>
<rect x="328.8" y="611.2" width="189.2" height="9.8" fill="#dfe1dd"/>
<rect x="328.8" y="611.5" width="1.0" height="1.6" fill="#6cbc5c"/><rect x="349.0" y="611.5" width="0.6" height="1.6" fill="#6cbc5c"/><rect x="409.3" y="611.5" width="0.8" height="1.6" fill="#6cbc5c"/><rect x="416.4" y="611.5" width="1.0" height="1.6" fill="#6cbc5c"/><rect x="432.3" y="611.5" width="0.7" height="1.6" fill="#6cbc5c"/><rect x="436.2" y="611.5" width="0.8" height="1.6" fill="#6cbc5c"/><rect x="451.8" y="611.5" width="0.7" height="1.6" fill="#6cbc5c"/><rect x="474.1" y="611.5" width="1.2" height="1.6" fill="#6cbc5c"/><rect x="331.1" y="611.5" width="2.9" height="1.9" fill="#6cbc5c"/><rect x="334.5" y="611.5" width="0.9" height="1.9" fill="#6cbc5c"/><rect x="341.2" y="611.5" width="2.0" height="1.9" fill="#6cbc5c"/><rect x="343.6" y="611.5" width="1.6" height="1.9" fill="#5a82b0"/><rect x="345.5" y="611.5" width="0.5" height="1.9" fill="#6cbc5c"/><rect x="354.7" y="611.5" width="1.1" height="1.9" fill="#6cbc5c"/><rect x="356.2" y="611.5" width="1.0" height="1.9" fill="#6cbc5c"/><rect x="363.2" y="611.5" width="3.4" height="1.9" fill="#6cbc5c"/><rect x="367.1" y="611.5" width="1.6" height="1.9" fill="#5a82b0"/><rect x="369.2" y="611.5" width="1.8" height="1.9" fill="#6cbc5c"/><rect x="371.3" y="611.5" width="2.0" height="1.9" fill="#5a82b0"/><rect x="412.3" y="611.5" width="3.2" height="1.9" fill="#6cbc5c"/><rect x="416.1" y="611.5" width="2.4" height="1.9" fill="#6cbc5c"/><rect x="419.1" y="611.5" width="1.6" height="1.9" fill="#6cbc5c"/><rect x="421.4" y="611.5" width="2.8" height="1.9" fill="#5a82b0"/><rect x="424.8" y="611.5" width="1.2" height="1.9" fill="#6cbc5c"/><rect x="426.7" y="611.5" width="1.4" height="1.9" fill="#6cbc5c"/><rect x="428.3" y="611.5" width="2.1" height="1.9" fill="#6cbc5c"/><rect x="430.6" y="611.5" width="1.1" height="1.9" fill="#6cbc5c"/><rect x="432.1" y="611.5" width="2.2" height="1.9" fill="#5a82b0"/><rect x="435.0" y="611.5" width="2.9" height="1.9" fill="#6cbc5c"/><rect x="438.1" y="611.5" width="2.9" height="1.9" fill="#6cbc5c"/><rect x="457.7" y="611.5" width="2.0" height="1.9" fill="#5a82b0"/><rect x="460.2" y="611.5" width="3.2" height="1.9" fill="#5a82b0"/><rect x="463.9" y="611.5" width="2.0" height="1.9" fill="#5a82b0"/><rect x="466.6" y="611.5" width="2.9" height="1.9" fill="#6cbc5c"/><rect x="470.0" y="611.5" width="3.0" height="1.9" fill="#6cbc5c"/><rect x="473.5" y="611.5" width="3.3" height="1.9" fill="#6cbc5c"/><rect x="477.1" y="611.5" width="1.6" height="1.9" fill="#5a82b0"/><rect x="479.1" y="611.5" width="1.8" height="1.9" fill="#6cbc5c"/><rect x="481.5" y="611.5" width="1.9" height="1.9" fill="#6cbc5c"/><rect x="483.7" y="611.5" width="3.4" height="1.9" fill="#5a82b0"/><rect x="487.3" y="611.5" width="1.7" height="1.9" fill="#5a82b0"/><rect x="496.0" y="611.5" width="1.2" height="1.9" fill="#6cbc5c"/><rect x="497.7" y="611.5" width="1.9" height="1.9" fill="#6cbc5c"/><rect x="499.9" y="611.5" width="2.6" height="1.9" fill="#5a82b0"/><rect x="502.9" y="611.5" width="3.0" height="1.9" fill="#5a82b0"/><rect x="509.0" y="611.5" width="3.3" height="1.9" fill="#6cbc5c"/><rect x="512.9" y="611.5" width="1.7" height="1.9" fill="#5a82b0"/><rect x="515.1" y="611.5" width="2.4" height="1.9" fill="#5a82b0"/><rect x="367.3" y="614.4" width="1.5" height="1.6" fill="#3c8c3c"/><rect x="372.3" y="614.4" width="1.4" height="1.6" fill="#3c8c3c"/><rect x="377.9" y="614.4" width="1.0" height="1.6" fill="#3c8c3c"/><rect x="380.1" y="614.4" width="0.9" height="1.6" fill="#3c8c3c"/><rect x="383.7" y="614.4" width="1.0" height="1.6" fill="#3c8c3c"/><rect x="388.1" y="614.4" width="0.7" height="1.6" fill="#3c8c3c"/><rect x="413.5" y="614.4" width="1.2" height="1.6" fill="#3c8c3c"/><rect x="422.3" y="614.4" width="1.5" height="1.6" fill="#3c8c3c"/><rect x="449.4" y="614.4" width="1.1" height="1.6" fill="#3c8c3c"/><rect x="331.2" y="614.4" width="2.6" height="1.9" fill="#4c9c3e"/><rect x="334.0" y="614.4" width="1.4" height="1.9" fill="#237023"/><rect x="341.2" y="614.4" width="2.1" height="1.9" fill="#237023"/><rect x="343.9" y="614.4" width="2.0" height="1.9" fill="#237023"/><rect x="349.1" y="614.4" width="1.3" height="1.9" fill="#237023"/><rect x="350.6" y="614.4" width="1.3" height="1.9" fill="#4c9c3e"/><rect x="354.7" y="614.4" width="2.8" height="1.9" fill="#4c9c3e"/><rect x="365.7" y="614.4" width="3.3" height="1.9" fill="#237023"/><rect x="369.5" y="614.4" width="1.6" height="1.9" fill="#4c9c3e"/><rect x="371.7" y="614.4" width="2.3" height="1.9" fill="#4c9c3e"/><rect x="412.1" y="614.4" width="1.6" height="1.9" fill="#4c9c3e"/><rect x="414.2" y="614.4" width="2.6" height="1.9" fill="#237023"/><rect x="417.2" y="614.4" width="2.5" height="1.9" fill="#237023"/><rect x="420.1" y="614.4" width="3.1" height="1.9" fill="#237023"/><rect x="423.5" y="614.4" width="1.9" height="1.9" fill="#237023"/><rect x="425.8" y="614.4" width="3.4" height="1.9" fill="#237023"/><rect x="429.6" y="614.4" width="2.9" height="1.9" fill="#237023"/><rect x="433.1" y="614.4" width="1.5" height="1.9" fill="#237023"/><rect x="435.2" y="614.4" width="2.7" height="1.9" fill="#237023"/><rect x="438.6" y="614.4" width="2.4" height="1.9" fill="#237023"/><rect x="457.9" y="614.4" width="2.1" height="1.9" fill="#237023"/><rect x="460.3" y="614.4" width="1.4" height="1.9" fill="#4c9c3e"/><rect x="462.3" y="614.4" width="2.5" height="1.9" fill="#4c9c3e"/><rect x="465.0" y="614.4" width="1.8" height="1.9" fill="#237023"/><rect x="467.1" y="614.4" width="3.0" height="1.9" fill="#4c9c3e"/><rect x="470.5" y="614.4" width="2.5" height="1.9" fill="#4c9c3e"/><rect x="473.5" y="614.4" width="1.6" height="1.9" fill="#237023"/><rect x="475.3" y="614.4" width="3.2" height="1.9" fill="#4c9c3e"/><rect x="478.8" y="614.4" width="3.5" height="1.9" fill="#237023"/><rect x="482.9" y="614.4" width="1.0" height="1.9" fill="#237023"/><rect x="484.2" y="614.4" width="2.1" height="1.9" fill="#237023"/><rect x="486.8" y="614.4" width="2.2" height="1.9" fill="#237023"/><rect x="496.4" y="614.4" width="1.6" height="1.9" fill="#237023"/><rect x="501.2" y="614.4" width="1.7" height="1.9" fill="#4c9c3e"/><rect x="503.4" y="614.4" width="1.6" height="1.9" fill="#237023"/><rect x="505.7" y="614.4" width="0.8" height="1.9" fill="#237023"/><rect x="509.0" y="614.4" width="1.9" height="1.9" fill="#4c9c3e"/><rect x="511.2" y="614.4" width="2.3" height="1.9" fill="#237023"/><rect x="514.0" y="614.4" width="1.5" height="1.9" fill="#237023"/><rect x="516.0" y="614.4" width="2.0" height="1.9" fill="#237023"/><rect x="368.5" y="616.9" width="1.1" height="1.6" fill="#3c8c3c"/><rect x="409.3" y="616.9" width="0.9" height="1.6" fill="#3c8c3c"/><rect x="416.9" y="616.9" width="1.3" height="1.6" fill="#3c8c3c"/><rect x="448.0" y="616.9" width="1.6" height="1.6" fill="#3c8c3c"/><rect x="485.2" y="616.9" width="1.3" height="1.6" fill="#3c8c3c"/><rect x="330.7" y="616.9" width="1.5" height="1.9" fill="#237023"/><rect x="332.5" y="616.9" width="2.3" height="1.9" fill="#237023"/><rect x="341.3" y="616.9" width="3.3" height="1.9" fill="#4c9c3e"/><rect x="354.9" y="616.9" width="1.8" height="1.9" fill="#4c9c3e"/><rect x="364.7" y="616.9" width="3.1" height="1.9" fill="#237023"/><rect x="368.4" y="616.9" width="1.6" height="1.9" fill="#237023"/><rect x="412.2" y="616.9" width="1.3" height="1.9" fill="#237023"/><rect x="414.1" y="616.9" width="1.1" height="1.9" fill="#237023"/><rect x="415.7" y="616.9" width="3.4" height="1.9" fill="#237023"/><rect x="419.6" y="616.9" width="2.5" height="1.9" fill="#237023"/><rect x="422.6" y="616.9" width="3.5" height="1.9" fill="#237023"/><rect x="426.9" y="616.9" width="3.3" height="1.9" fill="#4c9c3e"/><rect x="430.8" y="616.9" width="2.1" height="1.9" fill="#237023"/><rect x="433.6" y="616.9" width="1.5" height="1.9" fill="#4c9c3e"/><rect x="435.7" y="616.9" width="3.2" height="1.9" fill="#4c9c3e"/><rect x="439.6" y="616.9" width="1.4" height="1.9" fill="#237023"/><rect x="460.1" y="616.9" width="2.6" height="1.9" fill="#4c9c3e"/><rect x="463.4" y="616.9" width="2.9" height="1.9" fill="#237023"/><rect x="466.8" y="616.9" width="1.6" height="1.9" fill="#237023"/><rect x="468.7" y="616.9" width="1.5" height="1.9" fill="#237023"/><rect x="470.8" y="616.9" width="2.2" height="1.9" fill="#237023"/><rect x="477.5" y="616.9" width="3.5" height="1.9" fill="#237023"/><rect x="481.3" y="616.9" width="1.7" height="1.9" fill="#237023"/><rect x="483.6" y="616.9" width="1.9" height="1.9" fill="#237023"/><rect x="496.3" y="616.9" width="2.6" height="1.9" fill="#4c9c3e"/><rect x="499.2" y="616.9" width="1.5" height="1.9" fill="#237023"/><rect x="501.2" y="616.9" width="2.3" height="1.9" fill="#4c9c3e"/><rect x="505.7" y="616.9" width="0.8" height="1.9" fill="#237023"/><rect x="508.7" y="616.9" width="3.3" height="1.9" fill="#4c9c3e"/><rect x="512.3" y="616.9" width="1.5" height="1.9" fill="#237023"/><rect x="514.4" y="616.9" width="2.3" height="1.9" fill="#4c9c3e"/><rect x="517.1" y="616.9" width="0.9" height="1.9" fill="#237023"/><rect x="331.6" y="619.2" width="1.0" height="1.6" fill="#3c8c3c"/><rect x="352.7" y="619.2" width="1.5" height="1.6" fill="#3c8c3c"/><rect x="357.9" y="619.2" width="1.1" height="1.6" fill="#3c8c3c"/><rect x="388.7" y="619.2" width="0.8" height="1.6" fill="#3c8c3c"/><rect x="392.3" y="619.2" width="1.3" height="1.6" fill="#3c8c3c"/><rect x="408.9" y="619.2" width="1.2" height="1.6" fill="#3c8c3c"/><rect x="457.7" y="619.2" width="1.3" height="1.6" fill="#3c8c3c"/><rect x="503.9" y="619.2" width="0.6" height="1.6" fill="#3c8c3c"/><rect x="330.7" y="619.2" width="1.2" height="1.9" fill="#237023"/><rect x="335.0" y="619.2" width="0.4" height="1.9" fill="#237023"/><rect x="341.3" y="619.2" width="3.4" height="1.9" fill="#237023"/><rect x="344.9" y="619.2" width="1.1" height="1.9" fill="#237023"/><rect x="349.5" y="619.2" width="1.2" height="1.9" fill="#237023"/><rect x="351.1" y="619.2" width="0.9" height="1.9" fill="#237023"/><rect x="366.2" y="619.2" width="1.8" height="1.9" fill="#237023"/><rect x="368.3" y="619.2" width="1.4" height="1.9" fill="#4c9c3e"/><rect x="370.2" y="619.2" width="3.2" height="1.9" fill="#237023"/><rect x="412.3" y="619.2" width="3.1" height="1.9" fill="#237023"/><rect x="415.7" y="619.2" width="2.7" height="1.9" fill="#237023"/><rect x="418.6" y="619.2" width="1.7" height="1.9" fill="#4c9c3e"/><rect x="421.0" y="619.2" width="1.2" height="1.9" fill="#237023"/><rect x="422.7" y="619.2" width="2.6" height="1.9" fill="#237023"/><rect x="425.7" y="619.2" width="2.5" height="1.9" fill="#237023"/><rect x="428.7" y="619.2" width="1.2" height="1.9" fill="#237023"/><rect x="430.5" y="619.2" width="3.5" height="1.9" fill="#237023"/><rect x="434.6" y="619.2" width="2.8" height="1.9" fill="#4c9c3e"/><rect x="458.0" y="619.2" width="1.8" height="1.9" fill="#4c9c3e"/><rect x="460.2" y="619.2" width="1.5" height="1.9" fill="#237023"/><rect x="462.4" y="619.2" width="2.0" height="1.9" fill="#237023"/><rect x="464.9" y="619.2" width="1.4" height="1.9" fill="#237023"/><rect x="466.7" y="619.2" width="2.5" height="1.9" fill="#237023"/><rect x="469.5" y="619.2" width="2.0" height="1.9" fill="#237023"/><rect x="472.0" y="619.2" width="2.4" height="1.9" fill="#237023"/><rect x="475.0" y="619.2" width="1.7" height="1.9" fill="#237023"/><rect x="477.1" y="619.2" width="3.1" height="1.9" fill="#237023"/><rect x="480.8" y="619.2" width="1.9" height="1.9" fill="#4c9c3e"/><rect x="483.3" y="619.2" width="2.5" height="1.9" fill="#4c9c3e"/><rect x="486.0" y="619.2" width="2.4" height="1.9" fill="#237023"/><rect x="496.4" y="619.2" width="2.6" height="1.9" fill="#237023"/><rect x="499.4" y="619.2" width="3.1" height="1.9" fill="#237023"/><rect x="503.1" y="619.2" width="1.2" height="1.9" fill="#237023"/><rect x="509.0" y="619.2" width="2.0" height="1.9" fill="#237023"/><rect x="511.6" y="619.2" width="2.7" height="1.9" fill="#237023"/><rect x="514.6" y="619.2" width="1.6" height="1.9" fill="#4c9c3e"/><rect x="516.8" y="619.2" width="1.2" height="1.9" fill="#4c9c3e"/>
<rect x="314.20" y="612.10" width="12.00" height="1.00" fill="#5a7fa0" opacity="0.55"/>
<rect x="312.20" y="614.30" width="14.00" height="1.00" fill="#6a9a6a" opacity="0.55"/>
<rect x="315.20" y="616.50" width="11.00" height="1.00" fill="#888" opacity="0.55"/>
<rect x="317.20" y="618.70" width="9.00" height="1.00" fill="#5a7fa0" opacity="0.55"/>
<text x="348.5" y="510.8" font-size="3.2" fill="#666" font-weight="bold" text-anchor="middle">87,415,000</text>
<text x="377.5" y="510.8" font-size="3.2" fill="#666" font-weight="bold" text-anchor="middle">87,420,000</text>
<text x="405.5" y="510.8" font-size="3.2" fill="#666" font-weight="bold" text-anchor="middle">87,425,000</text>
<text x="433.5" y="510.8" font-size="3.2" fill="#666" font-weight="bold" text-anchor="middle">87,430,000</text>
<text x="462.5" y="510.8" font-size="3.2" fill="#666" font-weight="bold" text-anchor="middle">87,435,000</text>
<text x="491.5" y="510.8" font-size="3.2" fill="#666" font-weight="bold" text-anchor="middle">87,440,000</text>
<line x1="390.00" y1="505.70" x2="452.00" y2="505.70" stroke="#888" stroke-width="0.6"/>
<line x1="390.00" y1="504.50" x2="390.00" y2="506.90" stroke="#888" stroke-width="0.6"/>
<line x1="452.00" y1="504.50" x2="452.00" y2="506.90" stroke="#888" stroke-width="0.6"/>
<text x="388.5" y="506.7" font-size="3.2" fill="#555" font-weight="bold" text-anchor="end">10 kb</text>
<text x="454.0" y="506.7" font-size="3.2" fill="#555" font-weight="bold">mm9</text>
<text x="327.0" y="505.5" font-size="2.9" fill="#555" font-weight="bold" text-anchor="end">Scale</text>
<text x="327.0" y="509.2" font-size="2.9" fill="#555" font-weight="bold" text-anchor="end">chr8:</text>
<text x="327.0" y="517.0" font-size="2.9" fill="#555" font-weight="bold" text-anchor="end">Dnase2a</text>
<line x1="330.00" y1="516.60" x2="375.00" y2="516.60" stroke="#2a2a6a" stroke-width="0.6" stroke-dasharray="0.8 0.8"/>
<rect x="330.00" y="515.50" width="4.00" height="2.40" fill="#1a1a5a"/>
<rect x="342.00" y="515.50" width="2.00" height="2.20" fill="#1a1a5a"/>
<rect x="348.00" y="515.50" width="2.50" height="2.20" fill="#1a1a5a"/>
<rect x="357.00" y="515.50" width="2.00" height="2.20" fill="#1a1a5a"/>
<rect x="365.00" y="515.50" width="2.00" height="2.20" fill="#1a1a5a"/>
<rect x="370.00" y="515.50" width="2.00" height="2.20" fill="#1a1a5a"/>
<rect x="334.00" y="512.60" width="2.00" height="1.80" fill="#222"/>
<text x="331.0" y="513.6" font-size="2.8" fill="#556" font-weight="bold" text-anchor="end">Rnaseh2a</text>
<line x1="418.00" y1="513.30" x2="440.00" y2="513.30" stroke="#2a2a6a" stroke-width="0.7"/>
<rect x="425.00" y="512.00" width="4.00" height="2.60" fill="#1a1a5a"/>
<rect x="436.00" y="512.30" width="2.00" height="2.00" fill="#1a1a5a"/>
<text x="424.0" y="514.3" font-size="2.8" fill="#556" font-weight="bold" text-anchor="end">Klf1</text>
<line x1="477.00" y1="513.30" x2="520.00" y2="513.30" stroke="#2a2a6a" stroke-width="0.9"/>
<rect x="477.00" y="511.60" width="10.00" height="3.20" fill="#1a1a5a"/>
<rect x="497.00" y="512.20" width="6.00" height="2.40" fill="#1a1a5a"/>
<rect x="513.00" y="512.20" width="5.00" height="2.40" fill="#1a1a5a"/>
<line x1="445.00" y1="517.30" x2="474.00" y2="517.30" stroke="#444" stroke-width="0.5" stroke-dasharray="0.8 0.8"/>
<rect x="458.00" y="516.20" width="14.00" height="2.20" fill="#2a2a6a"/>
<text x="458.0" y="518.0" font-size="2.8" fill="#888" font-weight="bold" text-anchor="end">Gcdh</text>
<text x="476.0" y="513.6" font-size="2.8" fill="#778" font-weight="bold" text-anchor="end">Syce2</text>
<line x1="420.30" y1="521.20" x2="437.50" y2="521.20" stroke="#5a7fbc" stroke-width="1.5"/>
<circle cx="420.3" cy="521.2" r="2.1" fill="#5a7fbc"/>
<polygon points="438.3,521.2 433.0,519.0 434.2,521.2 433.0,523.4" fill="#5a7fbc"/>
<text x="401.74" y="524.80" font-size="10.48" fill="#5b6f96" font-style="italic" stroke="#5b6f96" stroke-width="0.25" textLength="15.03" lengthAdjust="spacingAndGlyphs">Klf1</text>
</svg>
</body></html>
